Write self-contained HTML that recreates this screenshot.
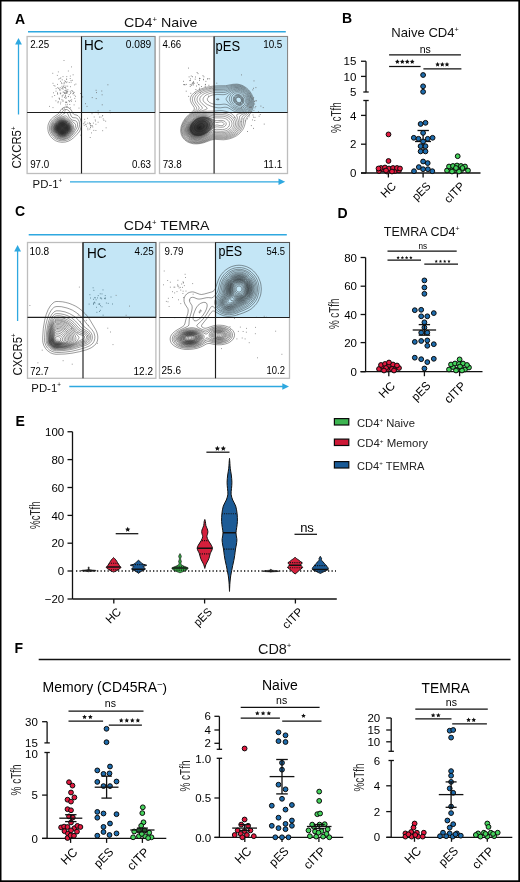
<!DOCTYPE html>
<html><head><meta charset="utf-8"><style>
html,body{margin:0;padding:0;background:#fff;}
svg{display:block;will-change:transform;}
text{font-family:"Liberation Sans", sans-serif;}
</style></head><body>
<svg width="520" height="882" viewBox="0 0 520 882" font-family="Liberation Sans, sans-serif">
<rect x="0.00" y="0.00" width="520.00" height="882.00" fill="#000" stroke="none" stroke-width="1"/>
<rect x="1.50" y="1.50" width="516.80" height="878.80" fill="#fff" stroke="none" stroke-width="1"/>
<text x="15.00" y="24.00" font-size="14" font-weight="bold" fill="#000">A</text>
<text x="124.00" y="27.00" font-size="12.8" fill="#111" textLength="73.50" lengthAdjust="spacingAndGlyphs">CD4<tspan font-size="7.0" dy="-5.4">+</tspan><tspan dy="5.4"> Naive</tspan></text>
<line x1="28.00" y1="31.70" x2="285.80" y2="31.70" stroke="#2EA8E0" stroke-width="1.6"/>
<rect x="27.10" y="36.50" width="127.90" height="137.00" fill="#fff" stroke="#BDBDBD" stroke-width="1.3"/>
<rect x="81.50" y="36.50" width="73.50" height="76.00" fill="#C4E6F6" stroke="#888" stroke-width="1"/>
<rect x="159.50" y="36.50" width="128.00" height="137.00" fill="#fff" stroke="#BDBDBD" stroke-width="1.3"/>
<rect x="214.10" y="36.50" width="73.40" height="76.00" fill="#C4E6F6" stroke="#888" stroke-width="1"/>
<clipPath id="cA1"><rect x="27.5" y="37" width="127" height="136.25"/></clipPath>
<clipPath id="cA2"><rect x="160" y="37" width="127" height="136.25"/></clipPath>
<defs><radialGradient id="gcore"><stop offset="0" stop-color="#111" stop-opacity="0.95"/><stop offset="0.55" stop-color="#222" stop-opacity="0.75"/><stop offset="1" stop-color="#444" stop-opacity="0"/></radialGradient></defs>
<ellipse cx="62.5" cy="128.2" rx="10" ry="9.5" fill="url(#gcore)" opacity="0.9"/>
<ellipse cx="199.5" cy="127.5" rx="17" ry="12" transform="rotate(-30 199.5 127.5)" fill="url(#gcore)" clip-path="url(#cA2)"/>
<path d="M65.5,142.0 L62.0,142.3 L58.5,141.8 L55.5,140.7 L53.0,139.0 L50.6,136.5 L49.1,134.0 L48.2,131.5 L47.8,128.0 L48.1,125.0 L48.8,123.0 L49.8,121.0 L51.3,119.0 L53.5,117.0 L57.4,114.5 L58.5,113.6 L61.0,109.8 L62.5,108.2 L64.0,107.4 L66.0,107.0 L68.0,107.4 L70.0,108.7 L71.1,110.0 L73.0,113.5 L73.5,114.0 L74.5,114.6 L77.0,115.2 L78.0,115.8 L79.0,116.8 L79.9,118.0 L80.7,120.0 L81.2,122.0 L81.3,124.5 L81.1,127.0 L80.4,129.5 L79.4,131.5 L77.9,133.5 L73.5,137.8 L71.0,139.8 L68.5,141.1 L65.5,142.0Z M65.0,140.6 L62.0,140.8 L59.0,140.4 L56.5,139.4 L54.0,137.8 L52.2,136.0 L50.6,133.5 L49.7,131.0 L49.4,128.0 L49.7,125.5 L50.3,123.5 L51.4,121.5 L52.5,120.0 L55.0,117.8 L60.0,114.8 L61.0,113.7 L62.5,111.4 L63.5,110.4 L64.5,109.8 L66.0,109.4 L67.5,109.8 L69.1,111.0 L69.9,112.5 L71.1,116.0 L72.0,117.2 L73.0,117.7 L75.5,117.8 L76.5,118.1 L78.0,119.2 L79.2,121.5 L79.6,124.5 L79.2,127.0 L78.2,129.5 L76.8,131.5 L73.4,135.5 L71.5,137.4 L69.5,138.9 L67.5,139.9 L65.0,140.6Z M64.0,139.5 L61.5,139.6 L59.0,139.1 L56.5,138.1 L54.3,136.5 L52.6,134.5 L51.3,132.0 L50.7,130.0 L50.6,127.5 L50.9,125.5 L51.6,123.5 L52.8,121.5 L54.0,120.2 L56.5,118.3 L62.0,115.5 L64.5,112.9 L65.3,112.5 L66.0,112.4 L67.0,112.8 L67.5,113.3 L69.2,117.0 L71.0,119.1 L72.5,120.1 L75.5,120.8 L76.6,121.5 L77.4,123.0 L77.6,125.0 L77.4,126.5 L76.5,128.5 L73.7,133.0 L71.7,135.5 L70.0,137.1 L68.0,138.3 L66.0,139.1 L64.0,139.5Z M65.0,138.6 L62.5,138.9 L60.0,138.6 L57.5,137.7 L55.5,136.5 L53.5,134.5 L52.3,132.5 L51.6,130.5 L51.4,128.0 L51.6,126.0 L52.3,124.0 L53.4,122.0 L55.0,120.3 L56.5,119.2 L58.5,118.1 L65.0,115.9 L65.5,115.9 L66.5,116.3 L71.0,120.6 L74.9,123.5 L75.5,124.5 L75.6,125.5 L75.2,127.5 L74.2,130.0 L72.9,132.5 L71.6,134.5 L70.1,136.0 L68.5,137.2 L66.5,138.2 L65.0,138.6Z M64.0,138.0 L62.0,138.1 L59.5,137.7 L57.5,136.9 L55.5,135.5 L54.1,134.0 L52.9,132.0 L52.3,130.0 L52.1,128.0 L52.4,126.0 L53.1,124.0 L54.0,122.5 L55.5,120.9 L57.0,119.8 L59.0,118.8 L62.0,117.9 L64.0,117.6 L65.5,117.8 L66.5,118.2 L68.0,119.2 L70.6,121.5 L72.4,123.5 L73.0,124.5 L73.5,125.5 L73.7,127.0 L73.4,129.0 L72.7,131.0 L71.7,133.0 L70.5,134.5 L69.0,135.9 L67.5,136.9 L65.5,137.7 L64.0,138.0Z M65.5,137.0 L63.5,137.4 L61.5,137.4 L60.0,137.2 L58.0,136.4 L56.5,135.5 L55.0,134.1 L53.9,132.5 L53.3,131.0 L52.8,129.0 L52.8,127.5 L53.2,125.5 L53.9,124.0 L54.8,122.5 L56.4,121.0 L58.0,119.9 L60.0,119.1 L62.0,118.6 L63.5,118.5 L65.0,118.7 L66.5,119.2 L68.0,120.2 L70.0,122.0 L71.2,123.5 L72.3,125.5 L72.6,127.0 L72.5,129.0 L71.9,131.0 L71.2,132.5 L70.1,134.0 L69.0,135.1 L67.5,136.2 L65.5,137.0Z M65.0,136.6 L63.5,136.8 L61.5,136.8 L59.5,136.4 L58.0,135.8 L56.5,134.7 L55.3,133.5 L54.3,132.0 L53.8,130.5 L53.4,128.5 L53.5,127.0 L54.1,125.0 L54.9,123.5 L56.0,122.1 L57.0,121.3 L58.5,120.4 L60.5,119.6 L62.5,119.3 L64.0,119.3 L65.5,119.7 L67.0,120.4 L68.5,121.5 L69.9,123.0 L70.9,124.5 L71.5,126.0 L71.8,127.5 L71.7,129.0 L71.2,131.0 L70.4,132.5 L69.3,134.0 L68.0,135.1 L66.5,136.0 L65.0,136.6Z M65.0,136.0 L63.5,136.3 L61.5,136.3 L60.0,136.0 L58.5,135.4 L57.1,134.5 L56.0,133.5 L55.0,132.0 L54.3,130.5 L54.0,129.0 L54.0,127.5 L54.3,126.0 L54.9,124.5 L55.9,123.0 L57.0,122.0 L58.5,121.0 L60.0,120.3 L62.0,119.9 L63.5,119.9 L65.0,120.2 L66.5,120.8 L68.0,121.8 L69.2,123.0 L70.2,124.5 L70.9,126.0 L71.2,127.5 L71.1,129.0 L70.8,130.5 L70.1,132.0 L69.0,133.5 L68.0,134.4 L66.5,135.4 L65.0,136.0Z M65.0,135.5 L63.5,135.8 L62.0,135.9 L60.5,135.7 L59.0,135.1 L57.5,134.2 L56.5,133.3 L55.5,132.0 L54.8,130.5 L54.5,129.0 L54.5,127.5 L54.8,126.0 L55.5,124.5 L56.5,123.1 L57.5,122.2 L60.0,120.8 L61.5,120.5 L63.0,120.4 L64.5,120.6 L66.0,121.1 L67.4,122.0 L68.5,123.0 L69.6,124.5 L70.3,126.0 L70.6,128.5 L70.4,130.0 L69.8,131.5 L68.8,133.0 L67.8,134.0 L66.5,134.9 L65.0,135.5Z M65.0,135.1 L63.5,135.4 L62.0,135.4 L60.5,135.2 L59.0,134.6 L56.8,133.0 L56.0,131.9 L55.3,130.5 L55.0,129.0 L55.0,127.5 L55.7,125.0 L56.5,123.8 L57.5,122.7 L58.6,122.0 L60.0,121.3 L61.5,120.9 L63.0,120.9 L64.5,121.1 L66.0,121.7 L67.3,122.5 L68.3,123.5 L69.1,124.5 L69.8,126.0 L70.1,128.5 L69.9,130.0 L69.3,131.5 L68.5,132.6 L67.5,133.6 L66.5,134.4 L65.0,135.1Z M63.0,135.0 L60.5,134.8 L59.0,134.2 L58.0,133.5 L57.0,132.5 L56.3,131.5 L55.6,130.0 L55.4,128.5 L55.8,126.0 L56.5,124.5 L57.3,123.5 L59.5,122.0 L62.0,121.3 L64.5,121.5 L66.0,122.2 L67.0,122.8 L68.0,123.8 L68.8,125.0 L69.3,126.0 L69.6,127.5 L69.4,130.0 L68.8,131.5 L68.0,132.5 L66.0,134.2 L64.5,134.8 L63.0,135.0Z M63.5,134.6 L61.0,134.5 L59.5,134.0 L58.5,133.4 L57.5,132.5 L56.7,131.5 L56.2,130.5 L55.8,129.0 L55.8,127.5 L56.0,126.5 L57.0,124.5 L57.9,123.5 L59.0,122.7 L61.5,121.8 L64.0,121.8 L65.5,122.3 L66.5,122.9 L67.5,123.8 L68.4,125.0 L69.2,127.0 L69.3,128.0 L69.1,129.5 L68.6,131.0 L68.0,132.0 L67.0,133.0 L66.0,133.7 L65.0,134.2 L63.5,134.6Z M64.5,134.0 L62.0,134.3 L59.5,133.6 L58.5,133.0 L57.5,132.0 L56.4,130.0 L56.2,129.0 L56.1,127.5 L56.8,125.5 L57.4,124.5 L58.4,123.5 L60.5,122.3 L63.0,122.0 L64.5,122.3 L65.5,122.7 L66.5,123.4 L67.5,124.3 L68.7,126.5 L68.9,127.5 L68.9,129.0 L68.2,131.0 L67.5,132.0 L66.5,133.0 L64.5,134.0Z M64.5,133.6 L62.0,133.9 L60.0,133.4 L59.0,132.9 L58.0,132.0 L56.8,130.0 L56.6,129.0 L56.5,127.5 L57.2,125.5 L58.5,123.9 L60.5,122.8 L63.0,122.4 L65.0,122.9 L66.0,123.5 L67.0,124.4 L67.8,125.5 L68.3,126.5 L68.5,127.5 L68.5,129.0 L67.8,131.0 L66.5,132.5 L64.5,133.6Z M63.0,133.6 L61.0,133.4 L59.0,132.4 L58.1,131.5 L57.4,130.5 L56.9,128.5 L57.2,126.5 L57.6,125.5 L58.4,124.5 L60.0,123.4 L62.0,122.8 L64.0,123.0 L66.0,124.0 L67.4,125.5 L68.1,127.5 L68.0,129.5 L66.9,131.5 L66.0,132.4 L65.0,133.0 L63.0,133.6Z M64.0,133.1 L62.0,133.2 L60.0,132.7 L58.5,131.5 L57.8,130.5 L57.4,129.5 L57.3,127.5 L58.0,125.5 L59.5,124.0 L61.0,123.3 L63.0,123.1 L65.0,123.7 L66.6,125.0 L67.3,126.0 L67.6,127.0 L67.7,129.0 L67.0,130.9 L65.5,132.4 L64.0,133.1Z M64.5,132.5 L62.5,133.0 L60.5,132.5 L58.9,131.5 L57.9,130.0 L57.6,128.5 L57.9,126.5 L58.8,125.0 L60.5,123.8 L62.5,123.4 L64.5,123.8 L66.0,124.8 L67.0,126.2 L67.5,128.0 L67.1,130.0 L66.1,131.5 L64.5,132.5Z M63.0,132.6 L61.0,132.3 L59.5,131.5 L58.3,130.0 L57.9,128.5 L58.1,127.0 L59.0,125.4 L60.5,124.3 L62.0,123.8 L63.5,123.9 L65.0,124.5 L66.5,126.0 L67.0,127.5 L66.9,129.5 L66.0,131.0 L64.5,132.1 L63.0,132.6Z M63.5,132.1 L61.5,132.1 L60.1,131.5 L59.1,130.5 L58.4,129.0 L58.4,127.5 L59.0,126.0 L60.0,125.0 L61.5,124.3 L63.0,124.2 L64.5,124.7 L65.6,125.5 L66.5,127.0 L66.7,128.5 L66.2,130.0 L65.0,131.4 L63.5,132.1Z M64.0,131.6 L62.5,131.9 L61.0,131.6 L60.0,131.0 L59.1,130.0 L58.6,128.5 L58.8,127.0 L59.5,125.9 L60.5,125.0 L62.0,124.5 L63.5,124.6 L65.0,125.4 L66.0,126.5 L66.4,128.0 L66.1,129.5 L65.5,130.6 L64.0,131.6Z M63.0,131.5 L61.5,131.4 L60.5,130.9 L59.5,129.9 L59.0,128.5 L59.3,127.0 L59.9,126.0 L61.0,125.2 L62.0,124.9 L63.5,125.0 L64.5,125.5 L65.5,126.5 L65.9,127.5 L65.9,129.0 L65.4,130.0 L64.4,131.0 L63.0,131.5Z M63.0,131.1 L61.6,131.0 L60.6,130.5 L59.8,129.5 L59.5,128.5 L59.5,127.5 L60.0,126.5 L61.0,125.6 L62.0,125.3 L63.0,125.3 L64.0,125.6 L65.0,126.5 L65.5,127.5 L65.5,128.7 L65.0,129.9 L64.0,130.8 L63.0,131.1Z M63.5,130.5 L62.5,130.7 L61.5,130.5 L60.7,130.0 L60.0,129.0 L59.9,128.0 L60.2,127.0 L60.6,126.5 L61.5,125.9 L62.5,125.7 L63.5,125.9 L64.4,126.5 L65.0,127.5 L65.0,129.0 L64.3,130.0 L63.5,130.5Z M63.0,130.2 L61.5,130.0 L60.9,129.5 L60.4,128.5 L60.5,127.5 L60.8,127.0 L61.3,126.5 L62.0,126.2 L63.5,126.4 L64.5,127.5 L64.6,128.5 L64.5,129.0 L64.0,129.6 L63.0,130.2Z M63.0,129.6 L61.9,129.5 L61.3,129.0 L61.0,128.5 L61.2,127.5 L62.0,126.8 L62.5,126.8 L63.3,127.0 L64.0,128.0 L63.7,129.0 L63.0,129.6Z" fill="none" stroke="#222" stroke-width="0.45" clip-path="url(#cA1)"/>
<path d="M66.0,86.1h0.01M67.9,89.7h0.01M64.2,87.4h0.01M60.2,93.1h0.01M63.0,89.2h0.01M59.6,90.0h0.01M66.4,79.2h0.01M74.7,84.9h0.01M62.8,109.5h0.01M62.0,86.3h0.01M69.2,82.5h0.01M68.3,96.4h0.01M66.7,107.1h0.01M60.0,78.5h0.01M65.8,90.9h0.01M70.5,86.7h0.01M57.3,75.4h0.01M63.0,100.3h0.01M53.6,92.8h0.01M57.6,93.7h0.01M54.0,85.5h0.01M64.5,97.5h0.01M57.8,87.6h0.01M67.8,91.6h0.01M67.0,81.9h0.01M64.8,80.8h0.01M49.6,106.4h0.01M62.5,87.9h0.01M65.7,95.9h0.01M66.7,92.7h0.01M56.1,88.6h0.01M62.9,87.9h0.01M59.6,99.3h0.01M60.7,90.0h0.01M72.9,91.5h0.01M60.8,93.2h0.01M65.8,104.8h0.01M71.7,99.8h0.01M62.2,96.8h0.01M65.3,87.4h0.01M66.7,79.2h0.01M66.4,102.5h0.01M58.0,102.7h0.01M66.5,91.6h0.01M74.8,98.4h0.01M55.9,100.8h0.01M71.6,101.3h0.01M66.8,102.2h0.01M61.8,88.4h0.01M79.0,108.1h0.01M71.0,80.5h0.01M58.2,101.6h0.01M66.5,97.9h0.01M69.7,101.7h0.01M64.8,111.8h0.01M70.4,107.8h0.01M65.6,81.5h0.01M70.3,76.1h0.01M75.4,101.2h0.01M61.6,82.8h0.01M67.3,92.9h0.01M63.0,101.4h0.01M66.8,76.6h0.01M58.3,71.9h0.01M62.2,95.6h0.01M64.7,93.4h0.01M71.8,90.5h0.01M73.4,93.4h0.01M57.4,84.4h0.01M60.8,77.9h0.01M70.2,91.3h0.01M53.0,83.3h0.01M63.0,76.6h0.01M65.4,98.1h0.01M74.2,92.4h0.01M70.5,97.1h0.01M63.9,83.1h0.01M63.6,86.4h0.01M64.4,83.0h0.01M75.9,84.1h0.01M63.2,95.0h0.01M64.0,85.2h0.01M68.3,96.6h0.01M65.2,96.4h0.01M64.7,113.3h0.01M58.8,79.1h0.01M65.9,101.9h0.01M63.1,92.1h0.01M73.6,92.9h0.01M70.2,78.5h0.01M65.8,88.4h0.01M70.3,100.4h0.01M63.8,92.2h0.01M72.8,93.8h0.01M66.0,90.1h0.01M69.8,104.5h0.01M57.6,92.8h0.01M68.3,71.0h0.01M55.0,86.1h0.01M52.8,73.3h0.01M64.0,60.5h0.01M60.2,87.7h0.01M67.1,106.3h0.01M80.6,93.5h0.01M60.6,81.3h0.01M61.9,83.6h0.01M67.3,104.3h0.01M69.2,94.6h0.01M64.9,93.5h0.01M64.7,92.5h0.01M70.6,93.4h0.01M69.4,101.1h0.01M59.3,98.5h0.01M65.5,95.2h0.01M66.2,82.6h0.01M59.1,98.1h0.01M67.7,86.2h0.01M60.4,103.9h0.01M72.3,80.3h0.01M67.3,91.6h0.01M66.6,92.9h0.01M62.2,79.8h0.01M65.2,110.2h0.01M53.0,107.6h0.01M58.6,88.4h0.01M68.4,100.7h0.01M52.2,96.8h0.01M71.5,66.9h0.01M54.7,95.5h0.01M70.9,92.4h0.01M60.5,93.8h0.01M71.1,82.2h0.01M66.9,90.3h0.01M56.0,91.2h0.01M74.1,104.9h0.01M75.4,96.3h0.01M65.6,92.9h0.01M64.2,108.3h0.01M65.0,87.4h0.01M59.7,89.1h0.01M73.1,74.8h0.01M62.5,108.7h0.01M65.7,102.6h0.01M60.8,102.2h0.01M61.9,99.7h0.01M57.7,94.1h0.01M74.2,95.2h0.01M65.0,90.5h0.01M72.3,91.0h0.01M66.1,93.5h0.01" stroke="#777" stroke-width="0.9" stroke-linecap="round" stroke-opacity="1.0"/>
<path d="M102.6,115.9h0.01M95.9,124.3h0.01M91.6,132.9h0.01M87.9,129.8h0.01M87.6,118.3h0.01M103.2,118.9h0.01M95.5,121.0h0.01M92.5,125.8h0.01M89.6,122.8h0.01M84.2,125.3h0.01M91.5,125.8h0.01M98.1,122.2h0.01M89.3,123.8h0.01M90.4,125.2h0.01M90.5,123.5h0.01M92.8,127.0h0.01M80.8,135.2h0.01M90.4,127.6h0.01M86.0,124.3h0.01M98.2,113.9h0.01M86.6,126.3h0.01M96.0,112.3h0.01M102.7,115.5h0.01M89.8,129.1h0.01M87.8,128.2h0.01M93.3,123.1h0.01M92.0,113.7h0.01M85.0,121.8h0.01M95.2,119.9h0.01M106.1,127.8h0.01M90.2,137.5h0.01M90.6,125.3h0.01M84.7,119.3h0.01M94.2,117.0h0.01M83.3,123.7h0.01M84.3,122.9h0.01M101.0,117.1h0.01M85.7,124.7h0.01M99.6,117.1h0.01M102.7,130.7h0.01M93.8,130.4h0.01M95.9,130.5h0.01M105.7,121.2h0.01M90.6,127.1h0.01M87.8,123.2h0.01" stroke="#777" stroke-width="0.9" stroke-linecap="round" stroke-opacity="1.0"/>
<path d="M96.1,90.3h0.01M96.6,92.6h0.01M87.0,106.4h0.01M85.6,103.7h0.01M107.9,84.8h0.01M98.1,110.8h0.01M102.2,104.8h0.01M110.0,110.7h0.01M82.7,96.9h0.01M92.2,97.6h0.01M101.8,91.0h0.01M103.9,120.3h0.01M96.2,98.6h0.01M110.3,112.7h0.01M102.1,94.8h0.01" stroke="#666" stroke-width="0.9" stroke-linecap="round" stroke-opacity="1.0"/>
<path d="M200.5,143.5 L197.0,143.9 L193.5,143.8 L190.5,143.1 L187.5,141.9 L185.0,140.2 L183.0,138.0 L181.6,135.5 L180.8,132.5 L180.6,130.0 L181.0,127.0 L181.8,124.5 L183.2,121.5 L184.8,119.0 L186.4,117.0 L188.5,114.9 L192.9,111.0 L193.9,110.0 L194.4,109.0 L194.2,107.5 L191.3,103.0 L190.4,100.5 L190.3,99.0 L190.6,97.5 L191.2,96.0 L192.3,94.5 L193.8,93.0 L195.5,91.7 L200.0,89.3 L206.0,87.3 L212.5,86.2 L217.0,85.8 L225.5,85.7 L233.0,84.3 L237.0,84.1 L239.5,84.5 L242.0,85.3 L244.5,86.6 L247.0,88.4 L248.7,90.0 L250.3,92.0 L251.8,94.5 L252.7,96.5 L253.7,100.5 L253.8,102.5 L253.7,105.0 L253.0,108.0 L251.8,111.0 L250.2,113.5 L247.2,117.0 L246.3,118.5 L245.8,120.0 L245.0,124.0 L244.3,126.5 L243.2,129.0 L241.4,131.5 L239.0,134.0 L236.5,135.8 L233.5,137.4 L230.0,138.7 L227.0,139.4 L223.5,139.8 L215.5,139.4 L213.0,139.6 L211.0,140.1 L204.0,142.7 L200.5,143.5Z M199.5,143.1 L196.0,143.3 L192.5,142.9 L189.5,142.1 L187.0,140.8 L184.8,139.0 L183.2,137.0 L182.1,134.5 L181.4,131.5 L181.5,128.5 L182.1,125.5 L183.4,122.5 L184.9,120.0 L186.4,118.0 L188.5,115.8 L195.2,110.5 L196.5,109.0 L196.6,108.5 L196.5,107.5 L193.4,103.0 L192.7,101.5 L192.4,100.0 L192.4,98.5 L192.8,97.0 L193.7,95.5 L194.5,94.5 L196.0,93.1 L197.5,92.0 L202.0,89.8 L207.0,88.3 L213.0,87.2 L217.0,87.0 L225.5,86.8 L233.0,85.2 L236.5,84.9 L239.0,85.2 L242.0,86.1 L244.0,87.2 L246.6,89.0 L248.1,90.5 L249.7,92.5 L250.9,94.5 L251.8,96.5 L252.8,100.5 L253.0,103.0 L252.8,105.0 L251.8,108.5 L250.2,111.5 L248.5,113.5 L245.2,116.5 L244.1,118.0 L243.7,119.5 L243.4,123.5 L242.8,126.0 L241.5,129.0 L239.8,131.5 L237.8,133.5 L235.5,135.2 L232.5,136.8 L229.5,137.8 L227.0,138.4 L223.5,138.8 L215.5,138.5 L213.5,138.7 L210.5,139.5 L203.5,142.2 L199.5,143.1Z M198.5,142.6 L195.5,142.6 L192.5,142.3 L189.5,141.3 L187.0,139.9 L185.0,138.0 L183.3,135.5 L182.4,133.0 L182.1,130.5 L182.3,127.5 L183.2,124.5 L184.4,122.0 L186.1,119.5 L187.8,117.5 L190.0,115.4 L193.0,113.1 L197.8,110.0 L198.9,109.0 L199.1,108.5 L199.2,108.0 L198.9,107.0 L195.8,103.0 L194.7,100.5 L194.6,99.0 L194.9,97.5 L195.6,96.0 L196.4,95.0 L198.5,93.2 L201.0,91.7 L204.0,90.4 L207.5,89.4 L211.0,88.7 L215.0,88.2 L225.5,88.0 L228.0,87.5 L232.5,86.2 L234.5,85.8 L238.0,85.8 L241.0,86.6 L243.5,87.7 L246.5,89.9 L249.2,93.0 L250.4,95.0 L251.2,97.0 L251.8,99.0 L252.1,101.5 L252.1,103.5 L251.8,105.5 L250.8,108.5 L249.0,111.3 L247.0,113.3 L243.0,116.0 L242.1,117.0 L241.7,118.5 L241.8,123.0 L241.3,126.0 L240.0,129.0 L238.2,131.5 L236.5,133.1 L234.0,134.9 L231.5,136.1 L228.5,137.1 L225.5,137.7 L223.0,137.9 L216.0,137.6 L213.5,137.8 L211.0,138.5 L204.0,141.4 L201.0,142.2 L198.5,142.6Z M201.0,141.5 L197.5,142.0 L194.0,141.8 L191.0,141.1 L188.5,139.9 L186.1,138.0 L184.5,136.0 L183.4,133.5 L182.9,130.5 L183.2,127.0 L184.2,124.0 L185.8,121.0 L187.7,118.5 L190.0,116.3 L192.5,114.3 L195.0,112.8 L201.2,109.5 L202.2,108.5 L202.4,108.0 L202.0,107.0 L198.4,103.0 L197.7,102.0 L197.1,100.5 L197.0,99.0 L197.2,98.0 L197.9,96.5 L198.6,95.5 L200.3,94.0 L202.5,92.6 L205.5,91.4 L208.5,90.5 L211.5,89.9 L215.0,89.5 L225.5,89.3 L227.5,88.9 L232.5,87.1 L235.0,86.6 L238.0,86.7 L240.5,87.2 L243.0,88.3 L245.5,90.0 L248.3,93.0 L249.2,94.5 L250.4,97.0 L251.0,99.0 L251.3,101.0 L251.3,103.0 L251.0,105.0 L250.4,107.0 L249.7,108.5 L248.8,110.0 L247.5,111.4 L245.0,113.2 L241.1,115.0 L239.8,116.0 L239.5,117.5 L240.2,122.0 L240.0,125.0 L239.0,128.0 L238.2,129.5 L237.0,131.0 L235.0,132.9 L233.0,134.2 L231.0,135.2 L228.5,136.1 L226.0,136.7 L223.5,137.0 L216.0,136.7 L213.5,136.9 L211.5,137.5 L205.0,140.3 L201.0,141.5Z M199.5,141.1 L196.0,141.3 L193.0,140.9 L190.0,139.8 L188.0,138.6 L186.0,136.7 L184.6,134.5 L183.9,132.0 L183.7,129.5 L184.2,126.0 L185.5,123.0 L187.4,120.0 L190.0,117.2 L192.5,115.2 L196.0,113.1 L199.5,111.6 L205.9,109.5 L206.8,109.0 L207.1,108.5 L206.7,107.5 L202.0,103.6 L200.3,101.5 L199.8,100.0 L199.8,98.5 L200.4,97.0 L201.2,96.0 L202.9,94.5 L204.6,93.5 L207.0,92.5 L209.5,91.7 L212.5,91.1 L215.5,90.8 L223.5,90.9 L225.5,90.7 L227.5,90.2 L232.5,88.1 L235.0,87.5 L238.0,87.5 L240.5,88.1 L243.0,89.2 L245.5,91.0 L246.9,92.5 L248.0,94.0 L249.7,97.5 L250.4,101.0 L250.4,103.0 L250.1,105.0 L249.4,107.0 L248.6,108.5 L247.5,110.0 L246.0,111.3 L244.5,112.2 L243.0,112.9 L237.9,114.0 L236.9,114.5 L236.7,115.5 L238.4,120.5 L238.7,122.5 L238.7,124.0 L238.3,126.0 L237.8,127.5 L237.0,129.0 L235.8,130.5 L234.2,132.0 L232.5,133.2 L230.5,134.3 L228.0,135.2 L225.5,135.8 L223.0,136.0 L216.0,135.8 L213.5,136.0 L211.0,136.8 L204.5,139.8 L201.5,140.7 L199.5,141.1Z M241.5,112.1 L238.5,112.2 L235.5,111.7 L233.0,110.7 L229.0,108.2 L227.0,107.4 L225.0,107.2 L220.5,107.8 L218.0,107.8 L214.5,107.2 L211.0,106.2 L207.2,104.5 L204.6,102.5 L203.7,101.5 L203.2,100.5 L203.0,99.0 L203.3,98.0 L204.3,96.5 L206.0,95.1 L208.2,94.0 L211.0,93.1 L216.0,92.4 L223.5,92.5 L225.5,92.3 L227.5,91.6 L232.5,89.2 L235.5,88.4 L238.0,88.4 L241.0,89.1 L243.0,90.1 L244.5,91.2 L245.8,92.5 L247.1,94.0 L248.2,96.0 L248.9,97.5 L249.4,99.5 L249.6,101.5 L249.5,103.0 L249.2,105.0 L248.4,107.0 L247.4,108.5 L246.5,109.5 L245.0,110.7 L243.0,111.7 L241.5,112.1Z M197.5,140.5 L195.0,140.4 L192.5,139.9 L190.5,139.2 L188.6,138.0 L187.0,136.5 L185.9,135.0 L185.0,133.0 L184.6,131.0 L184.6,128.5 L184.9,126.5 L185.8,124.0 L186.9,122.0 L188.3,120.0 L190.2,118.0 L192.5,116.1 L194.5,114.8 L199.0,112.7 L202.0,111.9 L204.5,111.4 L207.5,111.2 L214.0,111.1 L219.5,110.6 L222.0,110.6 L226.0,111.4 L228.5,112.2 L230.5,113.1 L232.0,114.1 L233.5,115.4 L235.6,118.0 L236.5,120.0 L237.1,122.0 L237.2,124.0 L236.8,126.0 L236.0,128.0 L235.0,129.5 L233.5,131.0 L231.5,132.5 L228.5,133.9 L225.0,134.8 L221.5,135.0 L215.5,134.8 L213.5,135.0 L211.0,135.9 L204.0,139.2 L200.5,140.2 L197.5,140.5Z M240.0,111.0 L237.5,110.8 L235.0,109.9 L233.0,108.8 L228.0,105.1 L226.0,104.3 L224.0,104.1 L220.0,104.6 L217.0,104.6 L214.0,104.2 L211.7,103.5 L209.6,102.5 L208.0,101.1 L207.4,100.0 L207.4,98.5 L208.0,97.5 L209.1,96.5 L210.5,95.7 L212.6,95.0 L217.0,94.4 L223.0,94.7 L225.0,94.5 L227.0,93.8 L231.5,90.8 L234.0,89.7 L236.0,89.3 L237.5,89.3 L240.5,89.9 L242.5,90.9 L244.0,91.9 L246.4,94.5 L247.3,96.0 L248.1,98.0 L248.6,100.0 L248.7,102.0 L248.4,104.0 L248.0,105.5 L247.2,107.0 L246.1,108.5 L245.0,109.4 L243.5,110.3 L242.0,110.8 L240.0,111.0Z M200.0,139.5 L197.5,139.8 L195.0,139.6 L192.5,139.0 L190.5,138.2 L188.8,137.0 L187.4,135.5 L186.4,134.0 L185.7,132.0 L185.4,130.0 L185.6,127.5 L186.3,125.0 L187.2,123.0 L188.5,121.0 L190.2,119.0 L192.0,117.4 L194.5,115.7 L196.5,114.6 L199.0,113.6 L201.5,112.9 L204.0,112.6 L207.5,112.5 L214.5,113.1 L222.5,112.9 L226.5,113.6 L229.5,114.8 L232.1,116.5 L234.2,119.0 L235.2,121.0 L235.5,122.5 L235.6,124.0 L235.2,126.0 L234.6,127.5 L233.6,129.0 L232.1,130.5 L230.5,131.7 L227.5,133.0 L224.5,133.7 L221.5,133.9 L216.0,133.7 L213.5,134.0 L211.0,135.0 L204.5,138.3 L202.0,139.1 L200.0,139.5Z M242.0,109.6 L240.5,109.8 L238.5,109.7 L236.5,109.2 L234.5,108.2 L232.5,106.8 L230.5,105.0 L227.8,102.0 L226.4,100.0 L226.2,99.5 L226.2,98.5 L227.8,96.0 L230.6,93.0 L233.0,91.4 L234.5,90.7 L236.5,90.4 L238.5,90.4 L240.5,90.9 L242.5,92.0 L244.0,93.1 L245.2,94.5 L246.5,96.5 L247.3,98.5 L247.7,100.5 L247.7,102.5 L247.3,104.5 L246.3,106.5 L245.0,108.0 L243.5,109.0 L242.0,109.6Z M219.0,99.5 L218.0,99.9 L216.5,99.5 L216.7,99.0 L218.0,98.8 L218.9,99.0 L219.0,99.5Z M201.0,138.5 L198.5,138.9 L196.0,138.9 L194.0,138.6 L192.0,137.9 L190.0,136.7 L188.6,135.5 L187.5,134.0 L186.7,132.0 L186.3,130.0 L186.4,128.0 L186.8,126.0 L187.9,123.5 L189.1,121.5 L190.8,119.5 L193.0,117.6 L195.0,116.3 L197.0,115.3 L199.5,114.4 L202.0,113.8 L204.0,113.5 L207.5,113.6 L214.5,114.6 L223.0,114.6 L226.0,115.1 L229.0,116.4 L231.2,118.0 L232.8,120.0 L233.5,121.5 L233.9,123.0 L233.9,124.5 L233.5,126.0 L232.8,127.5 L232.1,128.5 L231.0,129.6 L229.5,130.7 L227.0,131.9 L224.0,132.6 L221.0,132.7 L216.0,132.4 L213.5,132.8 L211.5,133.7 L205.0,137.2 L201.0,138.5Z M241.0,108.5 L239.5,108.6 L237.5,108.2 L236.0,107.6 L234.5,106.8 L233.0,105.5 L231.6,104.0 L230.5,102.5 L229.8,101.0 L229.4,99.5 L229.4,98.5 L229.7,97.0 L230.1,96.0 L231.1,94.5 L232.0,93.6 L233.0,92.8 L234.5,92.0 L236.0,91.6 L237.5,91.5 L239.5,91.8 L241.0,92.3 L242.5,93.2 L243.9,94.5 L245.1,96.0 L245.9,97.5 L246.4,99.0 L246.7,101.0 L246.5,103.0 L246.0,104.5 L245.2,106.0 L244.0,107.2 L242.5,108.1 L241.0,108.5Z M198.5,138.0 L196.5,138.0 L194.5,137.7 L192.5,137.0 L191.0,136.2 L189.6,135.0 L188.5,133.5 L187.8,132.0 L187.4,130.0 L187.4,128.0 L187.8,126.0 L188.6,124.0 L189.5,122.5 L191.0,120.6 L192.5,119.1 L196.0,116.7 L200.0,115.1 L202.0,114.7 L204.5,114.5 L208.0,114.8 L215.0,116.2 L223.0,116.2 L225.5,116.7 L228.0,117.8 L230.0,119.3 L231.3,121.0 L231.7,122.0 L232.0,123.5 L231.8,125.0 L231.5,126.0 L231.0,127.0 L230.0,128.3 L227.6,130.0 L225.5,130.8 L223.0,131.3 L220.5,131.3 L216.5,131.1 L214.0,131.4 L212.0,132.2 L207.0,135.3 L204.0,136.7 L201.0,137.7 L198.5,138.0Z M241.0,107.1 L238.5,107.1 L236.0,106.2 L234.5,105.1 L233.4,104.0 L231.8,101.5 L231.3,99.0 L231.6,97.0 L232.1,96.0 L233.0,94.8 L235.0,93.3 L236.0,93.0 L237.5,92.8 L239.0,92.9 L240.5,93.4 L242.0,94.3 L243.0,95.2 L244.0,96.5 L244.8,98.0 L245.3,99.5 L245.4,101.0 L245.3,102.5 L244.8,104.0 L244.2,105.0 L243.3,106.0 L242.0,106.8 L241.0,107.1Z M199.5,137.0 L197.5,137.1 L195.5,136.9 L193.5,136.3 L192.0,135.6 L190.7,134.5 L189.5,133.0 L188.8,131.5 L188.5,130.0 L188.4,128.5 L188.7,126.5 L189.2,125.0 L190.3,123.0 L191.4,121.5 L193.0,119.8 L194.5,118.7 L196.5,117.5 L199.0,116.4 L201.5,115.8 L204.0,115.6 L206.5,115.7 L215.0,117.9 L221.5,117.9 L224.0,118.2 L225.5,118.7 L227.0,119.5 L228.2,120.5 L229.0,121.5 L229.6,123.5 L229.3,125.5 L228.4,127.0 L226.5,128.5 L224.5,129.3 L222.5,129.6 L216.5,129.3 L214.5,129.6 L212.5,130.5 L207.5,133.9 L205.0,135.3 L202.5,136.3 L199.5,137.0Z M240.0,105.6 L238.0,105.3 L236.3,104.5 L234.6,103.0 L233.5,101.0 L233.2,99.0 L233.7,97.0 L234.8,95.5 L236.5,94.6 L237.5,94.4 L239.0,94.5 L241.0,95.4 L242.7,97.0 L243.7,99.0 L243.9,100.5 L243.9,101.5 L243.2,103.5 L242.0,104.8 L241.0,105.3 L240.0,105.6Z M199.0,136.0 L197.0,136.0 L195.5,135.8 L194.0,135.3 L192.6,134.5 L191.5,133.6 L190.7,132.5 L189.9,131.0 L189.6,129.5 L189.6,128.0 L189.9,126.5 L191.2,123.5 L192.3,122.0 L193.7,120.5 L197.0,118.3 L199.5,117.3 L201.5,116.8 L204.0,116.7 L206.0,116.8 L209.0,117.7 L214.0,120.1 L215.5,120.5 L217.0,120.7 L221.0,120.4 L223.0,120.6 L225.0,121.5 L226.0,122.7 L226.3,124.0 L226.0,125.0 L225.2,126.0 L224.5,126.5 L223.4,127.0 L222.0,127.2 L220.5,127.3 L217.0,126.8 L215.0,127.1 L213.0,128.2 L208.4,132.0 L205.5,134.0 L202.5,135.3 L199.0,136.0Z M241.0,104.5 L239.5,104.8 L237.5,104.4 L236.0,103.5 L234.8,102.0 L234.1,100.5 L234.0,98.5 L234.5,97.0 L236.0,95.6 L237.5,95.1 L239.5,95.4 L241.4,96.5 L242.6,98.0 L243.2,100.0 L243.1,102.0 L242.4,103.5 L241.0,104.5Z M200.0,135.5 L198.0,135.7 L196.5,135.5 L195.0,135.2 L193.5,134.5 L192.1,133.5 L191.3,132.5 L190.7,131.5 L190.2,130.0 L190.1,128.5 L190.2,127.0 L190.6,125.5 L191.4,124.0 L192.4,122.5 L193.8,121.0 L195.5,119.6 L197.0,118.7 L199.0,117.9 L201.5,117.2 L204.0,117.1 L206.0,117.3 L208.0,117.9 L210.0,118.7 L214.5,121.7 L216.0,122.4 L217.0,122.6 L220.0,122.0 L221.5,121.9 L223.2,122.5 L224.0,123.4 L224.0,124.3 L223.6,125.0 L222.0,125.7 L220.0,125.6 L217.0,124.9 L215.5,125.2 L214.0,126.3 L208.9,131.0 L206.5,132.9 L203.0,134.7 L200.0,135.5Z M240.0,104.1 L238.5,104.1 L237.0,103.4 L235.9,102.5 L235.0,101.0 L234.6,99.5 L234.9,98.0 L235.5,96.9 L237.0,95.9 L238.5,95.8 L240.0,96.3 L241.5,97.5 L242.4,99.0 L242.7,101.0 L242.2,102.5 L241.4,103.5 L240.0,104.1Z M200.5,135.1 L198.0,135.3 L195.5,134.9 L193.4,134.0 L191.8,132.5 L190.7,130.5 L190.4,128.5 L190.7,126.5 L191.8,124.0 L193.2,122.0 L195.0,120.4 L197.5,118.8 L200.0,117.9 L202.5,117.5 L205.0,117.6 L207.5,118.1 L209.4,119.0 L211.6,120.5 L213.2,122.0 L213.9,123.5 L213.6,125.0 L212.6,126.5 L210.9,128.5 L207.2,132.0 L204.0,133.9 L200.5,135.1Z M240.0,103.1 L239.0,103.2 L237.5,102.8 L236.6,102.0 L235.9,101.0 L235.6,99.5 L235.7,98.5 L236.3,97.5 L237.0,97.0 L238.0,96.7 L239.5,96.9 L240.5,97.6 L241.5,99.0 L241.8,100.5 L241.7,101.5 L241.0,102.6 L240.0,103.1Z M201.0,134.6 L198.5,134.9 L196.5,134.7 L194.5,134.1 L192.9,133.0 L191.7,131.5 L191.0,129.5 L191.0,127.5 L191.5,125.5 L192.5,123.5 L194.3,121.5 L196.2,120.0 L198.5,118.8 L200.5,118.2 L203.0,117.9 L205.5,118.1 L207.5,118.7 L209.9,120.0 L211.9,122.0 L212.5,123.5 L212.5,124.5 L212.2,125.5 L210.2,128.5 L207.2,131.5 L204.0,133.5 L201.0,134.6Z M240.0,102.7 L239.0,102.9 L238.0,102.6 L237.0,101.9 L236.3,101.0 L236.0,100.0 L236.0,99.0 L236.4,98.0 L237.0,97.4 L238.0,97.1 L239.0,97.2 L240.0,97.6 L241.0,98.8 L241.4,100.0 L241.4,101.0 L241.0,102.0 L240.0,102.7Z M200.5,134.6 L198.0,134.8 L196.0,134.5 L194.0,133.6 L192.6,132.5 L191.6,131.0 L191.1,129.0 L191.2,127.0 L191.9,125.0 L193.1,123.0 L194.5,121.5 L196.5,120.0 L199.0,118.8 L201.0,118.2 L203.5,118.0 L206.0,118.4 L208.0,119.1 L210.2,120.5 L211.1,121.5 L211.8,122.5 L212.1,124.0 L211.6,126.0 L209.5,129.0 L206.9,131.5 L204.0,133.4 L200.5,134.6Z M200.5,134.0 L198.5,134.2 L196.5,134.0 L194.5,133.2 L193.1,132.0 L192.2,130.5 L191.8,129.0 L191.8,127.0 L192.5,125.0 L193.5,123.4 L195.0,121.7 L197.0,120.3 L199.0,119.3 L201.0,118.8 L203.0,118.6 L205.0,118.8 L207.0,119.4 L209.0,120.6 L209.9,121.5 L210.5,122.5 L210.8,123.5 L210.9,124.5 L210.3,126.5 L208.7,129.0 L206.0,131.5 L203.5,133.0 L200.5,134.0Z M199.5,133.5 L197.5,133.5 L196.0,133.1 L194.5,132.3 L193.3,131.0 L192.6,129.5 L192.5,128.0 L192.8,126.0 L193.5,124.5 L194.6,123.0 L196.0,121.7 L197.5,120.7 L199.5,119.8 L201.5,119.3 L203.5,119.3 L205.5,119.7 L207.0,120.3 L208.5,121.5 L209.3,122.5 L209.7,123.5 L209.7,125.5 L208.8,127.5 L206.8,130.0 L204.5,131.8 L202.0,133.0 L199.5,133.5Z M201.0,133.0 L199.0,133.3 L197.5,133.2 L196.0,132.8 L194.5,131.8 L193.4,130.5 L192.9,129.0 L192.8,127.5 L193.1,126.0 L193.8,124.5 L195.0,123.0 L196.5,121.6 L198.0,120.7 L200.0,119.9 L202.0,119.6 L204.0,119.6 L205.5,120.0 L207.4,121.0 L208.8,122.5 L209.3,124.0 L209.1,126.0 L207.8,128.5 L206.0,130.4 L203.5,132.1 L201.0,133.0Z M201.0,132.1 L199.5,132.3 L198.0,132.3 L196.5,131.8 L195.2,131.0 L194.4,130.0 L194.0,129.0 L193.9,127.5 L194.2,126.0 L194.9,124.5 L195.7,123.5 L197.0,122.3 L198.5,121.4 L200.0,120.8 L201.5,120.5 L203.0,120.5 L204.5,120.8 L206.0,121.5 L207.5,123.0 L207.9,124.5 L207.8,126.0 L206.9,128.0 L205.5,129.6 L203.5,131.1 L201.0,132.1Z M201.5,131.5 L200.0,131.8 L198.5,131.9 L197.0,131.5 L196.1,131.0 L194.8,129.5 L194.4,128.5 L194.4,127.0 L194.9,125.5 L195.5,124.5 L197.5,122.5 L199.0,121.7 L200.5,121.2 L202.0,121.0 L203.5,121.1 L205.5,121.8 L206.7,123.0 L207.3,124.5 L207.2,126.0 L206.3,128.0 L205.0,129.5 L203.5,130.6 L201.5,131.5Z M201.5,131.0 L199.0,131.4 L197.5,131.1 L196.5,130.6 L195.8,130.0 L195.2,129.0 L195.0,128.0 L195.0,127.0 L195.3,126.0 L196.0,124.6 L197.0,123.5 L198.0,122.7 L200.5,121.7 L203.0,121.5 L204.5,122.0 L205.9,123.0 L206.6,124.5 L206.6,126.0 L206.0,127.5 L204.8,129.0 L203.5,130.0 L201.5,131.0Z M201.5,130.0 L199.5,130.4 L198.5,130.3 L197.5,129.9 L197.0,129.5 L196.3,128.5 L196.1,127.0 L196.4,126.0 L196.9,125.0 L198.5,123.5 L200.5,122.6 L202.5,122.5 L203.5,122.8 L204.6,123.5 L205.2,124.5 L205.3,126.0 L205.0,127.0 L204.0,128.4 L202.6,129.5 L201.5,130.0Z M201.5,129.0 L200.0,129.4 L198.5,129.1 L197.5,128.1 L197.3,127.0 L197.8,125.5 L198.7,124.5 L200.0,123.8 L201.5,123.5 L202.5,123.6 L203.2,124.0 L203.7,124.5 L204.1,125.5 L204.0,126.5 L203.5,127.5 L202.5,128.5 L201.5,129.0Z M200.5,129.1 L199.0,129.0 L198.0,128.4 L197.5,127.5 L197.8,126.0 L198.5,124.9 L200.0,124.0 L201.5,123.7 L202.5,123.9 L203.4,124.5 L203.7,125.0 L203.9,125.5 L203.8,126.5 L203.2,127.5 L202.5,128.2 L201.5,128.8 L200.5,129.1Z" fill="none" stroke="#222" stroke-width="0.42" clip-path="url(#cA2)"/>
<path d="M201.5,86.5h0.01M185.0,84.8h0.01M196.6,86.0h0.01M208.9,85.3h0.01M188.7,96.4h0.01M209.7,78.8h0.01M203.0,75.7h0.01M190.6,78.9h0.01M195.5,77.0h0.01M195.9,89.5h0.01M199.6,89.9h0.01M195.2,79.2h0.01M192.6,76.7h0.01M197.3,82.9h0.01M190.8,93.3h0.01M188.4,68.1h0.01M199.6,88.2h0.01M207.9,78.5h0.01M186.2,91.2h0.01M200.0,78.5h0.01M194.2,83.3h0.01M191.2,76.0h0.01M207.7,79.1h0.01M195.3,93.3h0.01M213.5,89.9h0.01M193.0,82.6h0.01M203.5,79.8h0.01M198.0,73.6h0.01M193.2,82.6h0.01M205.3,84.8h0.01M198.6,84.5h0.01M205.4,84.4h0.01M199.6,78.3h0.01M190.2,84.6h0.01M199.1,84.8h0.01M200.5,92.7h0.01M208.6,96.2h0.01M191.8,84.2h0.01M199.6,80.4h0.01M184.5,84.6h0.01M205.9,81.4h0.01M190.3,80.5h0.01M183.7,84.6h0.01M199.5,78.7h0.01M210.0,88.6h0.01M186.3,84.4h0.01M190.2,86.5h0.01M193.3,83.9h0.01M189.8,80.6h0.01M203.4,79.3h0.01M192.7,83.6h0.01M193.5,81.7h0.01M205.2,86.4h0.01M193.2,85.0h0.01M203.9,76.8h0.01M191.3,85.4h0.01M189.1,76.9h0.01M183.5,81.3h0.01M216.8,83.2h0.01M197.1,72.5h0.01" stroke="#666" stroke-width="0.9" stroke-linecap="round" stroke-opacity="1.0"/>
<path d="M252.6,119.9h0.01M253.1,98.7h0.01M250.9,107.3h0.01M249.0,116.8h0.01M249.4,115.0h0.01M245.2,120.9h0.01M250.1,112.8h0.01M248.1,104.3h0.01M252.6,112.3h0.01M243.6,96.0h0.01M253.6,88.3h0.01M253.0,115.0h0.01M251.0,107.3h0.01M248.9,111.7h0.01M255.9,87.6h0.01M240.3,103.6h0.01M255.2,100.8h0.01M253.7,97.6h0.01M254.0,80.9h0.01M254.7,104.0h0.01M247.4,118.8h0.01M250.2,112.6h0.01M256.5,100.8h0.01M255.0,107.8h0.01M253.4,117.1h0.01M241.4,74.9h0.01M255.8,106.5h0.01M260.2,114.5h0.01M259.1,116.2h0.01M253.6,128.4h0.01M241.1,121.6h0.01M258.6,111.8h0.01M251.0,111.6h0.01M234.3,117.4h0.01M254.6,101.5h0.01M241.6,107.5h0.01M242.9,118.9h0.01M247.6,131.5h0.01M260.9,106.1h0.01M249.4,107.4h0.01M253.9,110.4h0.01M264.2,124.1h0.01M263.2,107.6h0.01M251.3,125.6h0.01M250.3,96.4h0.01M243.2,105.8h0.01M247.1,105.6h0.01M255.0,117.4h0.01M254.8,120.5h0.01M252.8,89.9h0.01" stroke="#666" stroke-width="0.9" stroke-linecap="round" stroke-opacity="1.0"/>
<line x1="81.50" y1="36.50" x2="81.50" y2="173.50" stroke="#1e1e1e" stroke-width="1.15"/>
<line x1="27.10" y1="112.50" x2="155.00" y2="112.50" stroke="#1e1e1e" stroke-width="1.15"/>
<line x1="214.10" y1="36.50" x2="214.10" y2="173.50" stroke="#1e1e1e" stroke-width="1.15"/>
<line x1="159.50" y1="112.50" x2="287.50" y2="112.50" stroke="#1e1e1e" stroke-width="1.15"/>
<text x="30.15" y="48.20" font-size="10.8" textLength="19.00" lengthAdjust="spacingAndGlyphs">2.25</text>
<text x="84.00" y="50.20" font-size="14" textLength="19.60" lengthAdjust="spacingAndGlyphs">HC</text>
<text x="125.75" y="48.30" font-size="10.8" textLength="25.50" lengthAdjust="spacingAndGlyphs">0.089</text>
<text x="30.15" y="167.80" font-size="10.8" textLength="19.00" lengthAdjust="spacingAndGlyphs">97.0</text>
<text x="132.05" y="167.70" font-size="10.8" textLength="19.00" lengthAdjust="spacingAndGlyphs">0.63</text>
<text x="162.45" y="48.40" font-size="10.8" textLength="18.80" lengthAdjust="spacingAndGlyphs">4.66</text>
<text x="215.60" y="51.00" font-size="14" textLength="24.50" lengthAdjust="spacingAndGlyphs">pES</text>
<text x="263.15" y="48.10" font-size="10.8" textLength="19.20" lengthAdjust="spacingAndGlyphs">10.5</text>
<text x="162.65" y="167.70" font-size="10.8" textLength="19.10" lengthAdjust="spacingAndGlyphs">73.8</text>
<text x="263.55" y="167.50" font-size="10.8" textLength="18.70" lengthAdjust="spacingAndGlyphs">11.1</text>
<line x1="18.50" y1="114.50" x2="18.50" y2="43.10" stroke="#2EA8E0" stroke-width="1.3"/>
<polygon points="15.10,44.60 21.90,44.60 18.50,38.10" fill="#2EA8E0" stroke="none" stroke-width="1"/>
<line x1="70.00" y1="181.80" x2="280.20" y2="181.80" stroke="#2EA8E0" stroke-width="1.3"/>
<polygon points="278.50,178.60 278.50,185.00 285.20,181.80" fill="#2EA8E0" stroke="none" stroke-width="1"/>
<text x="21.50" y="168.60" font-size="13" fill="#111" textLength="42.20" lengthAdjust="spacingAndGlyphs" transform="rotate(-90 21.50 168.60)">CXCR5<tspan font-size="7.2" dy="-5.5">+</tspan><tspan dy="5.5"></tspan></text>
<text x="32.60" y="188.30" font-size="11.8" fill="#111" textLength="29.60" lengthAdjust="spacingAndGlyphs">PD-1<tspan font-size="6.5" dy="-5.0">+</tspan><tspan dy="5.0"></tspan></text>
<text x="342.00" y="23.00" font-size="14" font-weight="bold" fill="#000">B</text>
<text x="391.30" y="37.00" font-size="13" fill="#111" textLength="67.50" lengthAdjust="spacingAndGlyphs">Naive CD4<tspan font-size="7.2" dy="-5.5">+</tspan><tspan dy="5.5"></tspan></text>
<line x1="389.10" y1="54.80" x2="460.90" y2="54.80" stroke="#111" stroke-width="1.25"/>
<text x="425.30" y="52.80" font-size="10.5" text-anchor="middle">ns</text>
<line x1="389.10" y1="66.50" x2="420.60" y2="66.50" stroke="#111" stroke-width="1.25"/>
<path d="M397.38,59.32L398.10,60.78L399.71,61.01L398.54,62.15L398.82,63.75L397.38,62.99L395.93,63.75L396.21,62.15L395.04,61.01L396.65,60.78ZM402.32,59.32L403.05,60.78L404.66,61.01L403.49,62.15L403.77,63.75L402.32,62.99L400.88,63.75L401.16,62.15L399.99,61.01L401.60,60.78ZM407.27,59.32L408.00,60.78L409.61,61.01L408.44,62.15L408.72,63.75L407.27,62.99L405.83,63.75L406.11,62.15L404.94,61.01L406.55,60.78ZM412.23,59.32L412.95,60.78L414.56,61.01L413.39,62.15L413.67,63.75L412.23,62.99L410.78,63.75L411.06,62.15L409.89,61.01L411.50,60.78Z" fill="#111"/>
<line x1="423.40" y1="68.90" x2="461.40" y2="68.90" stroke="#111" stroke-width="1.25"/>
<path d="M437.60,62.02L438.32,63.48L439.93,63.71L438.77,64.85L439.04,66.45L437.60,65.69L436.16,66.45L436.43,64.85L435.27,63.71L436.88,63.48ZM442.30,62.02L443.02,63.48L444.63,63.71L443.47,64.85L443.74,66.45L442.30,65.69L440.86,66.45L441.13,64.85L439.97,63.71L441.58,63.48ZM447.00,62.02L447.72,63.48L449.33,63.71L448.17,64.85L448.44,66.45L447.00,65.69L445.56,66.45L445.83,64.85L444.67,63.71L446.28,63.48Z" fill="#111"/>
<line x1="366.00" y1="61.25" x2="366.00" y2="92.00" stroke="#111" stroke-width="1.3"/>
<line x1="361.00" y1="61.25" x2="366.00" y2="61.25" stroke="#111" stroke-width="1.3"/>
<text x="356.40" y="65.35" font-size="11.5" text-anchor="end">15</text>
<line x1="361.00" y1="76.40" x2="366.00" y2="76.40" stroke="#111" stroke-width="1.3"/>
<text x="356.40" y="80.50" font-size="11.5" text-anchor="end">10</text>
<line x1="363.30" y1="92.00" x2="368.70" y2="92.00" stroke="#111" stroke-width="1.3"/>
<text x="356.40" y="96.40" font-size="11.5" text-anchor="end">5</text>
<line x1="366.00" y1="100.50" x2="366.00" y2="173.00" stroke="#111" stroke-width="1.3"/>
<line x1="361.00" y1="115.40" x2="366.00" y2="115.40" stroke="#111" stroke-width="1.3"/>
<text x="356.40" y="119.50" font-size="11.5" text-anchor="end">4</text>
<line x1="361.00" y1="144.20" x2="366.00" y2="144.20" stroke="#111" stroke-width="1.3"/>
<text x="356.40" y="148.30" font-size="11.5" text-anchor="end">2</text>
<line x1="361.00" y1="173.00" x2="366.00" y2="173.00" stroke="#111" stroke-width="1.3"/>
<text x="356.40" y="177.10" font-size="11.5" text-anchor="end">0</text>
<line x1="363.30" y1="100.50" x2="368.70" y2="100.50" stroke="#111" stroke-width="1.3"/>
<text x="341.30" y="117.60" font-size="14" text-anchor="middle" fill="#2a2a2a" textLength="30.60" lengthAdjust="spacingAndGlyphs" transform="rotate(-90 341.30 117.60)">% cTfh</text>
<line x1="361.00" y1="173.00" x2="480.50" y2="173.00" stroke="#111" stroke-width="1.3"/>
<line x1="388.40" y1="173.00" x2="388.40" y2="177.50" stroke="#111" stroke-width="1.3"/>
<line x1="423.10" y1="173.00" x2="423.10" y2="177.50" stroke="#111" stroke-width="1.3"/>
<line x1="457.40" y1="173.00" x2="457.40" y2="177.50" stroke="#111" stroke-width="1.3"/>
<text x="397.00" y="186.80" font-size="11.5" text-anchor="end" textLength="16.60" lengthAdjust="spacingAndGlyphs" transform="rotate(-45 397.00 186.80)">HC</text>
<text x="431.30" y="186.80" font-size="11.5" text-anchor="end" textLength="20.50" lengthAdjust="spacingAndGlyphs" transform="rotate(-45 431.30 186.80)">pES</text>
<text x="465.50" y="186.80" font-size="11.5" text-anchor="end" textLength="23.80" lengthAdjust="spacingAndGlyphs" transform="rotate(-45 465.50 186.80)">cITP</text>
<circle cx="388.50" cy="134.40" r="2.4" fill="#E2193F" stroke="#0a0a0a" stroke-width="1.0"/>
<circle cx="388.50" cy="161.00" r="2.4" fill="#E2193F" stroke="#0a0a0a" stroke-width="1.0"/>
<circle cx="379.00" cy="171.00" r="2.4" fill="#E2193F" stroke="#0a0a0a" stroke-width="1.0"/>
<circle cx="383.00" cy="169.50" r="2.4" fill="#E2193F" stroke="#0a0a0a" stroke-width="1.0"/>
<circle cx="387.00" cy="171.50" r="2.4" fill="#E2193F" stroke="#0a0a0a" stroke-width="1.0"/>
<circle cx="391.00" cy="170.00" r="2.4" fill="#E2193F" stroke="#0a0a0a" stroke-width="1.0"/>
<circle cx="395.00" cy="171.00" r="2.4" fill="#E2193F" stroke="#0a0a0a" stroke-width="1.0"/>
<circle cx="399.00" cy="170.50" r="2.4" fill="#E2193F" stroke="#0a0a0a" stroke-width="1.0"/>
<circle cx="381.00" cy="168.00" r="2.4" fill="#E2193F" stroke="#0a0a0a" stroke-width="1.0"/>
<circle cx="385.00" cy="167.50" r="2.4" fill="#E2193F" stroke="#0a0a0a" stroke-width="1.0"/>
<circle cx="389.00" cy="168.50" r="2.4" fill="#E2193F" stroke="#0a0a0a" stroke-width="1.0"/>
<circle cx="393.00" cy="168.00" r="2.4" fill="#E2193F" stroke="#0a0a0a" stroke-width="1.0"/>
<circle cx="397.00" cy="168.00" r="2.4" fill="#E2193F" stroke="#0a0a0a" stroke-width="1.0"/>
<circle cx="386.00" cy="170.50" r="2.4" fill="#E2193F" stroke="#0a0a0a" stroke-width="1.0"/>
<circle cx="392.00" cy="171.50" r="2.4" fill="#E2193F" stroke="#0a0a0a" stroke-width="1.0"/>
<circle cx="378.50" cy="168.50" r="2.4" fill="#E2193F" stroke="#0a0a0a" stroke-width="1.0"/>
<circle cx="400.00" cy="168.50" r="2.4" fill="#E2193F" stroke="#0a0a0a" stroke-width="1.0"/>
<line x1="417.50" y1="130.50" x2="428.90" y2="130.50" stroke="#111" stroke-width="1.3"/>
<line x1="423.10" y1="130.50" x2="423.10" y2="152.00" stroke="#111" stroke-width="1.3"/>
<line x1="415.00" y1="141.50" x2="431.00" y2="141.50" stroke="#111" stroke-width="1.3"/>
<circle cx="420.60" cy="124.00" r="2.4" fill="#1E6CAD" stroke="#0a0a0a" stroke-width="1.0"/>
<circle cx="425.50" cy="122.80" r="2.4" fill="#1E6CAD" stroke="#0a0a0a" stroke-width="1.0"/>
<circle cx="423.10" cy="132.90" r="2.4" fill="#1E6CAD" stroke="#0a0a0a" stroke-width="1.0"/>
<circle cx="413.80" cy="137.80" r="2.4" fill="#1E6CAD" stroke="#0a0a0a" stroke-width="1.0"/>
<circle cx="418.50" cy="138.80" r="2.4" fill="#1E6CAD" stroke="#0a0a0a" stroke-width="1.0"/>
<circle cx="427.70" cy="138.80" r="2.4" fill="#1E6CAD" stroke="#0a0a0a" stroke-width="1.0"/>
<circle cx="432.60" cy="137.80" r="2.4" fill="#1E6CAD" stroke="#0a0a0a" stroke-width="1.0"/>
<circle cx="423.10" cy="141.50" r="2.4" fill="#1E6CAD" stroke="#0a0a0a" stroke-width="1.0"/>
<circle cx="420.60" cy="146.20" r="2.4" fill="#1E6CAD" stroke="#0a0a0a" stroke-width="1.0"/>
<circle cx="425.50" cy="146.20" r="2.4" fill="#1E6CAD" stroke="#0a0a0a" stroke-width="1.0"/>
<circle cx="420.60" cy="151.40" r="2.4" fill="#1E6CAD" stroke="#0a0a0a" stroke-width="1.0"/>
<circle cx="425.50" cy="151.40" r="2.4" fill="#1E6CAD" stroke="#0a0a0a" stroke-width="1.0"/>
<circle cx="423.10" cy="161.50" r="2.4" fill="#1E6CAD" stroke="#0a0a0a" stroke-width="1.0"/>
<circle cx="427.70" cy="163.10" r="2.4" fill="#1E6CAD" stroke="#0a0a0a" stroke-width="1.0"/>
<circle cx="418.80" cy="167.10" r="2.4" fill="#1E6CAD" stroke="#0a0a0a" stroke-width="1.0"/>
<circle cx="423.10" cy="169.20" r="2.4" fill="#1E6CAD" stroke="#0a0a0a" stroke-width="1.0"/>
<circle cx="427.90" cy="169.20" r="2.4" fill="#1E6CAD" stroke="#0a0a0a" stroke-width="1.0"/>
<circle cx="414.00" cy="171.20" r="2.4" fill="#1E6CAD" stroke="#0a0a0a" stroke-width="1.0"/>
<circle cx="432.30" cy="171.20" r="2.4" fill="#1E6CAD" stroke="#0a0a0a" stroke-width="1.0"/>
<circle cx="423.10" cy="75.00" r="2.4" fill="#1E6CAD" stroke="#0a0a0a" stroke-width="1.0"/>
<circle cx="423.10" cy="86.30" r="2.4" fill="#1E6CAD" stroke="#0a0a0a" stroke-width="1.0"/>
<circle cx="423.10" cy="91.80" r="2.4" fill="#1E6CAD" stroke="#0a0a0a" stroke-width="1.0"/>
<circle cx="457.70" cy="156.20" r="2.4" fill="#45D35C" stroke="#0a0a0a" stroke-width="1.0"/>
<circle cx="447.00" cy="170.50" r="2.4" fill="#45D35C" stroke="#0a0a0a" stroke-width="1.0"/>
<circle cx="450.50" cy="168.00" r="2.4" fill="#45D35C" stroke="#0a0a0a" stroke-width="1.0"/>
<circle cx="454.00" cy="170.50" r="2.4" fill="#45D35C" stroke="#0a0a0a" stroke-width="1.0"/>
<circle cx="457.50" cy="168.50" r="2.4" fill="#45D35C" stroke="#0a0a0a" stroke-width="1.0"/>
<circle cx="461.00" cy="170.50" r="2.4" fill="#45D35C" stroke="#0a0a0a" stroke-width="1.0"/>
<circle cx="464.50" cy="168.00" r="2.4" fill="#45D35C" stroke="#0a0a0a" stroke-width="1.0"/>
<circle cx="468.00" cy="170.50" r="2.4" fill="#45D35C" stroke="#0a0a0a" stroke-width="1.0"/>
<circle cx="449.00" cy="166.50" r="2.4" fill="#45D35C" stroke="#0a0a0a" stroke-width="1.0"/>
<circle cx="453.00" cy="166.00" r="2.4" fill="#45D35C" stroke="#0a0a0a" stroke-width="1.0"/>
<circle cx="457.00" cy="165.50" r="2.4" fill="#45D35C" stroke="#0a0a0a" stroke-width="1.0"/>
<circle cx="461.00" cy="166.00" r="2.4" fill="#45D35C" stroke="#0a0a0a" stroke-width="1.0"/>
<circle cx="465.00" cy="166.50" r="2.4" fill="#45D35C" stroke="#0a0a0a" stroke-width="1.0"/>
<circle cx="452.00" cy="171.50" r="2.4" fill="#45D35C" stroke="#0a0a0a" stroke-width="1.0"/>
<circle cx="459.00" cy="171.50" r="2.4" fill="#45D35C" stroke="#0a0a0a" stroke-width="1.0"/>
<circle cx="456.00" cy="168.00" r="2.4" fill="#45D35C" stroke="#0a0a0a" stroke-width="1.0"/>
<circle cx="462.50" cy="168.00" r="2.4" fill="#45D35C" stroke="#0a0a0a" stroke-width="1.0"/>
<text x="15.00" y="215.50" font-size="14" font-weight="bold" fill="#000">C</text>
<text x="123.80" y="230.00" font-size="12.8" fill="#111" textLength="85.70" lengthAdjust="spacingAndGlyphs">CD4<tspan font-size="7.0" dy="-5.4">+</tspan><tspan dy="5.4"> TEMRA</tspan></text>
<line x1="28.70" y1="234.70" x2="286.80" y2="234.70" stroke="#2EA8E0" stroke-width="1.6"/>
<rect x="27.50" y="242.50" width="128.40" height="135.80" fill="#fff" stroke="#BDBDBD" stroke-width="1.3"/>
<rect x="83.00" y="242.50" width="72.90" height="74.90" fill="#C4E6F6" stroke="#555" stroke-width="1"/>
<rect x="159.50" y="242.50" width="130.00" height="135.80" fill="#fff" stroke="#BDBDBD" stroke-width="1.3"/>
<rect x="215.50" y="242.50" width="74.00" height="75.00" fill="#C4E6F6" stroke="#555" stroke-width="1"/>
<clipPath id="cC1"><rect x="28" y="243" width="127.4" height="134.8"/></clipPath>
<clipPath id="cC2"><rect x="160" y="243" width="129" height="134.8"/></clipPath>
<ellipse cx="55" cy="343" rx="8" ry="6" fill="url(#gcore)" opacity="0.4" clip-path="url(#cC1)"/>
<path d="M65.0,354.0 L56.0,354.3 L53.0,353.8 L50.5,352.8 L47.5,350.7 L45.5,348.5 L43.8,345.5 L42.9,342.5 L42.7,340.5 L42.7,337.0 L43.3,328.5 L44.6,320.5 L46.2,314.5 L48.2,309.5 L50.6,305.5 L53.0,303.0 L54.5,302.0 L56.0,301.5 L58.5,301.5 L62.5,301.8 L65.5,302.4 L69.0,303.3 L72.5,304.7 L75.5,306.1 L78.0,307.6 L81.0,309.8 L85.5,314.0 L87.6,316.5 L89.4,319.0 L95.6,329.5 L96.8,332.0 L97.6,335.0 L97.8,337.0 L97.7,339.0 L97.4,341.0 L96.7,342.5 L95.8,344.0 L94.5,345.4 L91.5,347.6 L89.0,348.8 L86.5,349.8 L79.5,351.7 L72.0,353.2 L65.0,354.0Z M66.0,352.0 L61.5,352.4 L56.5,352.5 L54.5,352.2 L52.0,351.4 L49.5,350.0 L47.4,348.0 L45.8,345.5 L44.8,342.5 L44.5,340.5 L44.6,337.5 L45.1,330.0 L45.8,325.0 L47.3,319.0 L49.1,314.0 L51.1,310.5 L52.2,309.0 L53.5,307.8 L54.5,307.1 L56.0,306.6 L58.0,306.5 L61.5,306.7 L67.0,308.0 L69.5,308.9 L72.5,310.2 L77.0,313.1 L79.5,315.1 L82.0,317.6 L87.7,325.0 L92.0,329.8 L93.8,332.5 L94.6,335.0 L94.9,336.5 L94.8,338.5 L94.5,340.0 L93.9,341.5 L93.0,343.0 L92.1,344.0 L89.5,345.9 L85.5,347.6 L78.0,349.8 L72.0,351.2 L66.0,352.0Z M64.0,350.5 L56.5,350.9 L54.5,350.6 L52.5,349.9 L50.2,348.5 L48.3,346.5 L47.1,344.5 L46.3,342.0 L46.1,340.5 L46.2,337.5 L46.7,331.0 L47.6,325.5 L48.7,321.0 L50.3,317.0 L52.0,314.0 L54.0,311.9 L56.0,310.9 L57.0,310.8 L60.0,310.9 L65.0,311.9 L69.5,313.6 L73.5,315.9 L75.7,317.5 L77.9,319.5 L83.9,326.5 L88.5,330.0 L90.0,331.4 L91.5,333.5 L92.2,335.5 L92.4,338.0 L91.7,340.5 L91.0,341.6 L90.0,342.8 L87.5,344.5 L84.5,345.7 L74.5,348.7 L69.5,349.8 L64.0,350.5Z M63.5,349.5 L56.5,349.8 L55.0,349.6 L53.0,349.0 L51.0,347.8 L49.2,346.0 L48.0,344.0 L47.4,342.0 L47.2,340.5 L47.2,338.0 L47.6,332.0 L48.4,327.0 L49.6,322.5 L51.0,319.0 L52.8,316.0 L54.5,314.4 L55.5,313.8 L56.5,313.6 L60.5,313.8 L64.5,314.6 L68.0,315.9 L71.5,317.8 L75.5,321.1 L81.3,327.5 L83.0,328.8 L87.0,331.1 L88.5,332.3 L89.9,334.0 L90.6,336.0 L90.7,337.0 L90.6,338.5 L89.8,340.5 L88.5,342.0 L86.5,343.3 L84.0,344.3 L73.0,347.9 L68.5,348.9 L63.5,349.5Z M59.5,349.0 L56.5,349.0 L55.0,348.8 L53.5,348.4 L51.9,347.5 L50.2,346.0 L49.1,344.5 L48.3,342.5 L48.0,341.0 L48.0,337.0 L48.4,332.0 L49.2,327.5 L50.3,323.5 L51.6,320.5 L53.0,318.1 L54.5,316.6 L55.5,316.0 L56.5,315.7 L60.0,315.8 L63.5,316.5 L67.0,317.8 L70.0,319.4 L72.0,320.8 L74.0,322.5 L78.5,327.7 L79.9,329.0 L81.5,330.0 L85.5,331.8 L87.2,333.0 L88.5,334.5 L89.3,336.5 L89.1,338.5 L88.4,340.0 L87.0,341.5 L85.0,342.6 L74.5,346.4 L71.0,347.4 L66.0,348.4 L59.5,349.0Z M64.0,348.0 L57.0,348.4 L55.5,348.3 L54.0,347.9 L52.0,346.8 L50.6,345.5 L49.6,344.0 L48.8,342.0 L48.5,339.5 L48.8,334.5 L49.4,330.0 L50.4,326.0 L51.5,322.8 L53.0,320.0 L54.5,318.3 L56.0,317.5 L58.5,317.3 L62.0,317.9 L65.5,319.0 L68.5,320.4 L70.8,322.0 L73.0,323.9 L78.5,330.1 L80.5,331.3 L85.5,333.3 L86.9,334.5 L87.8,336.0 L88.0,337.5 L87.5,339.0 L86.5,340.3 L85.0,341.3 L79.5,343.3 L72.0,346.3 L68.5,347.3 L64.0,348.0Z M63.5,347.5 L57.0,347.9 L55.5,347.8 L54.0,347.3 L52.5,346.5 L51.0,345.2 L49.9,343.5 L49.3,342.0 L49.0,340.0 L49.3,335.0 L49.9,330.5 L50.9,326.5 L52.0,323.5 L53.5,320.9 L55.0,319.4 L56.5,318.8 L59.5,318.9 L62.5,319.5 L65.5,320.5 L68.0,321.8 L70.0,323.2 L72.1,325.0 L76.5,330.3 L78.0,331.8 L80.0,332.9 L84.5,334.3 L86.0,335.5 L86.5,336.5 L86.5,337.5 L86.0,338.8 L85.0,339.8 L83.9,340.5 L79.5,342.1 L74.7,344.5 L71.5,345.8 L68.0,346.8 L63.5,347.5Z M63.5,347.1 L57.0,347.5 L54.5,347.1 L53.0,346.3 L51.5,345.1 L50.3,343.5 L49.7,342.0 L49.5,340.0 L49.7,335.5 L50.3,331.0 L51.3,327.0 L52.3,324.5 L53.5,322.3 L55.0,320.6 L56.5,319.9 L59.0,320.0 L62.0,320.5 L65.0,321.6 L67.5,322.9 L69.5,324.3 L71.5,326.1 L76.0,331.8 L77.5,333.3 L79.5,334.5 L83.5,335.5 L84.2,336.0 L84.7,337.0 L84.5,338.0 L83.5,339.0 L79.5,340.7 L75.1,343.5 L73.1,344.5 L68.5,346.1 L63.5,347.1Z M60.5,347.0 L56.0,347.1 L53.5,346.2 L52.0,345.1 L51.1,344.0 L50.3,342.5 L49.9,341.0 L49.8,338.0 L50.2,334.0 L50.8,330.5 L51.6,327.5 L52.6,325.0 L54.0,322.7 L55.0,321.6 L56.5,320.9 L59.5,321.0 L63.0,321.8 L66.0,323.1 L68.5,324.7 L70.5,326.4 L72.0,328.1 L76.0,333.7 L78.8,337.0 L79.0,337.5 L78.7,338.5 L77.1,341.0 L75.4,342.5 L72.9,344.0 L70.5,345.0 L67.5,345.9 L64.0,346.6 L60.5,347.0Z M61.0,346.5 L56.5,346.7 L54.0,346.0 L52.5,345.0 L51.6,344.0 L50.7,342.5 L50.3,341.0 L50.2,338.5 L50.6,334.5 L51.2,331.0 L52.0,328.1 L53.0,325.6 L54.0,323.9 L55.0,322.8 L56.5,322.1 L59.5,322.2 L62.5,322.9 L65.5,324.2 L68.3,326.0 L70.5,328.1 L72.7,331.0 L75.0,335.0 L75.9,337.5 L75.9,339.5 L75.4,341.0 L73.9,342.5 L72.5,343.4 L70.3,344.5 L67.5,345.4 L64.5,346.1 L61.0,346.5Z M61.5,346.0 L57.0,346.3 L54.5,345.8 L53.2,345.0 L52.1,344.0 L51.4,343.0 L50.8,341.5 L50.6,339.5 L50.8,336.5 L51.5,332.2 L52.3,329.0 L53.3,326.5 L54.3,325.0 L55.5,323.8 L56.5,323.3 L59.5,323.5 L62.5,324.2 L65.0,325.3 L67.5,327.0 L69.6,329.0 L71.5,331.5 L73.1,334.5 L73.9,337.0 L74.1,339.0 L74.0,340.5 L73.4,341.5 L72.4,342.5 L70.5,343.7 L68.0,344.7 L65.0,345.5 L61.5,346.0Z M61.5,345.6 L57.0,345.9 L55.0,345.5 L53.9,345.0 L52.7,344.0 L51.9,343.0 L51.2,341.5 L51.0,340.0 L51.2,337.0 L51.9,333.0 L52.6,330.0 L53.5,327.7 L54.5,326.1 L55.5,325.0 L56.5,324.6 L59.0,324.6 L61.5,325.2 L64.0,326.2 L66.5,327.8 L68.5,329.6 L70.3,332.0 L71.6,334.5 L72.4,337.0 L72.7,339.0 L72.6,340.5 L72.1,341.5 L71.0,342.5 L69.3,343.5 L67.0,344.4 L61.5,345.6Z M62.0,345.0 L57.5,345.4 L56.0,345.3 L55.0,345.0 L54.0,344.5 L53.0,343.7 L52.1,342.5 L51.7,341.5 L51.4,340.0 L51.5,337.5 L52.9,331.0 L53.7,329.0 L54.5,327.5 L55.5,326.4 L56.5,325.9 L58.5,325.9 L61.0,326.4 L63.5,327.4 L65.5,328.6 L67.1,330.0 L68.7,332.0 L69.9,334.0 L70.9,336.5 L71.3,340.0 L71.0,341.0 L70.2,342.0 L68.7,343.0 L67.0,343.7 L62.0,345.0Z M58.5,345.0 L56.0,344.9 L54.0,344.1 L52.5,342.5 L51.8,340.5 L52.0,337.0 L53.5,331.0 L55.0,328.2 L56.0,327.3 L57.0,327.0 L59.5,327.3 L61.9,328.0 L64.0,329.1 L65.8,330.5 L67.5,332.4 L68.8,334.5 L69.5,336.5 L70.0,339.0 L70.0,340.0 L69.7,341.0 L68.8,342.0 L67.5,342.8 L63.5,344.2 L58.5,345.0Z M59.5,344.5 L56.5,344.6 L54.5,343.9 L53.0,342.5 L52.2,340.5 L52.2,339.0 L52.4,337.0 L53.8,332.0 L55.0,329.7 L55.6,329.0 L56.5,328.4 L58.5,328.5 L60.5,328.9 L62.5,329.7 L64.4,331.0 L65.9,332.5 L67.0,334.0 L68.0,336.0 L68.5,338.0 L68.6,340.5 L68.0,341.4 L67.3,342.0 L66.0,342.8 L64.1,343.5 L59.5,344.5Z M60.0,344.0 L57.0,344.3 L55.5,344.0 L53.9,343.0 L53.1,342.0 L52.7,341.0 L52.6,338.5 L53.5,334.7 L55.0,331.2 L55.5,330.5 L56.5,329.8 L58.0,329.8 L60.0,330.2 L61.5,330.7 L63.0,331.6 L64.5,332.9 L65.5,334.2 L66.5,336.0 L67.0,337.5 L67.3,340.0 L67.0,341.0 L66.5,341.5 L65.5,342.2 L63.8,343.0 L60.0,344.0Z M60.0,343.6 L57.0,343.9 L55.5,343.6 L54.0,342.5 L53.1,341.0 L52.9,339.0 L53.5,336.3 L55.0,332.9 L55.7,332.0 L56.5,331.4 L57.5,331.3 L59.0,331.5 L60.5,332.0 L62.0,332.8 L63.4,334.0 L64.3,335.0 L65.5,337.5 L65.9,340.0 L65.5,341.0 L64.5,341.9 L63.4,342.5 L60.0,343.6Z M60.0,343.1 L58.0,343.4 L56.0,343.3 L54.5,342.4 L53.5,341.0 L53.3,339.0 L53.8,337.0 L55.0,334.5 L56.0,333.4 L56.5,333.1 L58.5,333.1 L61.0,334.0 L62.8,335.5 L64.0,337.5 L64.4,339.5 L64.3,340.5 L64.0,341.0 L62.5,342.2 L60.0,343.1Z M59.5,342.5 L57.5,342.8 L56.0,342.6 L55.0,342.0 L54.2,341.0 L53.9,339.5 L54.3,337.5 L55.5,335.6 L56.5,334.9 L58.0,334.9 L60.0,335.5 L61.4,336.5 L62.4,338.0 L62.7,340.0 L62.3,341.0 L60.9,342.0 L59.5,342.5Z M59.5,341.5 L58.5,341.8 L57.0,341.9 L56.0,341.6 L55.3,341.0 L54.9,340.0 L54.9,339.0 L55.2,338.0 L56.0,337.0 L57.0,336.6 L58.5,336.7 L59.5,337.2 L60.4,338.0 L60.8,339.0 L60.9,340.0 L60.3,341.0 L59.5,341.5Z" fill="none" stroke="#222" stroke-width="0.45" clip-path="url(#cC1)"/>
<path d="M93.5,303.7h0.01M101.0,298.0h0.01M95.0,303.0h0.01M89.9,294.7h0.01M105.2,297.8h0.01M102.0,293.9h0.01M102.0,306.8h0.01M96.1,299.8h0.01M105.2,295.6h0.01M97.6,297.9h0.01M105.6,298.7h0.01M93.5,304.2h0.01M93.9,290.4h0.01M100.2,293.8h0.01M94.8,297.7h0.01M103.1,315.2h0.01M100.6,305.7h0.01M93.5,299.3h0.01M99.4,304.3h0.01M96.9,312.3h0.01M104.5,298.6h0.01M95.2,297.8h0.01M96.4,307.3h0.01M106.3,303.0h0.01M112.4,304.0h0.01M111.0,297.0h0.01M99.4,311.5h0.01M100.3,310.3h0.01M108.2,303.4h0.01M98.3,304.1h0.01M93.1,287.8h0.01M99.7,303.8h0.01M101.7,298.8h0.01M94.0,302.6h0.01M89.1,304.1h0.01M90.4,298.0h0.01M103.0,289.9h0.01M94.4,302.2h0.01M98.2,295.6h0.01M100.3,298.0h0.01" stroke="#4a7080" stroke-width="0.9" stroke-linecap="round" stroke-opacity="1.0"/>
<path d="M64.9,328.8h0.01M71.5,328.5h0.01M110.4,332.0h0.01M86.3,320.4h0.01M107.8,328.2h0.01M129.5,306.1h0.01M80.6,321.8h0.01M57.7,328.5h0.01M49.8,324.7h0.01M67.5,341.7h0.01M82.0,345.6h0.01M29.9,305.5h0.01M88.6,325.4h0.01M42.2,350.2h0.01M87.4,335.9h0.01M77.3,332.7h0.01M72.2,364.2h0.01M78.2,315.1h0.01M66.5,331.8h0.01M64.7,318.6h0.01M37.9,362.8h0.01M79.3,287.1h0.01M126.1,315.3h0.01M129.5,318.4h0.01M113.0,344.6h0.01M97.6,343.3h0.01M63.1,360.7h0.01M116.1,295.4h0.01" stroke="#777" stroke-width="0.9" stroke-linecap="round" stroke-opacity="1.0"/>
<path d="M193.5,349.0 L189.5,349.4 L185.0,349.4 L181.5,348.8 L178.0,347.8 L175.0,346.4 L172.5,344.5 L171.0,342.5 L170.2,340.0 L170.2,338.0 L170.6,336.5 L171.4,335.0 L172.6,333.5 L174.1,332.0 L176.0,330.6 L182.9,326.5 L184.0,325.5 L184.8,324.0 L185.9,319.5 L187.8,313.5 L188.2,311.0 L188.1,309.5 L187.8,308.5 L184.9,304.0 L184.1,301.5 L184.0,299.5 L184.2,298.0 L184.8,296.5 L185.5,295.3 L186.7,294.0 L188.0,293.0 L189.5,292.4 L191.0,292.0 L192.5,291.9 L194.0,292.1 L199.5,294.2 L201.5,294.5 L204.3,294.0 L211.5,292.0 L213.0,291.4 L214.1,290.5 L215.2,289.0 L218.3,280.0 L219.7,277.0 L221.3,274.5 L223.5,271.9 L226.0,269.7 L229.0,267.8 L231.5,266.6 L234.0,265.9 L236.5,265.4 L239.0,265.2 L241.5,265.4 L244.0,265.9 L246.5,266.6 L249.0,267.8 L251.5,269.3 L253.5,271.0 L255.4,273.0 L258.2,277.0 L260.1,281.5 L260.8,284.0 L261.1,286.5 L261.3,289.0 L261.1,291.5 L260.8,294.0 L260.1,296.5 L258.2,301.0 L256.6,303.5 L255.0,305.5 L251.5,308.7 L249.0,310.3 L247.0,311.3 L243.5,312.8 L238.0,314.7 L234.5,315.7 L231.5,316.2 L227.5,316.4 L223.5,315.7 L219.5,314.2 L214.5,311.2 L213.5,311.0 L212.5,311.2 L211.0,312.5 L206.8,318.5 L202.4,324.0 L201.5,325.5 L201.6,326.5 L202.0,327.0 L203.5,327.9 L205.0,328.3 L207.0,328.0 L210.5,326.7 L213.5,325.8 L217.5,325.2 L220.0,325.2 L222.5,325.4 L225.0,325.9 L227.5,326.7 L229.5,327.7 L231.3,329.0 L232.8,330.5 L233.8,332.0 L234.4,333.5 L234.5,335.5 L234.2,337.0 L233.2,339.0 L231.5,340.9 L229.5,342.3 L227.5,343.3 L224.5,344.2 L221.5,344.7 L218.0,344.8 L214.5,344.5 L210.0,343.5 L208.0,343.5 L206.5,343.9 L202.5,346.2 L200.0,347.3 L197.0,348.3 L193.5,349.0Z M192.0,348.0 L188.5,348.3 L185.0,348.1 L181.0,347.3 L178.5,346.5 L176.0,345.1 L174.1,343.5 L172.8,341.5 L172.3,339.5 L172.3,338.0 L173.0,336.0 L174.0,334.5 L175.5,332.9 L177.0,331.7 L179.5,330.2 L187.4,326.5 L188.1,326.0 L188.9,325.0 L189.3,319.0 L191.7,311.0 L192.2,308.0 L192.1,306.5 L191.9,305.5 L190.0,302.4 L189.4,301.0 L189.5,299.5 L189.9,298.5 L191.0,297.6 L192.5,297.3 L194.0,297.5 L197.0,298.8 L199.0,299.1 L201.0,298.9 L206.5,297.7 L208.5,297.6 L211.5,297.9 L213.0,297.3 L215.5,295.0 L217.4,292.0 L218.0,290.4 L219.8,282.5 L220.7,280.0 L222.3,277.0 L224.2,274.5 L226.5,272.2 L229.0,270.4 L231.5,269.1 L234.0,268.2 L236.5,267.7 L239.0,267.6 L241.5,267.7 L244.0,268.2 L246.5,269.1 L249.0,270.4 L251.0,271.8 L254.2,275.0 L255.6,277.0 L256.8,279.0 L258.3,283.0 L258.8,285.5 L259.1,288.0 L258.8,292.5 L257.6,297.0 L256.8,299.0 L255.3,301.5 L252.5,304.9 L249.0,307.7 L244.0,310.2 L235.0,313.7 L232.5,314.3 L229.5,314.7 L227.0,314.7 L225.0,314.4 L221.5,313.3 L219.5,312.2 L217.8,311.0 L213.5,306.9 L212.5,306.4 L212.0,306.4 L211.5,306.6 L210.5,307.7 L206.8,314.0 L204.4,317.5 L201.5,320.8 L197.5,324.5 L196.8,325.5 L196.8,326.0 L197.0,326.5 L198.2,327.5 L202.2,329.5 L205.0,330.3 L206.9,330.0 L212.0,327.6 L216.0,326.6 L219.0,326.4 L221.5,326.6 L224.0,327.0 L226.0,327.7 L228.0,328.6 L229.5,329.6 L230.9,331.0 L231.9,332.5 L232.4,334.0 L232.5,335.5 L232.1,337.0 L231.3,338.5 L230.0,340.0 L228.0,341.4 L226.0,342.3 L223.5,343.1 L220.0,343.5 L217.0,343.5 L213.5,342.9 L209.0,341.6 L207.5,341.6 L206.0,342.2 L202.0,344.8 L199.0,346.3 L196.0,347.3 L192.0,348.0Z M232.5,313.0 L229.5,313.4 L226.0,313.3 L222.5,312.3 L220.0,310.9 L217.4,308.5 L215.7,306.0 L215.1,304.5 L214.8,303.0 L215.0,300.5 L215.8,298.5 L218.5,294.2 L219.5,292.0 L220.8,285.0 L222.1,281.0 L223.7,278.0 L225.5,275.5 L227.0,274.0 L229.0,272.4 L231.0,271.2 L233.5,270.2 L235.5,269.6 L238.0,269.3 L240.5,269.4 L243.0,269.8 L246.0,270.8 L249.5,272.8 L252.5,275.5 L254.6,278.5 L256.3,282.0 L257.3,286.0 L257.5,290.0 L256.9,294.0 L255.9,297.0 L254.3,300.0 L252.0,303.0 L249.5,305.3 L247.0,306.9 L243.5,308.7 L236.5,311.8 L232.5,313.0Z M196.5,320.7 L195.0,320.9 L194.0,320.5 L193.3,319.5 L193.0,318.0 L193.2,316.0 L193.7,314.0 L194.8,311.0 L196.1,308.0 L198.0,305.3 L200.4,303.5 L202.0,302.8 L203.5,302.4 L205.0,302.4 L206.0,302.8 L206.5,303.2 L207.0,304.0 L207.2,306.0 L206.5,309.0 L205.1,312.0 L203.2,315.0 L201.0,317.6 L198.5,319.6 L196.5,320.7Z M192.5,347.0 L188.5,347.3 L184.5,347.1 L181.0,346.3 L177.5,344.6 L176.0,343.5 L175.1,342.5 L174.1,340.5 L173.8,339.5 L173.9,338.0 L174.2,337.0 L174.9,335.5 L176.1,334.0 L177.5,332.8 L181.0,330.6 L186.0,328.7 L189.5,327.9 L191.5,327.7 L193.5,327.8 L196.0,328.4 L199.5,329.7 L204.0,331.7 L205.5,332.1 L207.0,331.7 L211.0,329.3 L214.0,328.1 L218.0,327.5 L222.0,327.7 L225.0,328.5 L227.5,329.7 L229.6,331.5 L230.7,333.5 L230.9,334.5 L230.9,336.0 L230.3,337.5 L229.6,338.5 L227.5,340.3 L224.5,341.7 L221.0,342.5 L217.0,342.5 L213.5,341.8 L208.5,339.9 L207.0,339.9 L206.0,340.4 L202.5,343.2 L200.0,344.7 L196.5,346.1 L192.5,347.0Z M232.0,312.1 L229.0,312.5 L226.0,312.3 L223.0,311.4 L220.5,310.0 L218.4,308.0 L217.0,305.5 L216.4,303.0 L216.7,300.5 L217.4,298.5 L220.0,294.2 L220.8,292.5 L221.3,290.5 L222.1,285.0 L223.2,281.5 L224.8,278.5 L226.8,276.0 L230.0,273.3 L232.0,272.2 L234.5,271.2 L236.5,270.8 L239.0,270.6 L241.5,270.8 L243.5,271.2 L246.5,272.4 L249.5,274.4 L252.1,277.0 L254.0,280.0 L255.3,283.0 L256.1,287.0 L256.2,290.5 L255.6,294.0 L254.8,296.5 L253.2,299.5 L251.2,302.0 L249.0,304.0 L245.5,306.3 L238.0,309.9 L235.0,311.2 L232.0,312.1Z M200.0,312.6 L199.5,312.8 L199.0,312.5 L199.3,311.5 L200.0,310.4 L200.5,310.0 L201.0,310.1 L201.1,310.5 L201.0,311.2 L200.0,312.6Z M190.5,346.5 L187.0,346.6 L183.5,346.1 L180.5,345.2 L177.5,343.4 L175.8,341.5 L175.1,339.5 L175.2,337.5 L175.9,336.0 L176.6,335.0 L179.0,332.8 L182.5,330.8 L187.0,329.4 L191.0,328.8 L194.5,329.1 L198.0,330.1 L200.5,331.1 L205.0,333.8 L206.0,334.1 L207.0,333.8 L210.8,330.5 L213.5,329.2 L217.0,328.3 L221.0,328.3 L224.0,329.0 L226.5,330.2 L228.2,331.5 L229.4,333.5 L229.7,334.5 L229.6,336.0 L228.6,338.0 L226.5,339.8 L224.0,341.0 L222.0,341.5 L220.0,341.8 L216.0,341.5 L213.0,340.7 L208.0,338.1 L207.0,337.8 L206.0,338.3 L202.5,342.0 L199.5,344.1 L197.0,345.2 L195.0,345.8 L190.5,346.5Z M232.0,311.0 L229.5,311.4 L226.5,311.3 L224.0,310.6 L221.5,309.3 L219.6,307.5 L218.2,305.0 L217.8,303.0 L218.1,300.5 L219.0,298.5 L221.4,294.5 L222.1,293.0 L222.6,291.0 L223.3,285.5 L224.2,282.5 L225.7,279.5 L227.5,277.2 L229.0,275.7 L231.0,274.3 L233.0,273.2 L235.0,272.5 L237.0,272.1 L239.0,272.0 L241.5,272.2 L243.5,272.7 L246.5,274.0 L249.0,275.7 L251.2,278.0 L253.1,281.0 L254.3,284.0 L254.9,287.5 L254.9,291.0 L254.3,294.0 L253.3,296.5 L251.9,299.0 L250.0,301.4 L248.0,303.1 L244.5,305.3 L236.5,309.3 L234.0,310.4 L232.0,311.0Z M222.0,340.6 L219.5,340.9 L217.0,340.8 L214.5,340.2 L212.5,339.4 L210.5,338.0 L209.3,336.5 L209.1,335.0 L209.6,333.5 L210.7,332.0 L212.5,330.7 L214.5,329.8 L216.5,329.3 L219.0,329.1 L221.5,329.3 L223.5,329.8 L225.5,330.7 L227.1,332.0 L228.1,333.5 L228.4,335.0 L228.1,336.5 L227.1,338.0 L225.9,339.0 L224.0,340.0 L222.0,340.6Z M192.5,345.6 L189.0,345.9 L185.5,345.7 L182.0,344.8 L179.5,343.6 L177.6,342.0 L176.5,340.0 L176.4,338.0 L177.2,336.0 L178.9,334.0 L181.5,332.3 L185.0,330.8 L188.0,330.1 L191.5,329.8 L195.0,330.2 L198.5,331.2 L200.9,332.5 L203.2,334.5 L204.1,336.0 L204.1,337.5 L203.3,339.5 L201.6,341.5 L199.0,343.4 L196.0,344.7 L192.5,345.6Z M229.0,310.5 L227.0,310.4 L225.5,310.1 L224.0,309.6 L222.5,308.8 L221.0,307.5 L220.2,306.5 L219.4,305.0 L219.0,303.5 L219.1,301.5 L219.7,299.5 L222.4,295.0 L223.3,293.0 L224.3,286.0 L225.4,282.5 L226.7,280.0 L228.7,277.5 L231.0,275.6 L233.5,274.2 L236.5,273.3 L239.0,273.1 L241.5,273.3 L244.5,274.2 L247.0,275.6 L249.5,277.7 L251.3,280.0 L252.8,283.0 L253.6,286.0 L253.9,289.5 L253.5,292.5 L252.6,295.5 L251.3,298.0 L250.0,299.8 L248.0,301.7 L246.0,303.2 L234.5,309.2 L231.5,310.2 L229.0,310.5Z M221.0,340.0 L219.0,340.2 L216.5,339.9 L214.5,339.3 L212.5,338.2 L211.2,337.0 L210.6,335.5 L210.8,334.0 L211.3,333.0 L212.5,331.8 L214.0,330.9 L215.5,330.3 L217.5,329.9 L219.5,329.8 L221.5,330.1 L223.5,330.7 L225.0,331.5 L226.2,332.5 L227.0,334.0 L227.1,335.5 L226.8,336.5 L226.0,337.7 L224.5,338.8 L223.0,339.5 L221.0,340.0Z M192.0,345.0 L188.5,345.3 L185.0,344.9 L182.5,344.2 L180.0,343.0 L178.4,341.5 L177.6,340.0 L177.5,338.0 L178.3,336.0 L180.0,334.1 L182.0,332.8 L185.5,331.4 L188.5,330.7 L191.5,330.5 L194.5,330.8 L197.5,331.7 L200.0,332.9 L201.8,334.5 L202.4,335.5 L202.7,336.5 L202.7,338.0 L201.7,340.0 L200.0,341.8 L198.0,343.1 L195.0,344.3 L192.0,345.0Z M231.0,309.5 L229.0,309.8 L227.5,309.7 L225.5,309.3 L224.0,308.7 L222.5,307.8 L221.5,306.8 L220.6,305.5 L220.1,304.0 L220.0,302.0 L220.5,300.0 L221.2,298.5 L223.5,295.0 L224.2,293.0 L225.1,286.5 L225.7,284.0 L226.8,281.5 L228.5,279.0 L230.5,277.1 L233.0,275.4 L235.5,274.5 L238.0,274.0 L241.0,274.2 L243.5,274.8 L246.0,276.0 L248.5,278.0 L250.2,280.0 L251.7,282.5 L252.7,285.5 L253.0,288.5 L252.9,291.5 L252.1,294.5 L251.2,296.5 L249.9,298.5 L248.5,300.1 L246.5,301.8 L244.0,303.3 L235.0,308.0 L233.0,308.9 L231.0,309.5Z M219.5,339.5 L217.5,339.4 L215.5,338.9 L213.6,338.0 L212.5,337.0 L211.9,336.0 L211.7,335.0 L212.2,333.5 L213.0,332.5 L214.0,331.8 L215.5,331.1 L217.0,330.7 L219.0,330.5 L221.0,330.7 L222.5,331.1 L224.0,331.8 L225.0,332.6 L225.7,333.5 L226.1,335.0 L226.0,336.0 L225.4,337.0 L224.3,338.0 L223.0,338.7 L221.5,339.2 L219.5,339.5Z M191.5,344.6 L188.5,344.8 L185.5,344.5 L183.0,343.8 L180.5,342.5 L179.0,341.0 L178.4,339.5 L178.3,338.0 L179.2,336.0 L180.6,334.5 L183.0,332.9 L186.0,331.8 L189.0,331.2 L192.0,331.1 L194.5,331.4 L197.5,332.3 L199.5,333.5 L201.1,335.0 L201.7,336.5 L201.7,338.0 L200.8,340.0 L199.3,341.5 L197.0,343.0 L194.5,343.9 L191.5,344.6Z M229.5,309.0 L226.5,308.9 L225.0,308.4 L223.5,307.6 L222.3,306.5 L221.5,305.5 L221.1,304.5 L220.8,303.0 L220.9,301.5 L221.3,300.0 L224.1,295.5 L224.9,293.5 L225.8,286.5 L226.9,283.0 L228.3,280.5 L230.0,278.5 L232.0,276.9 L234.0,275.8 L236.5,275.0 L239.0,274.8 L241.5,275.0 L244.0,275.8 L246.5,277.2 L248.5,279.0 L250.0,281.0 L251.3,283.5 L252.1,286.5 L252.3,289.5 L251.9,292.5 L251.1,295.0 L250.0,297.0 L248.9,298.5 L247.5,300.0 L245.5,301.6 L234.0,307.7 L231.5,308.7 L229.5,309.0Z M221.5,338.6 L220.0,338.9 L218.0,338.9 L216.0,338.4 L214.5,337.7 L213.2,336.5 L212.8,335.5 L212.8,334.5 L213.2,333.5 L214.0,332.7 L215.0,332.0 L216.5,331.4 L218.0,331.1 L221.0,331.3 L222.5,331.8 L223.5,332.3 L224.3,333.0 L225.0,334.0 L225.2,335.0 L225.0,336.0 L223.8,337.5 L221.5,338.6Z M192.0,344.1 L189.0,344.3 L186.5,344.2 L184.0,343.6 L181.6,342.5 L179.9,341.0 L179.2,339.5 L179.1,338.0 L179.7,336.5 L180.9,335.0 L183.0,333.5 L185.5,332.4 L188.5,331.7 L191.5,331.6 L194.0,331.8 L196.5,332.5 L198.5,333.5 L200.2,335.0 L200.9,336.5 L200.9,338.0 L200.3,339.5 L199.0,341.0 L197.0,342.4 L194.5,343.5 L192.0,344.1Z M231.5,308.0 L229.5,308.4 L228.0,308.4 L226.5,308.2 L225.0,307.7 L223.9,307.0 L222.8,306.0 L222.1,305.0 L221.6,303.5 L221.6,302.0 L222.2,300.0 L224.7,296.0 L225.6,294.0 L226.0,292.0 L226.4,287.0 L227.2,284.0 L228.2,282.0 L229.6,280.0 L231.5,278.1 L233.5,276.8 L236.0,275.9 L238.0,275.5 L240.5,275.6 L243.0,276.2 L245.5,277.4 L247.5,279.0 L249.2,281.0 L250.6,283.5 L251.4,286.0 L251.7,288.5 L251.4,291.5 L250.8,294.0 L249.8,296.0 L248.9,297.5 L247.5,299.1 L245.8,300.5 L244.0,301.7 L238.5,304.4 L234.0,307.0 L231.5,308.0Z M192.5,343.5 L190.0,343.9 L187.0,343.8 L184.5,343.3 L182.5,342.4 L180.7,341.0 L179.9,339.5 L179.8,338.0 L180.4,336.5 L181.7,335.0 L183.5,333.8 L185.5,332.9 L188.0,332.2 L190.5,332.0 L193.0,332.1 L195.5,332.7 L197.5,333.5 L199.0,334.6 L200.0,336.0 L200.3,337.5 L199.9,339.0 L198.8,340.5 L197.0,341.9 L195.0,342.8 L192.5,343.5Z M221.0,338.0 L219.5,338.3 L218.0,338.2 L215.5,337.5 L214.5,336.7 L214.0,336.0 L213.7,335.0 L214.0,334.0 L214.5,333.3 L215.5,332.5 L217.5,331.8 L220.0,331.8 L221.5,332.1 L222.5,332.6 L223.5,333.4 L224.0,334.0 L224.1,335.5 L223.6,336.5 L223.1,337.0 L221.0,338.0Z M231.0,307.5 L229.5,307.8 L228.0,307.8 L226.5,307.5 L225.1,307.0 L223.3,305.5 L222.7,304.5 L222.3,303.0 L222.4,301.5 L222.9,300.0 L225.5,296.0 L226.2,294.5 L226.6,292.5 L226.9,287.5 L227.9,284.0 L228.9,282.0 L230.4,280.0 L232.0,278.5 L234.0,277.3 L236.0,276.5 L238.5,276.1 L241.0,276.3 L243.0,276.8 L245.0,277.8 L247.2,279.5 L248.8,281.5 L250.1,284.0 L250.9,286.5 L251.1,289.0 L250.9,291.5 L250.1,294.0 L249.1,296.0 L248.1,297.5 L246.7,299.0 L245.0,300.3 L243.0,301.5 L238.0,303.9 L233.5,306.5 L231.0,307.5Z M190.0,343.5 L187.5,343.5 L185.0,343.0 L183.0,342.2 L181.5,341.1 L180.7,340.0 L180.4,338.5 L180.8,337.0 L181.9,335.5 L183.5,334.3 L185.5,333.3 L188.0,332.6 L190.5,332.4 L193.0,332.5 L195.0,333.0 L197.0,333.8 L198.6,335.0 L199.3,336.0 L199.6,337.5 L199.2,339.0 L198.1,340.5 L196.5,341.7 L194.5,342.6 L192.5,343.2 L190.0,343.5Z M220.0,337.6 L218.0,337.6 L216.0,336.9 L215.5,336.5 L214.8,335.5 L214.8,334.5 L215.1,334.0 L216.2,333.0 L218.0,332.4 L220.0,332.4 L222.0,333.1 L222.9,334.0 L223.1,334.5 L223.2,335.0 L223.0,335.8 L222.5,336.5 L221.8,337.0 L220.0,337.6Z M230.5,307.0 L228.0,307.2 L226.5,306.9 L225.5,306.5 L223.8,305.0 L223.3,304.0 L223.0,303.0 L223.0,302.0 L223.4,300.5 L226.0,296.5 L226.9,294.5 L227.1,293.0 L227.5,287.5 L228.5,284.0 L229.5,282.0 L231.0,280.1 L232.5,278.8 L234.5,277.7 L236.5,277.0 L239.0,276.7 L241.5,277.0 L243.5,277.7 L245.5,278.8 L247.3,280.5 L248.8,282.5 L249.7,284.5 L250.4,287.0 L250.5,289.5 L250.2,292.0 L249.3,294.5 L248.5,296.0 L247.4,297.5 L246.0,298.8 L244.5,300.0 L237.5,303.4 L233.0,306.1 L230.5,307.0Z M191.0,343.1 L188.5,343.2 L186.5,343.0 L184.5,342.4 L182.8,341.5 L181.7,340.5 L181.0,339.0 L181.2,337.5 L181.7,336.5 L183.0,335.1 L184.5,334.2 L186.5,333.4 L189.0,332.8 L191.5,332.7 L193.5,333.0 L195.5,333.6 L197.3,334.5 L198.3,335.5 L199.0,337.0 L198.8,338.5 L198.3,339.5 L197.0,340.8 L195.5,341.8 L193.5,342.5 L191.0,343.1Z M220.5,336.7 L218.5,336.9 L217.0,336.5 L216.0,335.5 L216.0,334.5 L217.0,333.5 L218.0,333.2 L219.5,333.1 L221.0,333.5 L221.7,334.0 L222.1,335.0 L221.7,336.0 L220.5,336.7Z M230.0,306.5 L227.5,306.5 L225.5,305.7 L224.3,304.5 L223.8,303.5 L223.7,302.5 L224.2,300.5 L226.8,296.5 L227.4,295.0 L227.7,293.0 L228.0,287.5 L228.4,285.5 L229.2,283.5 L230.5,281.5 L231.9,280.0 L233.5,278.8 L235.5,277.8 L237.5,277.3 L239.5,277.2 L241.5,277.5 L243.5,278.2 L245.5,279.5 L247.1,281.0 L248.5,283.0 L249.4,285.0 L249.9,287.5 L250.0,290.0 L249.5,292.5 L248.8,294.5 L247.9,296.0 L246.7,297.5 L244.0,299.7 L237.5,302.7 L232.5,305.7 L230.0,306.5Z M192.0,342.6 L190.0,342.8 L187.5,342.8 L185.5,342.4 L184.0,341.8 L182.5,340.7 L181.7,339.5 L181.6,338.5 L181.9,337.0 L182.7,336.0 L184.0,334.9 L186.0,333.9 L188.0,333.3 L190.5,333.1 L192.5,333.2 L194.5,333.6 L196.0,334.2 L197.5,335.3 L198.3,336.5 L198.4,337.5 L198.0,339.0 L197.0,340.3 L195.5,341.3 L194.0,342.0 L192.0,342.6Z M220.0,335.7 L219.5,335.9 L218.5,335.9 L217.7,335.5 L217.4,335.0 L217.7,334.5 L218.0,334.3 L218.5,334.1 L219.5,334.1 L220.3,334.5 L220.5,335.0 L220.0,335.7Z M231.0,305.6 L228.5,306.0 L226.5,305.4 L225.8,305.0 L225.0,304.1 L224.5,302.5 L225.0,300.5 L227.3,297.0 L228.0,295.5 L228.3,293.5 L228.5,288.0 L228.8,286.0 L229.5,284.2 L230.4,282.5 L231.6,281.0 L233.0,279.8 L235.0,278.6 L237.0,278.0 L239.0,277.8 L241.0,278.0 L243.0,278.6 L245.0,279.8 L246.5,281.1 L247.9,283.0 L248.8,285.0 L249.4,287.0 L249.5,289.5 L249.1,292.0 L248.4,294.0 L247.6,295.5 L246.5,296.9 L244.0,299.0 L242.0,300.1 L237.0,302.2 L232.5,304.9 L231.0,305.6Z M189.5,342.5 L187.5,342.4 L185.7,342.0 L184.4,341.5 L183.1,340.5 L182.4,339.5 L182.1,338.5 L182.5,337.0 L183.3,336.0 L184.6,335.0 L186.5,334.1 L188.5,333.6 L190.5,333.4 L192.5,333.5 L194.4,334.0 L196.0,334.7 L196.9,335.5 L197.6,336.5 L197.8,337.5 L197.4,339.0 L196.6,340.0 L195.3,341.0 L193.5,341.8 L191.5,342.3 L189.5,342.5Z M230.0,305.0 L228.5,305.1 L227.0,304.7 L226.0,303.8 L225.5,302.5 L225.6,301.5 L226.0,300.5 L228.0,297.5 L228.7,296.0 L228.9,294.0 L229.0,288.0 L229.4,286.0 L230.2,284.0 L231.1,282.5 L232.5,280.9 L234.0,279.8 L236.0,278.9 L238.0,278.4 L240.0,278.4 L242.0,278.9 L243.5,279.5 L245.0,280.5 L246.5,282.0 L247.8,284.0 L248.6,286.0 L248.9,288.0 L248.9,290.0 L248.6,292.0 L247.8,294.0 L246.0,296.6 L243.5,298.7 L241.5,299.7 L236.5,301.6 L232.0,304.3 L230.0,305.0Z M191.0,342.0 L187.5,342.0 L186.0,341.7 L184.5,341.0 L183.4,340.0 L182.9,339.0 L182.8,338.0 L183.2,337.0 L184.0,336.0 L185.5,335.0 L188.5,334.0 L190.5,333.8 L192.5,333.9 L194.0,334.3 L195.5,335.0 L196.6,336.0 L197.1,337.0 L197.1,338.0 L196.8,339.0 L195.9,340.0 L194.5,340.9 L193.0,341.6 L191.0,342.0Z M230.5,304.1 L229.0,304.3 L227.7,304.0 L227.0,303.5 L226.7,303.0 L226.5,302.0 L227.0,300.5 L228.7,298.0 L229.3,296.5 L229.5,294.5 L229.3,290.0 L229.5,288.0 L229.9,286.0 L230.7,284.0 L231.7,282.5 L233.0,281.1 L234.5,280.1 L236.0,279.4 L237.5,279.0 L239.5,278.9 L241.5,279.2 L243.0,279.8 L244.9,281.0 L246.3,282.5 L247.3,284.0 L248.1,286.0 L248.5,288.0 L248.5,290.0 L248.1,292.0 L247.3,294.0 L245.5,296.5 L243.0,298.4 L241.0,299.4 L235.5,301.3 L231.8,303.5 L230.5,304.1Z M192.0,341.5 L190.5,341.8 L188.5,341.8 L187.0,341.6 L185.4,341.0 L184.0,340.0 L183.4,339.0 L183.4,338.0 L183.8,337.0 L184.5,336.2 L185.5,335.4 L187.0,334.7 L188.5,334.3 L190.5,334.1 L192.0,334.2 L194.7,335.0 L195.5,335.5 L196.3,336.5 L196.6,337.5 L196.4,338.5 L195.8,339.5 L195.0,340.2 L193.5,341.0 L192.0,341.5Z M230.0,303.1 L228.5,302.9 L228.0,302.4 L227.9,301.5 L228.3,300.5 L229.5,298.5 L230.0,297.0 L230.2,295.0 L229.8,291.0 L229.9,288.5 L230.4,286.0 L231.2,284.0 L232.3,282.5 L233.5,281.3 L235.0,280.3 L236.5,279.7 L238.0,279.4 L240.0,279.4 L242.0,279.9 L243.5,280.6 L245.0,281.7 L246.5,283.5 L247.3,285.0 L247.9,287.0 L248.1,289.0 L247.9,291.0 L247.3,293.0 L246.5,294.5 L244.8,296.5 L242.5,298.1 L240.0,299.2 L234.5,300.9 L231.5,302.5 L230.0,303.1Z M189.5,341.5 L188.0,341.4 L186.5,341.1 L184.7,340.0 L184.3,339.5 L183.9,338.5 L184.1,337.5 L184.8,336.5 L186.0,335.6 L187.0,335.1 L190.0,334.5 L193.0,334.8 L194.5,335.4 L195.3,336.0 L195.7,336.5 L196.1,337.5 L195.9,338.5 L195.2,339.5 L194.0,340.4 L192.6,341.0 L189.5,341.5Z M231.5,300.6 L231.0,300.5 L230.8,300.0 L230.9,296.5 L230.2,289.5 L230.6,286.5 L231.7,284.0 L232.8,282.5 L234.0,281.4 L235.5,280.5 L237.0,280.0 L238.5,279.8 L240.0,279.8 L241.5,280.1 L243.0,280.8 L244.5,281.9 L245.6,283.0 L246.6,284.5 L247.3,286.5 L247.7,288.5 L247.6,290.5 L247.0,292.5 L246.3,294.0 L245.2,295.5 L244.2,296.5 L241.5,298.1 L238.5,299.1 L231.5,300.6Z M191.0,341.1 L188.0,341.1 L186.5,340.7 L185.5,340.1 L184.9,339.5 L184.5,338.5 L184.5,337.9 L184.9,337.0 L186.0,336.0 L186.9,335.5 L189.5,334.8 L191.0,334.8 L192.5,335.0 L194.5,335.9 L195.1,336.5 L195.5,337.5 L195.3,338.5 L195.0,339.0 L193.5,340.2 L191.0,341.1Z M238.5,298.5 L234.5,298.9 L233.5,298.7 L232.5,298.0 L231.8,296.5 L231.1,293.5 L230.7,291.0 L230.7,289.0 L231.0,287.0 L231.4,285.5 L232.2,284.0 L233.5,282.5 L235.0,281.3 L236.5,280.6 L238.0,280.3 L239.5,280.2 L241.0,280.5 L242.5,281.1 L244.0,282.0 L245.0,283.0 L246.1,284.5 L246.7,286.0 L247.1,287.5 L247.2,289.5 L247.0,291.0 L246.5,292.6 L245.8,294.0 L244.6,295.5 L243.5,296.4 L242.0,297.4 L238.5,298.5Z M191.5,340.6 L189.0,340.8 L187.5,340.6 L186.5,340.2 L185.6,339.5 L185.2,339.0 L185.1,338.5 L185.3,337.5 L186.0,336.6 L186.8,336.0 L189.0,335.3 L191.5,335.2 L193.5,335.8 L194.4,336.5 L194.7,337.0 L194.9,337.5 L194.7,338.5 L193.5,339.8 L191.5,340.6Z M237.5,298.0 L236.0,298.0 L234.5,297.7 L233.5,297.1 L233.0,296.5 L232.2,295.0 L231.5,292.4 L231.2,290.0 L231.3,288.0 L231.6,286.5 L232.3,285.0 L233.3,283.5 L234.3,282.5 L235.5,281.7 L237.0,281.1 L238.5,280.8 L240.0,280.8 L241.5,281.2 L243.0,282.0 L244.3,283.0 L245.1,284.0 L246.0,285.5 L246.5,287.0 L246.7,288.5 L246.6,290.5 L246.2,292.0 L245.5,293.5 L244.5,294.8 L243.5,295.8 L241.0,297.2 L239.5,297.7 L237.5,298.0Z M191.5,340.1 L189.5,340.4 L187.4,340.0 L186.5,339.5 L186.1,339.0 L185.9,338.5 L186.0,337.5 L187.0,336.5 L189.0,335.7 L191.0,335.6 L192.6,336.0 L193.5,336.5 L193.9,337.0 L194.1,338.0 L193.5,339.0 L192.5,339.7 L191.5,340.1Z M239.5,297.0 L238.0,297.3 L236.5,297.2 L235.0,296.8 L234.0,296.1 L233.2,295.0 L232.5,293.6 L232.0,291.8 L231.8,290.0 L232.1,287.0 L232.6,285.5 L233.5,284.1 L235.5,282.3 L237.0,281.7 L238.5,281.4 L241.0,281.7 L242.5,282.3 L243.5,283.1 L244.5,284.1 L245.4,285.5 L245.9,287.0 L246.1,288.5 L246.1,290.0 L245.8,291.5 L244.4,294.0 L243.5,295.0 L242.1,296.0 L239.5,297.0Z M191.0,339.6 L189.5,339.8 L188.0,339.5 L187.2,339.0 L186.9,338.5 L187.0,337.5 L188.0,336.7 L189.0,336.3 L190.5,336.2 L192.1,336.5 L192.8,337.0 L193.1,337.5 L193.1,338.0 L192.4,339.0 L191.0,339.6Z M238.5,296.5 L237.0,296.5 L236.0,296.3 L235.0,295.8 L234.0,294.8 L233.2,293.5 L232.7,292.0 L232.3,289.0 L232.5,287.5 L233.0,286.0 L234.5,283.8 L235.5,283.0 L237.0,282.3 L239.5,282.0 L241.0,282.3 L242.0,282.7 L243.0,283.4 L244.0,284.4 L244.7,285.5 L245.3,287.0 L245.6,289.5 L245.0,292.0 L243.5,294.2 L242.5,295.1 L241.0,295.9 L238.5,296.5Z M190.0,339.0 L189.0,338.9 L188.3,338.5 L188.2,338.0 L188.4,337.5 L190.0,336.9 L191.0,337.1 L191.7,337.5 L191.8,338.0 L191.5,338.5 L190.0,339.0Z M239.5,295.6 L238.0,295.7 L237.0,295.6 L236.0,295.2 L235.0,294.6 L234.1,293.5 L233.6,292.5 L233.0,290.0 L233.2,287.5 L233.7,286.0 L234.4,285.0 L236.0,283.5 L237.1,283.0 L238.5,282.7 L240.0,282.7 L241.0,283.0 L243.0,284.3 L244.2,286.0 L244.9,288.5 L244.7,291.0 L243.6,293.0 L242.0,294.6 L241.0,295.1 L239.5,295.6Z M239.5,294.6 L237.5,294.6 L236.0,293.9 L235.1,293.0 L234.5,292.1 L233.9,290.0 L234.1,287.5 L235.0,285.7 L236.5,284.3 L238.5,283.6 L240.5,283.8 L242.4,285.0 L243.5,286.5 L244.0,288.5 L243.9,290.5 L242.9,292.5 L241.5,293.8 L239.5,294.6Z M239.0,293.5 L237.5,293.3 L236.0,292.3 L235.2,291.0 L234.9,289.0 L235.2,287.5 L236.1,286.0 L237.5,285.0 L239.0,284.7 L240.5,285.0 L241.9,286.0 L242.8,287.5 L243.0,289.0 L242.8,290.5 L241.9,292.0 L240.5,293.1 L239.0,293.5Z M239.5,292.1 L238.0,292.0 L237.2,291.5 L236.5,290.6 L236.2,289.5 L236.2,288.5 L236.6,287.5 L237.5,286.5 L238.5,286.1 L239.5,286.1 L240.5,286.5 L241.4,287.5 L241.8,288.5 L241.8,289.5 L241.5,290.5 L240.6,291.5 L239.5,292.1Z" fill="none" stroke="#1a1a1a" stroke-width="0.45" clip-path="url(#cC2)"/>
<path d="M186.0,291.1h0.01M177.7,284.8h0.01M174.7,292.9h0.01M184.3,285.6h0.01M172.6,297.5h0.01M163.4,284.8h0.01M177.0,291.6h0.01M168.0,301.8h0.01M174.8,317.7h0.01M183.0,281.9h0.01M182.5,287.4h0.01M192.7,283.6h0.01M178.4,299.8h0.01M167.7,280.5h0.01M174.0,287.2h0.01M172.6,291.7h0.01M170.3,282.2h0.01M183.5,282.4h0.01M174.8,287.2h0.01M164.2,271.0h0.01M185.6,277.5h0.01M179.1,287.9h0.01M182.9,293.5h0.01M180.8,290.1h0.01M185.1,274.3h0.01M180.3,287.4h0.01M189.9,300.0h0.01M183.4,297.6h0.01M183.1,291.2h0.01M183.3,283.1h0.01M168.3,298.3h0.01M178.7,286.2h0.01M177.9,280.3h0.01M181.7,284.0h0.01M169.1,306.5h0.01M193.1,294.2h0.01M180.8,303.6h0.01M170.3,287.2h0.01M166.3,301.4h0.01M177.7,286.0h0.01" stroke="#777" stroke-width="0.9" stroke-linecap="round" stroke-opacity="1.0"/>
<path d="M236.9,338.9h0.01M255.3,333.7h0.01M230.0,326.7h0.01M238.3,331.4h0.01M246.5,328.4h0.01M264.2,316.3h0.01M230.2,329.7h0.01M205.2,340.5h0.01M234.4,318.4h0.01M240.3,327.1h0.01M242.2,338.0h0.01M266.3,317.2h0.01M246.3,332.2h0.01M256.3,317.3h0.01M218.0,343.6h0.01M257.4,357.8h0.01M281.9,354.3h0.01M255.5,327.4h0.01M245.1,338.9h0.01M243.1,331.5h0.01M275.7,331.2h0.01M221.5,348.6h0.01M237.8,314.2h0.01M249.2,342.7h0.01" stroke="#777" stroke-width="0.9" stroke-linecap="round" stroke-opacity="1.0"/>
<line x1="83.00" y1="242.50" x2="83.00" y2="378.30" stroke="#1e1e1e" stroke-width="1.15"/>
<line x1="27.50" y1="317.40" x2="155.90" y2="317.40" stroke="#1e1e1e" stroke-width="1.15"/>
<line x1="215.50" y1="242.50" x2="215.50" y2="378.30" stroke="#1e1e1e" stroke-width="1.15"/>
<line x1="159.50" y1="317.50" x2="289.50" y2="317.50" stroke="#1e1e1e" stroke-width="1.15"/>
<text x="29.55" y="255.00" font-size="10.8" textLength="19.65" lengthAdjust="spacingAndGlyphs">10.8</text>
<text x="87.00" y="257.50" font-size="14" textLength="19.60" lengthAdjust="spacingAndGlyphs">HC</text>
<text x="134.55" y="255.00" font-size="10.8" textLength="19.15" lengthAdjust="spacingAndGlyphs">4.25</text>
<text x="30.35" y="375.20" font-size="10.8" textLength="18.40" lengthAdjust="spacingAndGlyphs">72.7</text>
<text x="133.55" y="375.20" font-size="10.8" textLength="19.50" lengthAdjust="spacingAndGlyphs">12.2</text>
<text x="164.55" y="254.60" font-size="10.8" textLength="18.90" lengthAdjust="spacingAndGlyphs">9.79</text>
<text x="218.60" y="255.60" font-size="14" textLength="23.60" lengthAdjust="spacingAndGlyphs">pES</text>
<text x="266.55" y="254.60" font-size="10.8" textLength="18.40" lengthAdjust="spacingAndGlyphs">54.5</text>
<text x="161.55" y="373.80" font-size="10.8" textLength="19.40" lengthAdjust="spacingAndGlyphs">25.6</text>
<text x="266.55" y="373.80" font-size="10.8" textLength="18.40" lengthAdjust="spacingAndGlyphs">10.2</text>
<line x1="17.60" y1="321.00" x2="17.60" y2="250.00" stroke="#2EA8E0" stroke-width="1.3"/>
<polygon points="14.20,251.50 21.00,251.50 17.60,245.00" fill="#2EA8E0" stroke="none" stroke-width="1"/>
<line x1="69.30" y1="386.50" x2="284.00" y2="386.50" stroke="#2EA8E0" stroke-width="1.3"/>
<polygon points="282.30,383.30 282.30,389.70 289.00,386.50" fill="#2EA8E0" stroke="none" stroke-width="1"/>
<text x="21.50" y="375.50" font-size="13" fill="#111" textLength="42.20" lengthAdjust="spacingAndGlyphs" transform="rotate(-90 21.50 375.50)">CXCR5<tspan font-size="7.2" dy="-5.5">+</tspan><tspan dy="5.5"></tspan></text>
<text x="31.30" y="392.20" font-size="11.8" fill="#111" textLength="29.60" lengthAdjust="spacingAndGlyphs">PD-1<tspan font-size="6.5" dy="-5.0">+</tspan><tspan dy="5.0"></tspan></text>
<text x="337.50" y="218.00" font-size="14" font-weight="bold" fill="#000">D</text>
<text x="383.80" y="236.30" font-size="13" fill="#111" textLength="75.70" lengthAdjust="spacingAndGlyphs">TEMRA CD4<tspan font-size="7.2" dy="-5.5">+</tspan><tspan dy="5.5"></tspan></text>
<line x1="387.50" y1="251.20" x2="456.70" y2="251.20" stroke="#111" stroke-width="1.25"/>
<text x="422.80" y="249.20" font-size="8.2" text-anchor="middle">ns</text>
<line x1="387.50" y1="260.20" x2="421.00" y2="260.20" stroke="#111" stroke-width="1.25"/>
<path d="M398.12,256.06L398.62,257.07L399.74,257.23L398.93,258.02L399.12,259.13L398.12,258.61L397.13,259.13L397.32,258.02L396.51,257.23L397.63,257.07ZM402.38,256.06L402.87,257.07L403.99,257.23L403.18,258.02L403.37,259.13L402.38,258.61L401.38,259.13L401.57,258.02L400.76,257.23L401.88,257.07ZM406.62,256.06L407.12,257.07L408.24,257.23L407.43,258.02L407.62,259.13L406.62,258.61L405.63,259.13L405.82,258.02L405.01,257.23L406.13,257.07ZM410.88,256.06L411.37,257.07L412.49,257.23L411.68,258.02L411.87,259.13L410.88,258.61L409.88,259.13L410.07,258.02L409.26,257.23L410.38,257.07Z" fill="#111"/>
<line x1="424.30" y1="264.00" x2="458.00" y2="264.00" stroke="#111" stroke-width="1.25"/>
<path d="M436.23,259.66L436.72,260.67L437.84,260.83L437.03,261.62L437.22,262.73L436.23,262.21L435.23,262.73L435.42,261.62L434.61,260.83L435.73,260.67ZM440.48,259.66L440.97,260.67L442.09,260.83L441.28,261.62L441.47,262.73L440.48,262.21L439.48,262.73L439.67,261.62L438.86,260.83L439.98,260.67ZM444.73,259.66L445.22,260.67L446.34,260.83L445.53,261.62L445.72,262.73L444.73,262.21L443.73,262.73L443.92,261.62L443.11,260.83L444.23,260.67ZM448.98,259.66L449.47,260.67L450.59,260.83L449.78,261.62L449.97,262.73L448.98,262.21L447.98,262.73L448.17,261.62L447.36,260.83L448.48,260.67Z" fill="#111"/>
<line x1="365.60" y1="257.50" x2="365.60" y2="371.70" stroke="#111" stroke-width="1.3"/>
<line x1="360.60" y1="257.50" x2="365.60" y2="257.50" stroke="#111" stroke-width="1.3"/>
<text x="357.00" y="261.60" font-size="11.5" text-anchor="end">80</text>
<line x1="360.60" y1="286.20" x2="365.60" y2="286.20" stroke="#111" stroke-width="1.3"/>
<text x="357.00" y="290.30" font-size="11.5" text-anchor="end">60</text>
<line x1="360.60" y1="314.50" x2="365.60" y2="314.50" stroke="#111" stroke-width="1.3"/>
<text x="357.00" y="318.60" font-size="11.5" text-anchor="end">40</text>
<line x1="360.60" y1="342.60" x2="365.60" y2="342.60" stroke="#111" stroke-width="1.3"/>
<text x="357.00" y="346.70" font-size="11.5" text-anchor="end">20</text>
<line x1="360.60" y1="371.70" x2="365.60" y2="371.70" stroke="#111" stroke-width="1.3"/>
<text x="357.00" y="375.80" font-size="11.5" text-anchor="end">0</text>
<text x="339.40" y="313.80" font-size="14" text-anchor="middle" fill="#2a2a2a" textLength="30.60" lengthAdjust="spacingAndGlyphs" transform="rotate(-90 339.40 313.80)">% cTfh</text>
<line x1="360.50" y1="371.70" x2="482.50" y2="371.70" stroke="#111" stroke-width="1.3"/>
<line x1="388.80" y1="371.70" x2="388.80" y2="376.20" stroke="#111" stroke-width="1.3"/>
<line x1="424.40" y1="371.70" x2="424.40" y2="376.20" stroke="#111" stroke-width="1.3"/>
<line x1="459.60" y1="371.70" x2="459.60" y2="376.20" stroke="#111" stroke-width="1.3"/>
<text x="395.80" y="386.50" font-size="12" text-anchor="end" textLength="17.32" lengthAdjust="spacingAndGlyphs" transform="rotate(-45 395.80 386.50)">HC</text>
<text x="431.40" y="386.50" font-size="12" text-anchor="end" textLength="21.39" lengthAdjust="spacingAndGlyphs" transform="rotate(-45 431.40 386.50)">pES</text>
<text x="466.60" y="386.50" font-size="12" text-anchor="end" textLength="24.83" lengthAdjust="spacingAndGlyphs" transform="rotate(-45 466.60 386.50)">cITP</text>
<circle cx="424.40" cy="280.40" r="2.4" fill="#1E6CAD" stroke="#0a0a0a" stroke-width="1.0"/>
<circle cx="424.40" cy="287.50" r="2.4" fill="#1E6CAD" stroke="#0a0a0a" stroke-width="1.0"/>
<circle cx="424.40" cy="293.80" r="2.4" fill="#1E6CAD" stroke="#0a0a0a" stroke-width="1.0"/>
<circle cx="414.80" cy="310.20" r="2.4" fill="#1E6CAD" stroke="#0a0a0a" stroke-width="1.0"/>
<circle cx="421.20" cy="309.80" r="2.4" fill="#1E6CAD" stroke="#0a0a0a" stroke-width="1.0"/>
<circle cx="433.80" cy="313.10" r="2.4" fill="#1E6CAD" stroke="#0a0a0a" stroke-width="1.0"/>
<circle cx="421.20" cy="316.30" r="2.4" fill="#1E6CAD" stroke="#0a0a0a" stroke-width="1.0"/>
<circle cx="427.30" cy="316.30" r="2.4" fill="#1E6CAD" stroke="#0a0a0a" stroke-width="1.0"/>
<circle cx="424.40" cy="322.30" r="2.4" fill="#1E6CAD" stroke="#0a0a0a" stroke-width="1.0"/>
<circle cx="424.40" cy="327.50" r="2.4" fill="#1E6CAD" stroke="#0a0a0a" stroke-width="1.0"/>
<circle cx="421.20" cy="332.70" r="2.4" fill="#1E6CAD" stroke="#0a0a0a" stroke-width="1.0"/>
<circle cx="427.30" cy="332.70" r="2.4" fill="#1E6CAD" stroke="#0a0a0a" stroke-width="1.0"/>
<circle cx="414.80" cy="341.90" r="2.4" fill="#1E6CAD" stroke="#0a0a0a" stroke-width="1.0"/>
<circle cx="421.20" cy="341.00" r="2.4" fill="#1E6CAD" stroke="#0a0a0a" stroke-width="1.0"/>
<circle cx="427.30" cy="340.40" r="2.4" fill="#1E6CAD" stroke="#0a0a0a" stroke-width="1.0"/>
<circle cx="427.30" cy="345.80" r="2.4" fill="#1E6CAD" stroke="#0a0a0a" stroke-width="1.0"/>
<circle cx="433.80" cy="344.20" r="2.4" fill="#1E6CAD" stroke="#0a0a0a" stroke-width="1.0"/>
<circle cx="414.80" cy="357.70" r="2.4" fill="#1E6CAD" stroke="#0a0a0a" stroke-width="1.0"/>
<circle cx="421.20" cy="359.20" r="2.4" fill="#1E6CAD" stroke="#0a0a0a" stroke-width="1.0"/>
<circle cx="433.80" cy="358.80" r="2.4" fill="#1E6CAD" stroke="#0a0a0a" stroke-width="1.0"/>
<circle cx="427.30" cy="362.10" r="2.4" fill="#1E6CAD" stroke="#0a0a0a" stroke-width="1.0"/>
<circle cx="424.40" cy="368.50" r="2.4" fill="#1E6CAD" stroke="#0a0a0a" stroke-width="1.0"/>
<line x1="424.40" y1="324.60" x2="424.40" y2="335.20" stroke="#111" stroke-width="1.3"/>
<line x1="412.70" y1="330.00" x2="436.10" y2="330.00" stroke="#111" stroke-width="1.3"/>
<line x1="418.70" y1="324.60" x2="430.10" y2="324.60" stroke="#111" stroke-width="1.3"/>
<line x1="418.70" y1="335.20" x2="430.10" y2="335.20" stroke="#111" stroke-width="1.3"/>
<circle cx="379.00" cy="369.00" r="2.4" fill="#E2193F" stroke="#0a0a0a" stroke-width="1.0"/>
<circle cx="383.00" cy="367.00" r="2.4" fill="#E2193F" stroke="#0a0a0a" stroke-width="1.0"/>
<circle cx="387.00" cy="369.50" r="2.4" fill="#E2193F" stroke="#0a0a0a" stroke-width="1.0"/>
<circle cx="391.00" cy="367.50" r="2.4" fill="#E2193F" stroke="#0a0a0a" stroke-width="1.0"/>
<circle cx="395.00" cy="369.00" r="2.4" fill="#E2193F" stroke="#0a0a0a" stroke-width="1.0"/>
<circle cx="399.00" cy="368.00" r="2.4" fill="#E2193F" stroke="#0a0a0a" stroke-width="1.0"/>
<circle cx="381.00" cy="365.00" r="2.4" fill="#E2193F" stroke="#0a0a0a" stroke-width="1.0"/>
<circle cx="385.00" cy="364.00" r="2.4" fill="#E2193F" stroke="#0a0a0a" stroke-width="1.0"/>
<circle cx="389.00" cy="365.00" r="2.4" fill="#E2193F" stroke="#0a0a0a" stroke-width="1.0"/>
<circle cx="393.00" cy="364.50" r="2.4" fill="#E2193F" stroke="#0a0a0a" stroke-width="1.0"/>
<circle cx="397.00" cy="365.50" r="2.4" fill="#E2193F" stroke="#0a0a0a" stroke-width="1.0"/>
<circle cx="386.00" cy="368.00" r="2.4" fill="#E2193F" stroke="#0a0a0a" stroke-width="1.0"/>
<circle cx="392.00" cy="369.00" r="2.4" fill="#E2193F" stroke="#0a0a0a" stroke-width="1.0"/>
<circle cx="389.00" cy="362.50" r="2.4" fill="#E2193F" stroke="#0a0a0a" stroke-width="1.0"/>
<circle cx="384.00" cy="370.50" r="2.4" fill="#E2193F" stroke="#0a0a0a" stroke-width="1.0"/>
<circle cx="394.00" cy="370.50" r="2.4" fill="#E2193F" stroke="#0a0a0a" stroke-width="1.0"/>
<circle cx="459.60" cy="359.40" r="2.4" fill="#45D35C" stroke="#0a0a0a" stroke-width="1.0"/>
<circle cx="449.00" cy="369.50" r="2.4" fill="#45D35C" stroke="#0a0a0a" stroke-width="1.0"/>
<circle cx="453.00" cy="367.00" r="2.4" fill="#45D35C" stroke="#0a0a0a" stroke-width="1.0"/>
<circle cx="457.00" cy="369.50" r="2.4" fill="#45D35C" stroke="#0a0a0a" stroke-width="1.0"/>
<circle cx="461.00" cy="367.50" r="2.4" fill="#45D35C" stroke="#0a0a0a" stroke-width="1.0"/>
<circle cx="465.00" cy="369.50" r="2.4" fill="#45D35C" stroke="#0a0a0a" stroke-width="1.0"/>
<circle cx="469.00" cy="367.50" r="2.4" fill="#45D35C" stroke="#0a0a0a" stroke-width="1.0"/>
<circle cx="451.00" cy="364.50" r="2.4" fill="#45D35C" stroke="#0a0a0a" stroke-width="1.0"/>
<circle cx="455.00" cy="363.50" r="2.4" fill="#45D35C" stroke="#0a0a0a" stroke-width="1.0"/>
<circle cx="459.00" cy="364.00" r="2.4" fill="#45D35C" stroke="#0a0a0a" stroke-width="1.0"/>
<circle cx="463.00" cy="363.50" r="2.4" fill="#45D35C" stroke="#0a0a0a" stroke-width="1.0"/>
<circle cx="467.00" cy="365.00" r="2.4" fill="#45D35C" stroke="#0a0a0a" stroke-width="1.0"/>
<circle cx="456.00" cy="370.50" r="2.4" fill="#45D35C" stroke="#0a0a0a" stroke-width="1.0"/>
<circle cx="462.00" cy="370.50" r="2.4" fill="#45D35C" stroke="#0a0a0a" stroke-width="1.0"/>
<circle cx="460.00" cy="366.50" r="2.4" fill="#45D35C" stroke="#0a0a0a" stroke-width="1.0"/>
<text x="15.50" y="425.50" font-size="14" font-weight="bold" fill="#000">E</text>
<line x1="72.50" y1="431.75" x2="72.50" y2="599.00" stroke="#111" stroke-width="1.3"/>
<line x1="67.50" y1="431.75" x2="72.50" y2="431.75" stroke="#111" stroke-width="1.3"/>
<text x="64.20" y="435.85" font-size="11.5" text-anchor="end">100</text>
<line x1="67.50" y1="459.60" x2="72.50" y2="459.60" stroke="#111" stroke-width="1.3"/>
<text x="64.20" y="463.70" font-size="11.5" text-anchor="end">80</text>
<line x1="67.50" y1="487.50" x2="72.50" y2="487.50" stroke="#111" stroke-width="1.3"/>
<text x="64.20" y="491.60" font-size="11.5" text-anchor="end">60</text>
<line x1="67.50" y1="515.40" x2="72.50" y2="515.40" stroke="#111" stroke-width="1.3"/>
<text x="64.20" y="519.50" font-size="11.5" text-anchor="end">40</text>
<line x1="67.50" y1="543.20" x2="72.50" y2="543.20" stroke="#111" stroke-width="1.3"/>
<text x="64.20" y="547.30" font-size="11.5" text-anchor="end">20</text>
<line x1="67.50" y1="571.00" x2="72.50" y2="571.00" stroke="#111" stroke-width="1.3"/>
<text x="64.20" y="575.10" font-size="11.5" text-anchor="end">0</text>
<line x1="67.50" y1="599.00" x2="72.50" y2="599.00" stroke="#111" stroke-width="1.3"/>
<text x="64.20" y="603.10" font-size="11.5" text-anchor="end">−20</text>
<text x="40.00" y="515.20" font-size="14" text-anchor="middle" fill="#2a2a2a" textLength="27.50" lengthAdjust="spacingAndGlyphs" transform="rotate(-90 40.00 515.20)">%cTfh</text>
<line x1="72.50" y1="599.00" x2="336.80" y2="599.00" stroke="#111" stroke-width="1.3"/>
<line x1="113.80" y1="599.00" x2="113.80" y2="603.50" stroke="#111" stroke-width="1.3"/>
<line x1="204.60" y1="599.00" x2="204.60" y2="603.50" stroke="#111" stroke-width="1.3"/>
<line x1="295.40" y1="599.00" x2="295.40" y2="603.50" stroke="#111" stroke-width="1.3"/>
<text x="122.00" y="612.60" font-size="11.5" text-anchor="end" textLength="16.60" lengthAdjust="spacingAndGlyphs" transform="rotate(-45 122.00 612.60)">HC</text>
<text x="212.80" y="612.60" font-size="11.5" text-anchor="end" textLength="20.50" lengthAdjust="spacingAndGlyphs" transform="rotate(-45 212.80 612.60)">pES</text>
<text x="303.60" y="612.60" font-size="11.5" text-anchor="end" textLength="23.80" lengthAdjust="spacingAndGlyphs" transform="rotate(-45 303.60 612.60)">cITP</text>
<line x1="76" y1="571" x2="336" y2="571" stroke="#111" stroke-width="1.3" stroke-dasharray="1.3,2.2"/>
<line x1="115.70" y1="533.70" x2="138.30" y2="533.70" stroke="#111" stroke-width="1.25"/>
<path d="M127.70,526.80L128.49,528.41L130.27,528.67L128.98,529.92L129.29,531.69L127.70,530.86L126.11,531.69L126.42,529.92L125.13,528.67L126.91,528.41Z" fill="#111"/>
<line x1="206.40" y1="452.20" x2="229.50" y2="452.20" stroke="#111" stroke-width="1.25"/>
<path d="M217.40,445.80L218.19,447.41L219.97,447.67L218.68,448.92L218.99,450.69L217.40,449.85L215.81,450.69L216.12,448.92L214.83,447.67L216.61,447.41ZM223.30,445.80L224.09,447.41L225.87,447.67L224.58,448.92L224.89,450.69L223.30,449.85L221.71,450.69L222.02,448.92L220.73,447.67L222.51,447.41Z" fill="#111"/>
<line x1="294.50" y1="534.30" x2="317.00" y2="534.30" stroke="#111" stroke-width="1.25"/>
<text x="307.00" y="532.00" font-size="13" text-anchor="middle">ns</text>
<clipPath id="vc1"><path d="M88.70,566.80 C88.78,566.93 89.05,567.13 89.20,567.60 C89.35,568.07 88.60,569.15 89.60,569.60 C90.60,570.05 94.18,570.07 95.20,570.30 C96.22,570.53 96.68,570.78 95.70,571.00 C94.72,571.22 90.47,571.43 89.30,571.60 C88.13,571.77 88.80,571.93 88.70,572.00 C88.60,571.93 89.27,571.77 88.10,571.60 C86.93,571.43 82.68,571.22 81.70,571.00 C80.72,570.78 81.18,570.53 82.20,570.30 C83.22,570.07 86.80,570.05 87.80,569.60 C88.80,569.15 88.05,568.07 88.20,567.60 C88.35,567.13 88.62,566.93 88.70,566.80Z"/></clipPath>
<path d="M88.70,566.80 C88.78,566.93 89.05,567.13 89.20,567.60 C89.35,568.07 88.60,569.15 89.60,569.60 C90.60,570.05 94.18,570.07 95.20,570.30 C96.22,570.53 96.68,570.78 95.70,571.00 C94.72,571.22 90.47,571.43 89.30,571.60 C88.13,571.77 88.80,571.93 88.70,572.00 C88.60,571.93 89.27,571.77 88.10,571.60 C86.93,571.43 82.68,571.22 81.70,571.00 C80.72,570.78 81.18,570.53 82.20,570.30 C83.22,570.07 86.80,570.05 87.80,569.60 C88.80,569.15 88.05,568.07 88.20,567.60 C88.35,567.13 88.62,566.93 88.70,566.80Z" fill="#222"/>
<path d="M88.70,566.80 C88.78,566.93 89.05,567.13 89.20,567.60 C89.35,568.07 88.60,569.15 89.60,569.60 C90.60,570.05 94.18,570.07 95.20,570.30 C96.22,570.53 96.68,570.78 95.70,571.00 C94.72,571.22 90.47,571.43 89.30,571.60 C88.13,571.77 88.80,571.93 88.70,572.00 C88.60,571.93 89.27,571.77 88.10,571.60 C86.93,571.43 82.68,571.22 81.70,571.00 C80.72,570.78 81.18,570.53 82.20,570.30 C83.22,570.07 86.80,570.05 87.80,569.60 C88.80,569.15 88.05,568.07 88.20,567.60 C88.35,567.13 88.62,566.93 88.70,566.80Z" fill="none" stroke="#111" stroke-width="0.6"/>
<clipPath id="vc2"><path d="M113.60,557.50 C113.77,557.67 114.22,558.08 114.60,558.50 C114.98,558.92 115.42,559.33 115.90,560.00 C116.38,560.67 116.95,561.63 117.50,562.50 C118.05,563.37 118.63,564.38 119.20,565.20 C119.77,566.02 120.97,566.72 120.90,567.40 C120.83,568.08 119.60,568.70 118.80,569.30 C118.00,569.90 116.97,570.55 116.10,571.00 C115.23,571.45 114.02,571.83 113.60,572.00 C113.18,571.83 111.97,571.45 111.10,571.00 C110.23,570.55 109.20,569.90 108.40,569.30 C107.60,568.70 106.37,568.08 106.30,567.40 C106.23,566.72 107.43,566.02 108.00,565.20 C108.57,564.38 109.15,563.37 109.70,562.50 C110.25,561.63 110.82,560.67 111.30,560.00 C111.78,559.33 112.22,558.92 112.60,558.50 C112.98,558.08 113.43,557.67 113.60,557.50Z"/></clipPath>
<path d="M113.60,557.50 C113.77,557.67 114.22,558.08 114.60,558.50 C114.98,558.92 115.42,559.33 115.90,560.00 C116.38,560.67 116.95,561.63 117.50,562.50 C118.05,563.37 118.63,564.38 119.20,565.20 C119.77,566.02 120.97,566.72 120.90,567.40 C120.83,568.08 119.60,568.70 118.80,569.30 C118.00,569.90 116.97,570.55 116.10,571.00 C115.23,571.45 114.02,571.83 113.60,572.00 C113.18,571.83 111.97,571.45 111.10,571.00 C110.23,570.55 109.20,569.90 108.40,569.30 C107.60,568.70 106.37,568.08 106.30,567.40 C106.23,566.72 107.43,566.02 108.00,565.20 C108.57,564.38 109.15,563.37 109.70,562.50 C110.25,561.63 110.82,560.67 111.30,560.00 C111.78,559.33 112.22,558.92 112.60,558.50 C112.98,558.08 113.43,557.67 113.60,557.50Z" fill="#D41F3C"/>
<line x1="104.30" y1="567.00" x2="122.90" y2="567.00" stroke="#111" stroke-width="1.5" clip-path="url(#vc2)"/>
<line x1="104.30" y1="563.20" x2="122.90" y2="563.20" stroke="#111" stroke-width="1.1" stroke-dasharray="1.1,1.1" clip-path="url(#vc2)"/>
<line x1="104.30" y1="569.80" x2="122.90" y2="569.80" stroke="#111" stroke-width="1.1" stroke-dasharray="1.1,1.1" clip-path="url(#vc2)"/>
<path d="M113.60,557.50 C113.77,557.67 114.22,558.08 114.60,558.50 C114.98,558.92 115.42,559.33 115.90,560.00 C116.38,560.67 116.95,561.63 117.50,562.50 C118.05,563.37 118.63,564.38 119.20,565.20 C119.77,566.02 120.97,566.72 120.90,567.40 C120.83,568.08 119.60,568.70 118.80,569.30 C118.00,569.90 116.97,570.55 116.10,571.00 C115.23,571.45 114.02,571.83 113.60,572.00 C113.18,571.83 111.97,571.45 111.10,571.00 C110.23,570.55 109.20,569.90 108.40,569.30 C107.60,568.70 106.37,568.08 106.30,567.40 C106.23,566.72 107.43,566.02 108.00,565.20 C108.57,564.38 109.15,563.37 109.70,562.50 C110.25,561.63 110.82,560.67 111.30,560.00 C111.78,559.33 112.22,558.92 112.60,558.50 C112.98,558.08 113.43,557.67 113.60,557.50Z" fill="none" stroke="#111" stroke-width="1.0"/>
<clipPath id="vc3"><path d="M138.50,560.30 C138.70,560.45 139.27,560.82 139.70,561.20 C140.13,561.58 140.55,562.10 141.10,562.60 C141.65,563.10 142.07,563.77 143.00,564.20 C143.93,564.63 146.65,564.83 146.70,565.20 C146.75,565.57 143.75,566.00 143.30,566.40 C142.85,566.80 143.67,567.13 144.00,567.60 C144.33,568.07 145.62,568.67 145.30,569.20 C144.98,569.73 142.98,570.30 142.10,570.80 C141.22,571.30 140.60,571.78 140.00,572.20 C139.40,572.62 138.75,573.12 138.50,573.30 C138.25,573.12 137.60,572.62 137.00,572.20 C136.40,571.78 135.78,571.30 134.90,570.80 C134.02,570.30 132.02,569.73 131.70,569.20 C131.38,568.67 132.67,568.07 133.00,567.60 C133.33,567.13 134.15,566.80 133.70,566.40 C133.25,566.00 130.25,565.57 130.30,565.20 C130.35,564.83 133.07,564.63 134.00,564.20 C134.93,563.77 135.35,563.10 135.90,562.60 C136.45,562.10 136.87,561.58 137.30,561.20 C137.73,560.82 138.30,560.45 138.50,560.30Z"/></clipPath>
<path d="M138.50,560.30 C138.70,560.45 139.27,560.82 139.70,561.20 C140.13,561.58 140.55,562.10 141.10,562.60 C141.65,563.10 142.07,563.77 143.00,564.20 C143.93,564.63 146.65,564.83 146.70,565.20 C146.75,565.57 143.75,566.00 143.30,566.40 C142.85,566.80 143.67,567.13 144.00,567.60 C144.33,568.07 145.62,568.67 145.30,569.20 C144.98,569.73 142.98,570.30 142.10,570.80 C141.22,571.30 140.60,571.78 140.00,572.20 C139.40,572.62 138.75,573.12 138.50,573.30 C138.25,573.12 137.60,572.62 137.00,572.20 C136.40,571.78 135.78,571.30 134.90,570.80 C134.02,570.30 132.02,569.73 131.70,569.20 C131.38,568.67 132.67,568.07 133.00,567.60 C133.33,567.13 134.15,566.80 133.70,566.40 C133.25,566.00 130.25,565.57 130.30,565.20 C130.35,564.83 133.07,564.63 134.00,564.20 C134.93,563.77 135.35,563.10 135.90,562.60 C136.45,562.10 136.87,561.58 137.30,561.20 C137.73,560.82 138.30,560.45 138.50,560.30Z" fill="#1C5B96"/>
<line x1="128.30" y1="569.30" x2="148.70" y2="569.30" stroke="#111" stroke-width="1.5" clip-path="url(#vc3)"/>
<line x1="128.30" y1="564.60" x2="148.70" y2="564.60" stroke="#111" stroke-width="1.1" stroke-dasharray="1.1,1.1" clip-path="url(#vc3)"/>
<line x1="128.30" y1="571.30" x2="148.70" y2="571.30" stroke="#111" stroke-width="1.1" stroke-dasharray="1.1,1.1" clip-path="url(#vc3)"/>
<path d="M138.50,560.30 C138.70,560.45 139.27,560.82 139.70,561.20 C140.13,561.58 140.55,562.10 141.10,562.60 C141.65,563.10 142.07,563.77 143.00,564.20 C143.93,564.63 146.65,564.83 146.70,565.20 C146.75,565.57 143.75,566.00 143.30,566.40 C142.85,566.80 143.67,567.13 144.00,567.60 C144.33,568.07 145.62,568.67 145.30,569.20 C144.98,569.73 142.98,570.30 142.10,570.80 C141.22,571.30 140.60,571.78 140.00,572.20 C139.40,572.62 138.75,573.12 138.50,573.30 C138.25,573.12 137.60,572.62 137.00,572.20 C136.40,571.78 135.78,571.30 134.90,570.80 C134.02,570.30 132.02,569.73 131.70,569.20 C131.38,568.67 132.67,568.07 133.00,567.60 C133.33,567.13 134.15,566.80 133.70,566.40 C133.25,566.00 130.25,565.57 130.30,565.20 C130.35,564.83 133.07,564.63 134.00,564.20 C134.93,563.77 135.35,563.10 135.90,562.60 C136.45,562.10 136.87,561.58 137.30,561.20 C137.73,560.82 138.30,560.45 138.50,560.30Z" fill="none" stroke="#111" stroke-width="1.0"/>
<clipPath id="vc4"><path d="M180.00,553.60 C180.10,553.77 180.38,554.12 180.60,554.60 C180.82,555.08 181.30,555.85 181.30,556.50 C181.30,557.15 180.67,557.88 180.60,558.50 C180.53,559.12 180.77,559.72 180.90,560.20 C181.03,560.68 181.40,560.88 181.40,561.40 C181.40,561.92 180.80,562.67 180.90,563.30 C181.00,563.93 181.15,564.58 182.00,565.20 C182.85,565.82 184.97,566.55 186.00,567.00 C187.03,567.45 188.03,567.50 188.20,567.90 C188.37,568.30 187.37,568.95 187.00,569.40 C186.63,569.85 186.67,570.22 186.00,570.60 C185.33,570.98 184.00,571.33 183.00,571.70 C182.00,572.07 180.50,572.62 180.00,572.80 C179.50,572.62 178.00,572.07 177.00,571.70 C176.00,571.33 174.67,570.98 174.00,570.60 C173.33,570.22 173.37,569.85 173.00,569.40 C172.63,568.95 171.63,568.30 171.80,567.90 C171.97,567.50 172.97,567.45 174.00,567.00 C175.03,566.55 177.15,565.82 178.00,565.20 C178.85,564.58 179.00,563.93 179.10,563.30 C179.20,562.67 178.60,561.92 178.60,561.40 C178.60,560.88 178.97,560.68 179.10,560.20 C179.23,559.72 179.47,559.12 179.40,558.50 C179.33,557.88 178.70,557.15 178.70,556.50 C178.70,555.85 179.18,555.08 179.40,554.60 C179.62,554.12 179.90,553.77 180.00,553.60Z"/></clipPath>
<path d="M180.00,553.60 C180.10,553.77 180.38,554.12 180.60,554.60 C180.82,555.08 181.30,555.85 181.30,556.50 C181.30,557.15 180.67,557.88 180.60,558.50 C180.53,559.12 180.77,559.72 180.90,560.20 C181.03,560.68 181.40,560.88 181.40,561.40 C181.40,561.92 180.80,562.67 180.90,563.30 C181.00,563.93 181.15,564.58 182.00,565.20 C182.85,565.82 184.97,566.55 186.00,567.00 C187.03,567.45 188.03,567.50 188.20,567.90 C188.37,568.30 187.37,568.95 187.00,569.40 C186.63,569.85 186.67,570.22 186.00,570.60 C185.33,570.98 184.00,571.33 183.00,571.70 C182.00,572.07 180.50,572.62 180.00,572.80 C179.50,572.62 178.00,572.07 177.00,571.70 C176.00,571.33 174.67,570.98 174.00,570.60 C173.33,570.22 173.37,569.85 173.00,569.40 C172.63,568.95 171.63,568.30 171.80,567.90 C171.97,567.50 172.97,567.45 174.00,567.00 C175.03,566.55 177.15,565.82 178.00,565.20 C178.85,564.58 179.00,563.93 179.10,563.30 C179.20,562.67 178.60,561.92 178.60,561.40 C178.60,560.88 178.97,560.68 179.10,560.20 C179.23,559.72 179.47,559.12 179.40,558.50 C179.33,557.88 178.70,557.15 178.70,556.50 C178.70,555.85 179.18,555.08 179.40,554.60 C179.62,554.12 179.90,553.77 180.00,553.60Z" fill="#35A845"/>
<line x1="169.80" y1="568.10" x2="190.20" y2="568.10" stroke="#111" stroke-width="1.5" clip-path="url(#vc4)"/>
<line x1="169.80" y1="566.30" x2="190.20" y2="566.30" stroke="#111" stroke-width="1.1" stroke-dasharray="1.1,1.1" clip-path="url(#vc4)"/>
<line x1="169.80" y1="570.10" x2="190.20" y2="570.10" stroke="#111" stroke-width="1.1" stroke-dasharray="1.1,1.1" clip-path="url(#vc4)"/>
<path d="M180.00,553.60 C180.10,553.77 180.38,554.12 180.60,554.60 C180.82,555.08 181.30,555.85 181.30,556.50 C181.30,557.15 180.67,557.88 180.60,558.50 C180.53,559.12 180.77,559.72 180.90,560.20 C181.03,560.68 181.40,560.88 181.40,561.40 C181.40,561.92 180.80,562.67 180.90,563.30 C181.00,563.93 181.15,564.58 182.00,565.20 C182.85,565.82 184.97,566.55 186.00,567.00 C187.03,567.45 188.03,567.50 188.20,567.90 C188.37,568.30 187.37,568.95 187.00,569.40 C186.63,569.85 186.67,570.22 186.00,570.60 C185.33,570.98 184.00,571.33 183.00,571.70 C182.00,572.07 180.50,572.62 180.00,572.80 C179.50,572.62 178.00,572.07 177.00,571.70 C176.00,571.33 174.67,570.98 174.00,570.60 C173.33,570.22 173.37,569.85 173.00,569.40 C172.63,568.95 171.63,568.30 171.80,567.90 C171.97,567.50 172.97,567.45 174.00,567.00 C175.03,566.55 177.15,565.82 178.00,565.20 C178.85,564.58 179.00,563.93 179.10,563.30 C179.20,562.67 178.60,561.92 178.60,561.40 C178.60,560.88 178.97,560.68 179.10,560.20 C179.23,559.72 179.47,559.12 179.40,558.50 C179.33,557.88 178.70,557.15 178.70,556.50 C178.70,555.85 179.18,555.08 179.40,554.60 C179.62,554.12 179.90,553.77 180.00,553.60Z" fill="none" stroke="#111" stroke-width="0.7"/>
<clipPath id="vc5"><path d="M204.80,519.50 C204.90,519.83 205.22,520.47 205.40,521.50 C205.58,522.53 205.62,524.53 205.90,525.70 C206.18,526.87 206.77,527.52 207.10,528.50 C207.43,529.48 207.85,530.60 207.90,531.60 C207.95,532.60 207.57,533.65 207.40,534.50 C207.23,535.35 206.73,535.68 206.90,536.70 C207.07,537.72 207.67,539.18 208.40,540.60 C209.13,542.02 210.63,543.92 211.30,545.20 C211.97,546.48 212.38,547.30 212.40,548.30 C212.42,549.30 211.77,550.30 211.40,551.20 C211.03,552.10 210.63,552.43 210.20,553.70 C209.77,554.97 209.40,557.23 208.80,558.80 C208.20,560.37 207.17,561.90 206.60,563.10 C206.03,564.30 205.70,565.12 205.40,566.00 C205.10,566.88 204.90,568.00 204.80,568.40 C204.70,568.00 204.50,566.88 204.20,566.00 C203.90,565.12 203.57,564.30 203.00,563.10 C202.43,561.90 201.40,560.37 200.80,558.80 C200.20,557.23 199.83,554.97 199.40,553.70 C198.97,552.43 198.57,552.10 198.20,551.20 C197.83,550.30 197.18,549.30 197.20,548.30 C197.22,547.30 197.63,546.48 198.30,545.20 C198.97,543.92 200.47,542.02 201.20,540.60 C201.93,539.18 202.53,537.72 202.70,536.70 C202.87,535.68 202.37,535.35 202.20,534.50 C202.03,533.65 201.65,532.60 201.70,531.60 C201.75,530.60 202.17,529.48 202.50,528.50 C202.83,527.52 203.42,526.87 203.70,525.70 C203.98,524.53 204.02,522.53 204.20,521.50 C204.38,520.47 204.70,519.83 204.80,519.50Z"/></clipPath>
<path d="M204.80,519.50 C204.90,519.83 205.22,520.47 205.40,521.50 C205.58,522.53 205.62,524.53 205.90,525.70 C206.18,526.87 206.77,527.52 207.10,528.50 C207.43,529.48 207.85,530.60 207.90,531.60 C207.95,532.60 207.57,533.65 207.40,534.50 C207.23,535.35 206.73,535.68 206.90,536.70 C207.07,537.72 207.67,539.18 208.40,540.60 C209.13,542.02 210.63,543.92 211.30,545.20 C211.97,546.48 212.38,547.30 212.40,548.30 C212.42,549.30 211.77,550.30 211.40,551.20 C211.03,552.10 210.63,552.43 210.20,553.70 C209.77,554.97 209.40,557.23 208.80,558.80 C208.20,560.37 207.17,561.90 206.60,563.10 C206.03,564.30 205.70,565.12 205.40,566.00 C205.10,566.88 204.90,568.00 204.80,568.40 C204.70,568.00 204.50,566.88 204.20,566.00 C203.90,565.12 203.57,564.30 203.00,563.10 C202.43,561.90 201.40,560.37 200.80,558.80 C200.20,557.23 199.83,554.97 199.40,553.70 C198.97,552.43 198.57,552.10 198.20,551.20 C197.83,550.30 197.18,549.30 197.20,548.30 C197.22,547.30 197.63,546.48 198.30,545.20 C198.97,543.92 200.47,542.02 201.20,540.60 C201.93,539.18 202.53,537.72 202.70,536.70 C202.87,535.68 202.37,535.35 202.20,534.50 C202.03,533.65 201.65,532.60 201.70,531.60 C201.75,530.60 202.17,529.48 202.50,528.50 C202.83,527.52 203.42,526.87 203.70,525.70 C203.98,524.53 204.02,522.53 204.20,521.50 C204.38,520.47 204.70,519.83 204.80,519.50Z" fill="#D41F3C"/>
<line x1="195.20" y1="548.30" x2="214.40" y2="548.30" stroke="#111" stroke-width="1.5" clip-path="url(#vc5)"/>
<line x1="195.20" y1="540.60" x2="214.40" y2="540.60" stroke="#111" stroke-width="1.1" stroke-dasharray="1.1,1.1" clip-path="url(#vc5)"/>
<line x1="195.20" y1="553.90" x2="214.40" y2="553.90" stroke="#111" stroke-width="1.1" stroke-dasharray="1.1,1.1" clip-path="url(#vc5)"/>
<path d="M204.80,519.50 C204.90,519.83 205.22,520.47 205.40,521.50 C205.58,522.53 205.62,524.53 205.90,525.70 C206.18,526.87 206.77,527.52 207.10,528.50 C207.43,529.48 207.85,530.60 207.90,531.60 C207.95,532.60 207.57,533.65 207.40,534.50 C207.23,535.35 206.73,535.68 206.90,536.70 C207.07,537.72 207.67,539.18 208.40,540.60 C209.13,542.02 210.63,543.92 211.30,545.20 C211.97,546.48 212.38,547.30 212.40,548.30 C212.42,549.30 211.77,550.30 211.40,551.20 C211.03,552.10 210.63,552.43 210.20,553.70 C209.77,554.97 209.40,557.23 208.80,558.80 C208.20,560.37 207.17,561.90 206.60,563.10 C206.03,564.30 205.70,565.12 205.40,566.00 C205.10,566.88 204.90,568.00 204.80,568.40 C204.70,568.00 204.50,566.88 204.20,566.00 C203.90,565.12 203.57,564.30 203.00,563.10 C202.43,561.90 201.40,560.37 200.80,558.80 C200.20,557.23 199.83,554.97 199.40,553.70 C198.97,552.43 198.57,552.10 198.20,551.20 C197.83,550.30 197.18,549.30 197.20,548.30 C197.22,547.30 197.63,546.48 198.30,545.20 C198.97,543.92 200.47,542.02 201.20,540.60 C201.93,539.18 202.53,537.72 202.70,536.70 C202.87,535.68 202.37,535.35 202.20,534.50 C202.03,533.65 201.65,532.60 201.70,531.60 C201.75,530.60 202.17,529.48 202.50,528.50 C202.83,527.52 203.42,526.87 203.70,525.70 C203.98,524.53 204.02,522.53 204.20,521.50 C204.38,520.47 204.70,519.83 204.80,519.50Z" fill="none" stroke="#111" stroke-width="1.0"/>
<clipPath id="vc6"><path d="M229.50,458.30 C229.55,458.92 229.67,460.27 229.80,462.00 C229.93,463.73 230.05,466.53 230.30,468.70 C230.55,470.87 231.03,472.73 231.30,475.00 C231.57,477.27 231.87,480.05 231.90,482.30 C231.93,484.55 231.63,486.52 231.50,488.50 C231.37,490.48 230.90,492.28 231.10,494.20 C231.30,496.12 231.93,498.02 232.70,500.00 C233.47,501.98 234.97,503.80 235.70,506.10 C236.43,508.40 236.82,511.25 237.10,513.80 C237.38,516.35 237.47,519.12 237.40,521.40 C237.33,523.68 236.93,525.60 236.70,527.50 C236.47,529.40 236.03,531.22 236.00,532.80 C235.97,534.38 236.35,535.78 236.50,537.00 C236.65,538.22 236.93,538.77 236.90,540.10 C236.87,541.43 236.53,543.52 236.30,545.00 C236.07,546.48 235.77,547.27 235.50,549.00 C235.23,550.73 234.98,553.48 234.70,555.40 C234.42,557.32 234.13,558.80 233.80,560.50 C233.47,562.20 233.05,563.93 232.70,565.60 C232.35,567.27 232.03,568.78 231.70,570.50 C231.37,572.22 230.98,573.98 230.70,575.90 C230.42,577.82 230.17,580.15 230.00,582.00 C229.83,583.85 229.78,585.43 229.70,587.00 C229.62,588.57 229.53,590.67 229.50,591.40 C229.47,590.67 229.38,588.57 229.30,587.00 C229.22,585.43 229.17,583.85 229.00,582.00 C228.83,580.15 228.58,577.82 228.30,575.90 C228.02,573.98 227.63,572.22 227.30,570.50 C226.97,568.78 226.65,567.27 226.30,565.60 C225.95,563.93 225.53,562.20 225.20,560.50 C224.87,558.80 224.58,557.32 224.30,555.40 C224.02,553.48 223.77,550.73 223.50,549.00 C223.23,547.27 222.93,546.48 222.70,545.00 C222.47,543.52 222.13,541.43 222.10,540.10 C222.07,538.77 222.35,538.22 222.50,537.00 C222.65,535.78 223.03,534.38 223.00,532.80 C222.97,531.22 222.53,529.40 222.30,527.50 C222.07,525.60 221.67,523.68 221.60,521.40 C221.53,519.12 221.62,516.35 221.90,513.80 C222.18,511.25 222.57,508.40 223.30,506.10 C224.03,503.80 225.53,501.98 226.30,500.00 C227.07,498.02 227.70,496.12 227.90,494.20 C228.10,492.28 227.63,490.48 227.50,488.50 C227.37,486.52 227.07,484.55 227.10,482.30 C227.13,480.05 227.43,477.27 227.70,475.00 C227.97,472.73 228.45,470.87 228.70,468.70 C228.95,466.53 229.07,463.73 229.20,462.00 C229.33,460.27 229.45,458.92 229.50,458.30Z"/></clipPath>
<path d="M229.50,458.30 C229.55,458.92 229.67,460.27 229.80,462.00 C229.93,463.73 230.05,466.53 230.30,468.70 C230.55,470.87 231.03,472.73 231.30,475.00 C231.57,477.27 231.87,480.05 231.90,482.30 C231.93,484.55 231.63,486.52 231.50,488.50 C231.37,490.48 230.90,492.28 231.10,494.20 C231.30,496.12 231.93,498.02 232.70,500.00 C233.47,501.98 234.97,503.80 235.70,506.10 C236.43,508.40 236.82,511.25 237.10,513.80 C237.38,516.35 237.47,519.12 237.40,521.40 C237.33,523.68 236.93,525.60 236.70,527.50 C236.47,529.40 236.03,531.22 236.00,532.80 C235.97,534.38 236.35,535.78 236.50,537.00 C236.65,538.22 236.93,538.77 236.90,540.10 C236.87,541.43 236.53,543.52 236.30,545.00 C236.07,546.48 235.77,547.27 235.50,549.00 C235.23,550.73 234.98,553.48 234.70,555.40 C234.42,557.32 234.13,558.80 233.80,560.50 C233.47,562.20 233.05,563.93 232.70,565.60 C232.35,567.27 232.03,568.78 231.70,570.50 C231.37,572.22 230.98,573.98 230.70,575.90 C230.42,577.82 230.17,580.15 230.00,582.00 C229.83,583.85 229.78,585.43 229.70,587.00 C229.62,588.57 229.53,590.67 229.50,591.40 C229.47,590.67 229.38,588.57 229.30,587.00 C229.22,585.43 229.17,583.85 229.00,582.00 C228.83,580.15 228.58,577.82 228.30,575.90 C228.02,573.98 227.63,572.22 227.30,570.50 C226.97,568.78 226.65,567.27 226.30,565.60 C225.95,563.93 225.53,562.20 225.20,560.50 C224.87,558.80 224.58,557.32 224.30,555.40 C224.02,553.48 223.77,550.73 223.50,549.00 C223.23,547.27 222.93,546.48 222.70,545.00 C222.47,543.52 222.13,541.43 222.10,540.10 C222.07,538.77 222.35,538.22 222.50,537.00 C222.65,535.78 223.03,534.38 223.00,532.80 C222.97,531.22 222.53,529.40 222.30,527.50 C222.07,525.60 221.67,523.68 221.60,521.40 C221.53,519.12 221.62,516.35 221.90,513.80 C222.18,511.25 222.57,508.40 223.30,506.10 C224.03,503.80 225.53,501.98 226.30,500.00 C227.07,498.02 227.70,496.12 227.90,494.20 C228.10,492.28 227.63,490.48 227.50,488.50 C227.37,486.52 227.07,484.55 227.10,482.30 C227.13,480.05 227.43,477.27 227.70,475.00 C227.97,472.73 228.45,470.87 228.70,468.70 C228.95,466.53 229.07,463.73 229.20,462.00 C229.33,460.27 229.45,458.92 229.50,458.30Z" fill="#1C5B96"/>
<line x1="219.60" y1="532.80" x2="239.40" y2="532.80" stroke="#111" stroke-width="1.5" clip-path="url(#vc6)"/>
<line x1="219.60" y1="513.80" x2="239.40" y2="513.80" stroke="#111" stroke-width="1.1" stroke-dasharray="1.1,1.1" clip-path="url(#vc6)"/>
<line x1="219.60" y1="549.10" x2="239.40" y2="549.10" stroke="#111" stroke-width="1.1" stroke-dasharray="1.1,1.1" clip-path="url(#vc6)"/>
<path d="M229.50,458.30 C229.55,458.92 229.67,460.27 229.80,462.00 C229.93,463.73 230.05,466.53 230.30,468.70 C230.55,470.87 231.03,472.73 231.30,475.00 C231.57,477.27 231.87,480.05 231.90,482.30 C231.93,484.55 231.63,486.52 231.50,488.50 C231.37,490.48 230.90,492.28 231.10,494.20 C231.30,496.12 231.93,498.02 232.70,500.00 C233.47,501.98 234.97,503.80 235.70,506.10 C236.43,508.40 236.82,511.25 237.10,513.80 C237.38,516.35 237.47,519.12 237.40,521.40 C237.33,523.68 236.93,525.60 236.70,527.50 C236.47,529.40 236.03,531.22 236.00,532.80 C235.97,534.38 236.35,535.78 236.50,537.00 C236.65,538.22 236.93,538.77 236.90,540.10 C236.87,541.43 236.53,543.52 236.30,545.00 C236.07,546.48 235.77,547.27 235.50,549.00 C235.23,550.73 234.98,553.48 234.70,555.40 C234.42,557.32 234.13,558.80 233.80,560.50 C233.47,562.20 233.05,563.93 232.70,565.60 C232.35,567.27 232.03,568.78 231.70,570.50 C231.37,572.22 230.98,573.98 230.70,575.90 C230.42,577.82 230.17,580.15 230.00,582.00 C229.83,583.85 229.78,585.43 229.70,587.00 C229.62,588.57 229.53,590.67 229.50,591.40 C229.47,590.67 229.38,588.57 229.30,587.00 C229.22,585.43 229.17,583.85 229.00,582.00 C228.83,580.15 228.58,577.82 228.30,575.90 C228.02,573.98 227.63,572.22 227.30,570.50 C226.97,568.78 226.65,567.27 226.30,565.60 C225.95,563.93 225.53,562.20 225.20,560.50 C224.87,558.80 224.58,557.32 224.30,555.40 C224.02,553.48 223.77,550.73 223.50,549.00 C223.23,547.27 222.93,546.48 222.70,545.00 C222.47,543.52 222.13,541.43 222.10,540.10 C222.07,538.77 222.35,538.22 222.50,537.00 C222.65,535.78 223.03,534.38 223.00,532.80 C222.97,531.22 222.53,529.40 222.30,527.50 C222.07,525.60 221.67,523.68 221.60,521.40 C221.53,519.12 221.62,516.35 221.90,513.80 C222.18,511.25 222.57,508.40 223.30,506.10 C224.03,503.80 225.53,501.98 226.30,500.00 C227.07,498.02 227.70,496.12 227.90,494.20 C228.10,492.28 227.63,490.48 227.50,488.50 C227.37,486.52 227.07,484.55 227.10,482.30 C227.13,480.05 227.43,477.27 227.70,475.00 C227.97,472.73 228.45,470.87 228.70,468.70 C228.95,466.53 229.07,463.73 229.20,462.00 C229.33,460.27 229.45,458.92 229.50,458.30Z" fill="none" stroke="#111" stroke-width="1.0"/>
<clipPath id="vc7"><path d="M270.80,569.00 C270.90,569.10 271.23,569.40 271.40,569.60 C271.57,569.80 270.73,570.00 271.80,570.20 C272.87,570.40 276.72,570.60 277.80,570.80 C278.88,571.00 279.33,571.22 278.30,571.40 C277.27,571.58 272.85,571.75 271.60,571.90 C270.35,572.05 270.93,572.23 270.80,572.30 C270.67,572.23 271.25,572.05 270.00,571.90 C268.75,571.75 264.33,571.58 263.30,571.40 C262.27,571.22 262.72,571.00 263.80,570.80 C264.88,570.60 268.73,570.40 269.80,570.20 C270.87,570.00 270.03,569.80 270.20,569.60 C270.37,569.40 270.70,569.10 270.80,569.00Z"/></clipPath>
<path d="M270.80,569.00 C270.90,569.10 271.23,569.40 271.40,569.60 C271.57,569.80 270.73,570.00 271.80,570.20 C272.87,570.40 276.72,570.60 277.80,570.80 C278.88,571.00 279.33,571.22 278.30,571.40 C277.27,571.58 272.85,571.75 271.60,571.90 C270.35,572.05 270.93,572.23 270.80,572.30 C270.67,572.23 271.25,572.05 270.00,571.90 C268.75,571.75 264.33,571.58 263.30,571.40 C262.27,571.22 262.72,571.00 263.80,570.80 C264.88,570.60 268.73,570.40 269.80,570.20 C270.87,570.00 270.03,569.80 270.20,569.60 C270.37,569.40 270.70,569.10 270.80,569.00Z" fill="#222"/>
<path d="M270.80,569.00 C270.90,569.10 271.23,569.40 271.40,569.60 C271.57,569.80 270.73,570.00 271.80,570.20 C272.87,570.40 276.72,570.60 277.80,570.80 C278.88,571.00 279.33,571.22 278.30,571.40 C277.27,571.58 272.85,571.75 271.60,571.90 C270.35,572.05 270.93,572.23 270.80,572.30 C270.67,572.23 271.25,572.05 270.00,571.90 C268.75,571.75 264.33,571.58 263.30,571.40 C262.27,571.22 262.72,571.00 263.80,570.80 C264.88,570.60 268.73,570.40 269.80,570.20 C270.87,570.00 270.03,569.80 270.20,569.60 C270.37,569.40 270.70,569.10 270.80,569.00Z" fill="none" stroke="#111" stroke-width="0.6"/>
<clipPath id="vc8"><path d="M295.10,557.20 C295.32,557.42 295.77,558.00 296.40,558.50 C297.03,559.00 298.20,559.68 298.90,560.20 C299.60,560.72 300.02,561.13 300.60,561.60 C301.18,562.07 302.35,562.57 302.40,563.00 C302.45,563.43 301.12,563.80 300.90,564.20 C300.68,564.60 300.93,565.02 301.10,565.40 C301.27,565.78 301.63,566.15 301.90,566.50 C302.17,566.85 302.87,567.08 302.70,567.50 C302.53,567.92 301.48,568.52 300.90,569.00 C300.32,569.48 299.80,569.87 299.20,570.40 C298.60,570.93 297.98,571.60 297.30,572.20 C296.62,572.80 295.47,573.70 295.10,574.00 C294.73,573.70 293.58,572.80 292.90,572.20 C292.22,571.60 291.60,570.93 291.00,570.40 C290.40,569.87 289.88,569.48 289.30,569.00 C288.72,568.52 287.67,567.92 287.50,567.50 C287.33,567.08 288.03,566.85 288.30,566.50 C288.57,566.15 288.93,565.78 289.10,565.40 C289.27,565.02 289.52,564.60 289.30,564.20 C289.08,563.80 287.75,563.43 287.80,563.00 C287.85,562.57 289.02,562.07 289.60,561.60 C290.18,561.13 290.60,560.72 291.30,560.20 C292.00,559.68 293.17,559.00 293.80,558.50 C294.43,558.00 294.88,557.42 295.10,557.20Z"/></clipPath>
<path d="M295.10,557.20 C295.32,557.42 295.77,558.00 296.40,558.50 C297.03,559.00 298.20,559.68 298.90,560.20 C299.60,560.72 300.02,561.13 300.60,561.60 C301.18,562.07 302.35,562.57 302.40,563.00 C302.45,563.43 301.12,563.80 300.90,564.20 C300.68,564.60 300.93,565.02 301.10,565.40 C301.27,565.78 301.63,566.15 301.90,566.50 C302.17,566.85 302.87,567.08 302.70,567.50 C302.53,567.92 301.48,568.52 300.90,569.00 C300.32,569.48 299.80,569.87 299.20,570.40 C298.60,570.93 297.98,571.60 297.30,572.20 C296.62,572.80 295.47,573.70 295.10,574.00 C294.73,573.70 293.58,572.80 292.90,572.20 C292.22,571.60 291.60,570.93 291.00,570.40 C290.40,569.87 289.88,569.48 289.30,569.00 C288.72,568.52 287.67,567.92 287.50,567.50 C287.33,567.08 288.03,566.85 288.30,566.50 C288.57,566.15 288.93,565.78 289.10,565.40 C289.27,565.02 289.52,564.60 289.30,564.20 C289.08,563.80 287.75,563.43 287.80,563.00 C287.85,562.57 289.02,562.07 289.60,561.60 C290.18,561.13 290.60,560.72 291.30,560.20 C292.00,559.68 293.17,559.00 293.80,558.50 C294.43,558.00 294.88,557.42 295.10,557.20Z" fill="#D41F3C"/>
<line x1="285.50" y1="565.20" x2="304.70" y2="565.20" stroke="#111" stroke-width="1.5" clip-path="url(#vc8)"/>
<line x1="285.50" y1="562.60" x2="304.70" y2="562.60" stroke="#111" stroke-width="1.1" stroke-dasharray="1.1,1.1" clip-path="url(#vc8)"/>
<line x1="285.50" y1="567.80" x2="304.70" y2="567.80" stroke="#111" stroke-width="1.1" stroke-dasharray="1.1,1.1" clip-path="url(#vc8)"/>
<path d="M295.10,557.20 C295.32,557.42 295.77,558.00 296.40,558.50 C297.03,559.00 298.20,559.68 298.90,560.20 C299.60,560.72 300.02,561.13 300.60,561.60 C301.18,562.07 302.35,562.57 302.40,563.00 C302.45,563.43 301.12,563.80 300.90,564.20 C300.68,564.60 300.93,565.02 301.10,565.40 C301.27,565.78 301.63,566.15 301.90,566.50 C302.17,566.85 302.87,567.08 302.70,567.50 C302.53,567.92 301.48,568.52 300.90,569.00 C300.32,569.48 299.80,569.87 299.20,570.40 C298.60,570.93 297.98,571.60 297.30,572.20 C296.62,572.80 295.47,573.70 295.10,574.00 C294.73,573.70 293.58,572.80 292.90,572.20 C292.22,571.60 291.60,570.93 291.00,570.40 C290.40,569.87 289.88,569.48 289.30,569.00 C288.72,568.52 287.67,567.92 287.50,567.50 C287.33,567.08 288.03,566.85 288.30,566.50 C288.57,566.15 288.93,565.78 289.10,565.40 C289.27,565.02 289.52,564.60 289.30,564.20 C289.08,563.80 287.75,563.43 287.80,563.00 C287.85,562.57 289.02,562.07 289.60,561.60 C290.18,561.13 290.60,560.72 291.30,560.20 C292.00,559.68 293.17,559.00 293.80,558.50 C294.43,558.00 294.88,557.42 295.10,557.20Z" fill="none" stroke="#111" stroke-width="1.0"/>
<clipPath id="vc9"><path d="M320.30,556.30 C320.40,556.47 320.68,556.90 320.90,557.30 C321.12,557.70 321.53,558.22 321.60,558.70 C321.67,559.18 321.08,559.72 321.30,560.20 C321.52,560.68 322.43,561.10 322.90,561.60 C323.37,562.10 323.67,562.70 324.10,563.20 C324.53,563.70 325.07,564.10 325.50,564.60 C325.93,565.10 326.30,565.70 326.70,566.20 C327.10,566.70 327.67,567.03 327.90,567.60 C328.13,568.17 328.62,569.00 328.10,569.60 C327.58,570.20 325.77,570.72 324.80,571.20 C323.83,571.68 323.05,572.13 322.30,572.50 C321.55,572.87 320.63,573.25 320.30,573.40 C319.97,573.25 319.05,572.87 318.30,572.50 C317.55,572.13 316.77,571.68 315.80,571.20 C314.83,570.72 313.02,570.20 312.50,569.60 C311.98,569.00 312.47,568.17 312.70,567.60 C312.93,567.03 313.50,566.70 313.90,566.20 C314.30,565.70 314.67,565.10 315.10,564.60 C315.53,564.10 316.07,563.70 316.50,563.20 C316.93,562.70 317.23,562.10 317.70,561.60 C318.17,561.10 319.08,560.68 319.30,560.20 C319.52,559.72 318.93,559.18 319.00,558.70 C319.07,558.22 319.48,557.70 319.70,557.30 C319.92,556.90 320.20,556.47 320.30,556.30Z"/></clipPath>
<path d="M320.30,556.30 C320.40,556.47 320.68,556.90 320.90,557.30 C321.12,557.70 321.53,558.22 321.60,558.70 C321.67,559.18 321.08,559.72 321.30,560.20 C321.52,560.68 322.43,561.10 322.90,561.60 C323.37,562.10 323.67,562.70 324.10,563.20 C324.53,563.70 325.07,564.10 325.50,564.60 C325.93,565.10 326.30,565.70 326.70,566.20 C327.10,566.70 327.67,567.03 327.90,567.60 C328.13,568.17 328.62,569.00 328.10,569.60 C327.58,570.20 325.77,570.72 324.80,571.20 C323.83,571.68 323.05,572.13 322.30,572.50 C321.55,572.87 320.63,573.25 320.30,573.40 C319.97,573.25 319.05,572.87 318.30,572.50 C317.55,572.13 316.77,571.68 315.80,571.20 C314.83,570.72 313.02,570.20 312.50,569.60 C311.98,569.00 312.47,568.17 312.70,567.60 C312.93,567.03 313.50,566.70 313.90,566.20 C314.30,565.70 314.67,565.10 315.10,564.60 C315.53,564.10 316.07,563.70 316.50,563.20 C316.93,562.70 317.23,562.10 317.70,561.60 C318.17,561.10 319.08,560.68 319.30,560.20 C319.52,559.72 318.93,559.18 319.00,558.70 C319.07,558.22 319.48,557.70 319.70,557.30 C319.92,556.90 320.20,556.47 320.30,556.30Z" fill="#1C5B96"/>
<line x1="310.50" y1="569.40" x2="330.10" y2="569.40" stroke="#111" stroke-width="1.5" clip-path="url(#vc9)"/>
<line x1="310.50" y1="565.60" x2="330.10" y2="565.60" stroke="#111" stroke-width="1.1" stroke-dasharray="1.1,1.1" clip-path="url(#vc9)"/>
<line x1="310.50" y1="571.30" x2="330.10" y2="571.30" stroke="#111" stroke-width="1.1" stroke-dasharray="1.1,1.1" clip-path="url(#vc9)"/>
<path d="M320.30,556.30 C320.40,556.47 320.68,556.90 320.90,557.30 C321.12,557.70 321.53,558.22 321.60,558.70 C321.67,559.18 321.08,559.72 321.30,560.20 C321.52,560.68 322.43,561.10 322.90,561.60 C323.37,562.10 323.67,562.70 324.10,563.20 C324.53,563.70 325.07,564.10 325.50,564.60 C325.93,565.10 326.30,565.70 326.70,566.20 C327.10,566.70 327.67,567.03 327.90,567.60 C328.13,568.17 328.62,569.00 328.10,569.60 C327.58,570.20 325.77,570.72 324.80,571.20 C323.83,571.68 323.05,572.13 322.30,572.50 C321.55,572.87 320.63,573.25 320.30,573.40 C319.97,573.25 319.05,572.87 318.30,572.50 C317.55,572.13 316.77,571.68 315.80,571.20 C314.83,570.72 313.02,570.20 312.50,569.60 C311.98,569.00 312.47,568.17 312.70,567.60 C312.93,567.03 313.50,566.70 313.90,566.20 C314.30,565.70 314.67,565.10 315.10,564.60 C315.53,564.10 316.07,563.70 316.50,563.20 C316.93,562.70 317.23,562.10 317.70,561.60 C318.17,561.10 319.08,560.68 319.30,560.20 C319.52,559.72 318.93,559.18 319.00,558.70 C319.07,558.22 319.48,557.70 319.70,557.30 C319.92,556.90 320.20,556.47 320.30,556.30Z" fill="none" stroke="#111" stroke-width="1.0"/>
<rect x="334.40" y="418.60" width="14.40" height="6.40" fill="#3CB450" stroke="#0a0a0a" stroke-width="1.2"/>
<rect x="334.40" y="439.10" width="14.40" height="6.40" fill="#CD1937" stroke="#0a0a0a" stroke-width="1.2"/>
<rect x="334.40" y="461.60" width="14.40" height="6.40" fill="#195A96" stroke="#0a0a0a" stroke-width="1.2"/>
<text x="357.00" y="426.60" font-size="11.2" fill="#222" textLength="58.00" lengthAdjust="spacingAndGlyphs">CD4<tspan font-size="6.2" dy="-4.7">+</tspan><tspan dy="4.7"> Naive</tspan></text>
<text x="357.00" y="447.20" font-size="11.2" fill="#222" textLength="71.00" lengthAdjust="spacingAndGlyphs">CD4<tspan font-size="6.2" dy="-4.7">+</tspan><tspan dy="4.7"> Memory</tspan></text>
<text x="357.00" y="469.60" font-size="11.2" fill="#222" textLength="67.50" lengthAdjust="spacingAndGlyphs">CD4<tspan font-size="6.2" dy="-4.7">+</tspan><tspan dy="4.7"> TEMRA</tspan></text>
<text x="14.50" y="653.00" font-size="14" font-weight="bold" fill="#000">F</text>
<line x1="38.70" y1="659.50" x2="510.50" y2="659.50" stroke="#111" stroke-width="1.3"/>
<text x="258.00" y="653.80" font-size="14" fill="#111" textLength="33.50" lengthAdjust="spacingAndGlyphs">CD8<tspan font-size="7.7" dy="-5.9">+</tspan><tspan dy="5.9"></tspan></text>
<text x="42.60" y="692.00" font-size="13.8" textLength="114.50" lengthAdjust="spacingAndGlyphs">Memory (CD45RA</text>
<text x="157.50" y="687.00" font-size="8.5">–</text>
<text x="162.50" y="692.00" font-size="13.5">)</text>
<line x1="68.50" y1="711.10" x2="143.50" y2="711.10" stroke="#111" stroke-width="1.25"/>
<text x="110.40" y="706.90" font-size="10.5" text-anchor="middle">ns</text>
<line x1="68.50" y1="721.20" x2="103.10" y2="721.20" stroke="#111" stroke-width="1.25"/>
<path d="M84.55,714.66L85.26,716.09L86.83,716.32L85.69,717.43L85.96,719.00L84.55,718.26L83.14,719.00L83.41,717.43L82.27,716.32L83.84,716.09ZM90.35,714.66L91.06,716.09L92.63,716.32L91.49,717.43L91.76,719.00L90.35,718.26L88.94,719.00L89.21,717.43L88.07,716.32L89.64,716.09Z" fill="#111"/>
<line x1="108.80" y1="725.10" x2="141.90" y2="725.10" stroke="#111" stroke-width="1.25"/>
<path d="M121.23,718.06L121.93,719.49L123.51,719.72L122.37,720.83L122.64,722.40L121.23,721.66L119.81,722.40L120.08,720.83L118.94,719.72L120.52,719.49ZM126.78,718.06L127.48,719.49L129.06,719.72L127.92,720.83L128.19,722.40L126.78,721.66L125.36,722.40L125.63,720.83L124.49,719.72L126.07,719.49ZM132.33,718.06L133.03,719.49L134.61,719.72L133.47,720.83L133.74,722.40L132.33,721.66L130.91,722.40L131.18,720.83L130.04,719.72L131.62,719.49ZM137.88,718.06L138.58,719.49L140.16,719.72L139.02,720.83L139.29,722.40L137.88,721.66L136.46,722.40L136.73,720.83L135.59,719.72L137.17,719.49Z" fill="#111"/>
<line x1="47.10" y1="721.70" x2="47.10" y2="742.90" stroke="#111" stroke-width="1.3"/>
<line x1="42.10" y1="721.70" x2="47.10" y2="721.70" stroke="#111" stroke-width="1.3"/>
<text x="37.80" y="725.80" font-size="11.5" text-anchor="end">30</text>
<line x1="44.40" y1="742.90" x2="49.80" y2="742.90" stroke="#111" stroke-width="1.3"/>
<text x="37.80" y="747.00" font-size="11.5" text-anchor="end">15</text>
<line x1="47.10" y1="752.50" x2="47.10" y2="838.40" stroke="#111" stroke-width="1.3"/>
<line x1="42.10" y1="795.10" x2="47.10" y2="795.10" stroke="#111" stroke-width="1.3"/>
<text x="37.80" y="799.20" font-size="11.5" text-anchor="end">5</text>
<line x1="42.10" y1="838.40" x2="47.10" y2="838.40" stroke="#111" stroke-width="1.3"/>
<text x="37.80" y="842.50" font-size="11.5" text-anchor="end">0</text>
<line x1="44.40" y1="752.50" x2="49.80" y2="752.50" stroke="#111" stroke-width="1.3"/>
<text x="37.80" y="758.40" font-size="11.5" text-anchor="end">10</text>
<text x="21.20" y="779.90" font-size="14" text-anchor="middle" fill="#2a2a2a" textLength="31.20" lengthAdjust="spacingAndGlyphs" transform="rotate(-90 21.20 779.90)">% cTfh</text>
<line x1="42.10" y1="838.40" x2="166.30" y2="838.40" stroke="#111" stroke-width="1.3"/>
<line x1="70.60" y1="838.40" x2="70.60" y2="842.90" stroke="#111" stroke-width="1.3"/>
<line x1="106.60" y1="838.40" x2="106.60" y2="842.90" stroke="#111" stroke-width="1.3"/>
<line x1="142.40" y1="838.40" x2="142.40" y2="842.90" stroke="#111" stroke-width="1.3"/>
<text x="78.20" y="852.90" font-size="12.3" text-anchor="end" textLength="17.75" lengthAdjust="spacingAndGlyphs" transform="rotate(-45 78.20 852.90)">HC</text>
<text x="114.20" y="852.90" font-size="12.3" text-anchor="end" textLength="21.93" lengthAdjust="spacingAndGlyphs" transform="rotate(-45 114.20 852.90)">pES</text>
<text x="150.00" y="852.90" font-size="12.3" text-anchor="end" textLength="25.46" lengthAdjust="spacingAndGlyphs" transform="rotate(-45 150.00 852.90)">cITP</text>
<circle cx="69.00" cy="782.20" r="2.4" fill="#E2193F" stroke="#0a0a0a" stroke-width="1.0"/>
<circle cx="72.50" cy="785.60" r="2.4" fill="#E2193F" stroke="#0a0a0a" stroke-width="1.0"/>
<circle cx="71.00" cy="792.50" r="2.4" fill="#E2193F" stroke="#0a0a0a" stroke-width="1.0"/>
<circle cx="74.40" cy="797.40" r="2.4" fill="#E2193F" stroke="#0a0a0a" stroke-width="1.0"/>
<circle cx="67.50" cy="799.70" r="2.4" fill="#E2193F" stroke="#0a0a0a" stroke-width="1.0"/>
<circle cx="71.00" cy="801.60" r="2.4" fill="#E2193F" stroke="#0a0a0a" stroke-width="1.0"/>
<circle cx="67.50" cy="809.20" r="2.4" fill="#E2193F" stroke="#0a0a0a" stroke-width="1.0"/>
<circle cx="71.00" cy="810.30" r="2.4" fill="#E2193F" stroke="#0a0a0a" stroke-width="1.0"/>
<circle cx="69.00" cy="816.40" r="2.4" fill="#E2193F" stroke="#0a0a0a" stroke-width="1.0"/>
<circle cx="72.80" cy="817.50" r="2.4" fill="#E2193F" stroke="#0a0a0a" stroke-width="1.0"/>
<circle cx="71.00" cy="822.50" r="2.4" fill="#E2193F" stroke="#0a0a0a" stroke-width="1.0"/>
<circle cx="61.10" cy="827.40" r="2.4" fill="#E2193F" stroke="#0a0a0a" stroke-width="1.0"/>
<circle cx="64.10" cy="826.60" r="2.4" fill="#E2193F" stroke="#0a0a0a" stroke-width="1.0"/>
<circle cx="67.50" cy="827.00" r="2.4" fill="#E2193F" stroke="#0a0a0a" stroke-width="1.0"/>
<circle cx="74.40" cy="828.20" r="2.4" fill="#E2193F" stroke="#0a0a0a" stroke-width="1.0"/>
<circle cx="77.40" cy="825.90" r="2.4" fill="#E2193F" stroke="#0a0a0a" stroke-width="1.0"/>
<circle cx="80.40" cy="827.00" r="2.4" fill="#E2193F" stroke="#0a0a0a" stroke-width="1.0"/>
<circle cx="64.50" cy="831.20" r="2.4" fill="#E2193F" stroke="#0a0a0a" stroke-width="1.0"/>
<circle cx="67.90" cy="833.50" r="2.4" fill="#E2193F" stroke="#0a0a0a" stroke-width="1.0"/>
<circle cx="71.00" cy="830.40" r="2.4" fill="#E2193F" stroke="#0a0a0a" stroke-width="1.0"/>
<circle cx="77.00" cy="831.60" r="2.4" fill="#E2193F" stroke="#0a0a0a" stroke-width="1.0"/>
<circle cx="67.50" cy="838.00" r="2.4" fill="#E2193F" stroke="#0a0a0a" stroke-width="1.0"/>
<circle cx="70.60" cy="835.40" r="2.4" fill="#E2193F" stroke="#0a0a0a" stroke-width="1.0"/>
<circle cx="74.00" cy="835.70" r="2.4" fill="#E2193F" stroke="#0a0a0a" stroke-width="1.0"/>
<line x1="70.80" y1="814.70" x2="70.80" y2="821.60" stroke="#111" stroke-width="1.3"/>
<line x1="59.30" y1="818.20" x2="82.30" y2="818.20" stroke="#111" stroke-width="1.3"/>
<line x1="65.10" y1="814.70" x2="76.50" y2="814.70" stroke="#111" stroke-width="1.3"/>
<line x1="65.10" y1="821.60" x2="76.50" y2="821.60" stroke="#111" stroke-width="1.3"/>
<circle cx="106.50" cy="728.80" r="2.4" fill="#1E6CAD" stroke="#0a0a0a" stroke-width="1.0"/>
<circle cx="106.50" cy="742.20" r="2.4" fill="#1E6CAD" stroke="#0a0a0a" stroke-width="1.0"/>
<circle cx="97.30" cy="770.40" r="2.4" fill="#1E6CAD" stroke="#0a0a0a" stroke-width="1.0"/>
<circle cx="103.50" cy="773.90" r="2.4" fill="#1E6CAD" stroke="#0a0a0a" stroke-width="1.0"/>
<circle cx="109.50" cy="773.40" r="2.4" fill="#1E6CAD" stroke="#0a0a0a" stroke-width="1.0"/>
<circle cx="110.00" cy="766.50" r="2.4" fill="#1E6CAD" stroke="#0a0a0a" stroke-width="1.0"/>
<circle cx="97.30" cy="781.90" r="2.4" fill="#1E6CAD" stroke="#0a0a0a" stroke-width="1.0"/>
<circle cx="103.50" cy="786.10" r="2.4" fill="#1E6CAD" stroke="#0a0a0a" stroke-width="1.0"/>
<circle cx="110.00" cy="786.10" r="2.4" fill="#1E6CAD" stroke="#0a0a0a" stroke-width="1.0"/>
<circle cx="116.50" cy="781.50" r="2.4" fill="#1E6CAD" stroke="#0a0a0a" stroke-width="1.0"/>
<circle cx="97.30" cy="811.90" r="2.4" fill="#1E6CAD" stroke="#0a0a0a" stroke-width="1.0"/>
<circle cx="103.50" cy="813.50" r="2.4" fill="#1E6CAD" stroke="#0a0a0a" stroke-width="1.0"/>
<circle cx="116.50" cy="814.20" r="2.4" fill="#1E6CAD" stroke="#0a0a0a" stroke-width="1.0"/>
<circle cx="97.30" cy="817.70" r="2.4" fill="#1E6CAD" stroke="#0a0a0a" stroke-width="1.0"/>
<circle cx="110.00" cy="823.50" r="2.4" fill="#1E6CAD" stroke="#0a0a0a" stroke-width="1.0"/>
<circle cx="103.50" cy="826.90" r="2.4" fill="#1E6CAD" stroke="#0a0a0a" stroke-width="1.0"/>
<circle cx="103.50" cy="832.00" r="2.4" fill="#1E6CAD" stroke="#0a0a0a" stroke-width="1.0"/>
<circle cx="97.30" cy="835.70" r="2.4" fill="#1E6CAD" stroke="#0a0a0a" stroke-width="1.0"/>
<circle cx="109.50" cy="835.00" r="2.4" fill="#1E6CAD" stroke="#0a0a0a" stroke-width="1.0"/>
<circle cx="116.50" cy="833.40" r="2.4" fill="#1E6CAD" stroke="#0a0a0a" stroke-width="1.0"/>
<line x1="106.60" y1="776.20" x2="106.60" y2="798.10" stroke="#111" stroke-width="1.3"/>
<line x1="94.70" y1="787.20" x2="118.50" y2="787.20" stroke="#111" stroke-width="1.3"/>
<line x1="101.40" y1="776.20" x2="111.80" y2="776.20" stroke="#111" stroke-width="1.3"/>
<line x1="101.40" y1="798.10" x2="111.80" y2="798.10" stroke="#111" stroke-width="1.3"/>
<circle cx="142.80" cy="807.30" r="2.4" fill="#45D35C" stroke="#0a0a0a" stroke-width="1.0"/>
<circle cx="142.30" cy="813.10" r="2.4" fill="#45D35C" stroke="#0a0a0a" stroke-width="1.0"/>
<circle cx="143.50" cy="822.30" r="2.4" fill="#45D35C" stroke="#0a0a0a" stroke-width="1.0"/>
<circle cx="141.20" cy="825.80" r="2.4" fill="#45D35C" stroke="#0a0a0a" stroke-width="1.0"/>
<circle cx="134.20" cy="831.50" r="2.4" fill="#45D35C" stroke="#0a0a0a" stroke-width="1.0"/>
<circle cx="138.90" cy="830.40" r="2.4" fill="#45D35C" stroke="#0a0a0a" stroke-width="1.0"/>
<circle cx="144.60" cy="830.40" r="2.4" fill="#45D35C" stroke="#0a0a0a" stroke-width="1.0"/>
<circle cx="149.20" cy="832.70" r="2.4" fill="#45D35C" stroke="#0a0a0a" stroke-width="1.0"/>
<circle cx="133.10" cy="837.30" r="2.4" fill="#45D35C" stroke="#0a0a0a" stroke-width="1.0"/>
<circle cx="138.90" cy="836.20" r="2.4" fill="#45D35C" stroke="#0a0a0a" stroke-width="1.0"/>
<circle cx="145.10" cy="836.20" r="2.4" fill="#45D35C" stroke="#0a0a0a" stroke-width="1.0"/>
<circle cx="151.50" cy="837.30" r="2.4" fill="#45D35C" stroke="#0a0a0a" stroke-width="1.0"/>
<circle cx="141.80" cy="833.90" r="2.4" fill="#45D35C" stroke="#0a0a0a" stroke-width="1.0"/>
<circle cx="148.10" cy="838.00" r="2.4" fill="#45D35C" stroke="#0a0a0a" stroke-width="1.0"/>
<line x1="142.40" y1="828.10" x2="142.40" y2="831.80" stroke="#111" stroke-width="1.3"/>
<line x1="130.30" y1="830.00" x2="154.50" y2="830.00" stroke="#111" stroke-width="1.3"/>
<line x1="136.90" y1="828.10" x2="147.90" y2="828.10" stroke="#111" stroke-width="1.3"/>
<line x1="136.90" y1="831.80" x2="147.90" y2="831.80" stroke="#111" stroke-width="1.3"/>
<text x="262.00" y="689.80" font-size="14" textLength="35.80" lengthAdjust="spacingAndGlyphs">Naive</text>
<line x1="240.70" y1="707.40" x2="319.60" y2="707.40" stroke="#111" stroke-width="1.25"/>
<text x="281.60" y="704.40" font-size="10.5" text-anchor="middle">ns</text>
<line x1="240.70" y1="718.00" x2="279.90" y2="718.00" stroke="#111" stroke-width="1.25"/>
<path d="M257.35,710.96L258.06,712.39L259.63,712.62L258.49,713.73L258.76,715.30L257.35,714.56L255.94,715.30L256.21,713.73L255.07,712.62L256.64,712.39ZM263.10,710.96L263.81,712.39L265.38,712.62L264.24,713.73L264.51,715.30L263.10,714.56L261.69,715.30L261.96,713.73L260.82,712.62L262.39,712.39ZM268.85,710.96L269.56,712.39L271.13,712.62L269.99,713.73L270.26,715.30L268.85,714.56L267.44,715.30L267.71,713.73L266.57,712.62L268.14,712.39Z" fill="#111"/>
<line x1="282.20" y1="721.00" x2="321.50" y2="721.00" stroke="#111" stroke-width="1.25"/>
<path d="M303.50,713.46L304.21,714.89L305.78,715.12L304.64,716.23L304.91,717.80L303.50,717.06L302.09,717.80L302.36,716.23L301.22,715.12L302.79,714.89Z" fill="#111"/>
<line x1="219.40" y1="716.30" x2="219.40" y2="749.30" stroke="#111" stroke-width="1.3"/>
<line x1="214.40" y1="716.30" x2="219.40" y2="716.30" stroke="#111" stroke-width="1.3"/>
<text x="210.80" y="720.40" font-size="11.5" text-anchor="end">6</text>
<line x1="214.40" y1="730.00" x2="219.40" y2="730.00" stroke="#111" stroke-width="1.3"/>
<text x="210.80" y="734.10" font-size="11.5" text-anchor="end">4</text>
<line x1="214.40" y1="743.30" x2="219.40" y2="743.30" stroke="#111" stroke-width="1.3"/>
<text x="210.80" y="747.40" font-size="11.5" text-anchor="end">2</text>
<line x1="216.70" y1="749.30" x2="222.10" y2="749.30" stroke="#111" stroke-width="1.3"/>
<line x1="219.40" y1="758.30" x2="219.40" y2="837.40" stroke="#111" stroke-width="1.3"/>
<line x1="214.40" y1="798.00" x2="219.40" y2="798.00" stroke="#111" stroke-width="1.3"/>
<text x="211.20" y="802.10" font-size="11.5" text-anchor="end">0.5</text>
<line x1="214.40" y1="837.40" x2="219.40" y2="837.40" stroke="#111" stroke-width="1.3"/>
<text x="211.20" y="841.50" font-size="11.5" text-anchor="end">0.0</text>
<line x1="216.70" y1="758.30" x2="222.10" y2="758.30" stroke="#111" stroke-width="1.3"/>
<text x="211.20" y="763.30" font-size="11.5" text-anchor="end">1.0</text>
<text x="190.20" y="776.00" font-size="14" text-anchor="middle" fill="#2a2a2a" textLength="31.00" lengthAdjust="spacingAndGlyphs" transform="rotate(-90 190.20 776.00)">% cTfh</text>
<line x1="214.50" y1="837.40" x2="343.20" y2="837.40" stroke="#111" stroke-width="1.3"/>
<line x1="244.80" y1="837.40" x2="244.80" y2="841.90" stroke="#111" stroke-width="1.3"/>
<line x1="282.00" y1="837.40" x2="282.00" y2="841.90" stroke="#111" stroke-width="1.3"/>
<line x1="318.90" y1="837.40" x2="318.90" y2="841.90" stroke="#111" stroke-width="1.3"/>
<text x="252.40" y="851.90" font-size="12.3" text-anchor="end" textLength="17.75" lengthAdjust="spacingAndGlyphs" transform="rotate(-45 252.40 851.90)">HC</text>
<text x="289.60" y="851.90" font-size="12.3" text-anchor="end" textLength="21.93" lengthAdjust="spacingAndGlyphs" transform="rotate(-45 289.60 851.90)">pES</text>
<text x="326.50" y="851.90" font-size="12.3" text-anchor="end" textLength="25.46" lengthAdjust="spacingAndGlyphs" transform="rotate(-45 326.50 851.90)">cITP</text>
<circle cx="244.60" cy="748.50" r="2.4" fill="#E2193F" stroke="#0a0a0a" stroke-width="1.0"/>
<circle cx="244.60" cy="819.50" r="2.4" fill="#E2193F" stroke="#0a0a0a" stroke-width="1.0"/>
<circle cx="241.20" cy="824.60" r="2.4" fill="#E2193F" stroke="#0a0a0a" stroke-width="1.0"/>
<circle cx="248.10" cy="825.80" r="2.4" fill="#E2193F" stroke="#0a0a0a" stroke-width="1.0"/>
<circle cx="237.70" cy="830.40" r="2.4" fill="#E2193F" stroke="#0a0a0a" stroke-width="1.0"/>
<circle cx="244.60" cy="831.10" r="2.4" fill="#E2193F" stroke="#0a0a0a" stroke-width="1.0"/>
<circle cx="250.40" cy="830.40" r="2.4" fill="#E2193F" stroke="#0a0a0a" stroke-width="1.0"/>
<circle cx="234.70" cy="835.00" r="2.4" fill="#E2193F" stroke="#0a0a0a" stroke-width="1.0"/>
<circle cx="240.70" cy="833.90" r="2.4" fill="#E2193F" stroke="#0a0a0a" stroke-width="1.0"/>
<circle cx="246.90" cy="835.00" r="2.4" fill="#E2193F" stroke="#0a0a0a" stroke-width="1.0"/>
<circle cx="253.80" cy="836.20" r="2.4" fill="#E2193F" stroke="#0a0a0a" stroke-width="1.0"/>
<circle cx="242.30" cy="837.30" r="2.4" fill="#E2193F" stroke="#0a0a0a" stroke-width="1.0"/>
<line x1="244.60" y1="824.60" x2="244.60" y2="830.50" stroke="#111" stroke-width="1.3"/>
<line x1="232.20" y1="828.10" x2="257.00" y2="828.10" stroke="#111" stroke-width="1.3"/>
<line x1="239.10" y1="824.60" x2="250.10" y2="824.60" stroke="#111" stroke-width="1.3"/>
<line x1="239.10" y1="830.50" x2="250.10" y2="830.50" stroke="#111" stroke-width="1.3"/>
<circle cx="278.50" cy="732.30" r="2.4" fill="#1E6CAD" stroke="#0a0a0a" stroke-width="1.0"/>
<circle cx="285.50" cy="735.30" r="2.4" fill="#1E6CAD" stroke="#0a0a0a" stroke-width="1.0"/>
<circle cx="278.50" cy="741.10" r="2.4" fill="#1E6CAD" stroke="#0a0a0a" stroke-width="1.0"/>
<circle cx="285.50" cy="742.00" r="2.4" fill="#1E6CAD" stroke="#0a0a0a" stroke-width="1.0"/>
<circle cx="282.00" cy="762.80" r="2.4" fill="#1E6CAD" stroke="#0a0a0a" stroke-width="1.0"/>
<circle cx="282.00" cy="769.70" r="2.4" fill="#1E6CAD" stroke="#0a0a0a" stroke-width="1.0"/>
<circle cx="278.50" cy="784.70" r="2.4" fill="#1E6CAD" stroke="#0a0a0a" stroke-width="1.0"/>
<circle cx="285.50" cy="789.30" r="2.4" fill="#1E6CAD" stroke="#0a0a0a" stroke-width="1.0"/>
<circle cx="282.00" cy="798.80" r="2.4" fill="#1E6CAD" stroke="#0a0a0a" stroke-width="1.0"/>
<circle cx="271.80" cy="805.70" r="2.4" fill="#1E6CAD" stroke="#0a0a0a" stroke-width="1.0"/>
<circle cx="291.90" cy="805.00" r="2.4" fill="#1E6CAD" stroke="#0a0a0a" stroke-width="1.0"/>
<circle cx="285.50" cy="809.60" r="2.4" fill="#1E6CAD" stroke="#0a0a0a" stroke-width="1.0"/>
<circle cx="278.50" cy="817.70" r="2.4" fill="#1E6CAD" stroke="#0a0a0a" stroke-width="1.0"/>
<circle cx="291.90" cy="820.50" r="2.4" fill="#1E6CAD" stroke="#0a0a0a" stroke-width="1.0"/>
<circle cx="285.50" cy="823.90" r="2.4" fill="#1E6CAD" stroke="#0a0a0a" stroke-width="1.0"/>
<circle cx="291.90" cy="825.80" r="2.4" fill="#1E6CAD" stroke="#0a0a0a" stroke-width="1.0"/>
<circle cx="271.80" cy="825.80" r="2.4" fill="#1E6CAD" stroke="#0a0a0a" stroke-width="1.0"/>
<circle cx="278.50" cy="828.10" r="2.4" fill="#1E6CAD" stroke="#0a0a0a" stroke-width="1.0"/>
<circle cx="285.50" cy="829.20" r="2.4" fill="#1E6CAD" stroke="#0a0a0a" stroke-width="1.0"/>
<circle cx="275.30" cy="837.30" r="2.4" fill="#1E6CAD" stroke="#0a0a0a" stroke-width="1.0"/>
<circle cx="282.00" cy="837.30" r="2.4" fill="#1E6CAD" stroke="#0a0a0a" stroke-width="1.0"/>
<circle cx="288.50" cy="837.30" r="2.4" fill="#1E6CAD" stroke="#0a0a0a" stroke-width="1.0"/>
<line x1="282.00" y1="759.50" x2="282.00" y2="793.90" stroke="#111" stroke-width="1.3"/>
<line x1="269.60" y1="776.60" x2="294.40" y2="776.60" stroke="#111" stroke-width="1.3"/>
<line x1="276.20" y1="759.50" x2="287.80" y2="759.50" stroke="#111" stroke-width="1.3"/>
<line x1="276.20" y1="793.90" x2="287.80" y2="793.90" stroke="#111" stroke-width="1.3"/>
<circle cx="319.20" cy="791.60" r="2.4" fill="#45D35C" stroke="#0a0a0a" stroke-width="1.0"/>
<circle cx="319.20" cy="800.90" r="2.4" fill="#45D35C" stroke="#0a0a0a" stroke-width="1.0"/>
<circle cx="317.30" cy="814.20" r="2.4" fill="#45D35C" stroke="#0a0a0a" stroke-width="1.0"/>
<circle cx="320.10" cy="813.50" r="2.4" fill="#45D35C" stroke="#0a0a0a" stroke-width="1.0"/>
<circle cx="313.90" cy="826.90" r="2.4" fill="#45D35C" stroke="#0a0a0a" stroke-width="1.0"/>
<circle cx="319.60" cy="824.60" r="2.4" fill="#45D35C" stroke="#0a0a0a" stroke-width="1.0"/>
<circle cx="324.70" cy="824.20" r="2.4" fill="#45D35C" stroke="#0a0a0a" stroke-width="1.0"/>
<circle cx="308.50" cy="830.40" r="2.4" fill="#45D35C" stroke="#0a0a0a" stroke-width="1.0"/>
<circle cx="315.00" cy="831.50" r="2.4" fill="#45D35C" stroke="#0a0a0a" stroke-width="1.0"/>
<circle cx="321.50" cy="831.10" r="2.4" fill="#45D35C" stroke="#0a0a0a" stroke-width="1.0"/>
<circle cx="327.70" cy="829.20" r="2.4" fill="#45D35C" stroke="#0a0a0a" stroke-width="1.0"/>
<circle cx="309.90" cy="836.20" r="2.4" fill="#45D35C" stroke="#0a0a0a" stroke-width="1.0"/>
<circle cx="316.20" cy="836.60" r="2.4" fill="#45D35C" stroke="#0a0a0a" stroke-width="1.0"/>
<circle cx="323.10" cy="836.60" r="2.4" fill="#45D35C" stroke="#0a0a0a" stroke-width="1.0"/>
<circle cx="329.30" cy="837.30" r="2.4" fill="#45D35C" stroke="#0a0a0a" stroke-width="1.0"/>
<circle cx="318.50" cy="832.70" r="2.4" fill="#45D35C" stroke="#0a0a0a" stroke-width="1.0"/>
<circle cx="326.50" cy="833.90" r="2.4" fill="#45D35C" stroke="#0a0a0a" stroke-width="1.0"/>
<circle cx="312.20" cy="824.60" r="2.4" fill="#45D35C" stroke="#0a0a0a" stroke-width="1.0"/>
<line x1="319.20" y1="824.50" x2="319.20" y2="828.50" stroke="#111" stroke-width="1.3"/>
<line x1="306.90" y1="826.50" x2="331.50" y2="826.50" stroke="#111" stroke-width="1.3"/>
<line x1="313.70" y1="824.50" x2="324.70" y2="824.50" stroke="#111" stroke-width="1.3"/>
<line x1="313.70" y1="828.50" x2="324.70" y2="828.50" stroke="#111" stroke-width="1.3"/>
<text x="421.60" y="693.20" font-size="14.4" textLength="48.20" lengthAdjust="spacingAndGlyphs">TEMRA</text>
<line x1="415.30" y1="709.20" x2="487.80" y2="709.20" stroke="#111" stroke-width="1.25"/>
<text x="451.40" y="706.30" font-size="10.5" text-anchor="middle">ns</text>
<line x1="415.30" y1="718.90" x2="451.50" y2="718.90" stroke="#111" stroke-width="1.25"/>
<path d="M433.15,712.96L433.86,714.39L435.43,714.62L434.29,715.73L434.56,717.30L433.15,716.56L431.74,717.30L432.01,715.73L430.87,714.62L432.44,714.39ZM438.35,712.96L439.06,714.39L440.63,714.62L439.49,715.73L439.76,717.30L438.35,716.56L436.94,717.30L437.21,715.73L436.07,714.62L437.64,714.39Z" fill="#111"/>
<line x1="452.20" y1="723.80" x2="486.90" y2="723.80" stroke="#111" stroke-width="1.25"/>
<path d="M468.55,717.56L469.26,718.99L470.83,719.22L469.69,720.33L469.96,721.90L468.55,721.16L467.14,721.90L467.41,720.33L466.27,719.22L467.84,718.99ZM473.75,717.56L474.46,718.99L476.03,719.22L474.89,720.33L475.16,721.90L473.75,721.16L472.34,721.90L472.61,720.33L471.47,719.22L473.04,718.99Z" fill="#111"/>
<line x1="391.20" y1="718.00" x2="391.20" y2="751.30" stroke="#111" stroke-width="1.3"/>
<line x1="386.20" y1="718.00" x2="391.20" y2="718.00" stroke="#111" stroke-width="1.3"/>
<text x="380.20" y="722.10" font-size="11.5" text-anchor="end">20</text>
<line x1="386.20" y1="730.00" x2="391.20" y2="730.00" stroke="#111" stroke-width="1.3"/>
<text x="380.20" y="734.10" font-size="11.5" text-anchor="end">15</text>
<line x1="386.20" y1="741.80" x2="391.20" y2="741.80" stroke="#111" stroke-width="1.3"/>
<text x="380.20" y="745.90" font-size="11.5" text-anchor="end">10</text>
<line x1="388.50" y1="751.30" x2="393.90" y2="751.30" stroke="#111" stroke-width="1.3"/>
<line x1="391.20" y1="760.50" x2="391.20" y2="837.30" stroke="#111" stroke-width="1.3"/>
<line x1="386.20" y1="785.80" x2="391.20" y2="785.80" stroke="#111" stroke-width="1.3"/>
<text x="380.20" y="789.90" font-size="11.5" text-anchor="end">4</text>
<line x1="386.20" y1="811.60" x2="391.20" y2="811.60" stroke="#111" stroke-width="1.3"/>
<text x="380.20" y="815.70" font-size="11.5" text-anchor="end">2</text>
<line x1="386.20" y1="837.30" x2="391.20" y2="837.30" stroke="#111" stroke-width="1.3"/>
<text x="380.20" y="841.40" font-size="11.5" text-anchor="end">0</text>
<line x1="388.50" y1="760.50" x2="393.90" y2="760.50" stroke="#111" stroke-width="1.3"/>
<text x="380.20" y="765.40" font-size="11.5" text-anchor="end">6</text>
<text x="364.30" y="777.50" font-size="14" text-anchor="middle" fill="#2a2a2a" textLength="28.00" lengthAdjust="spacingAndGlyphs" transform="rotate(-90 364.30 777.50)">%cTfh</text>
<line x1="386.50" y1="837.30" x2="512.30" y2="837.30" stroke="#111" stroke-width="1.3"/>
<line x1="414.50" y1="837.30" x2="414.50" y2="841.80" stroke="#111" stroke-width="1.3"/>
<line x1="451.50" y1="837.30" x2="451.50" y2="841.80" stroke="#111" stroke-width="1.3"/>
<line x1="487.30" y1="837.30" x2="487.30" y2="841.80" stroke="#111" stroke-width="1.3"/>
<text x="422.10" y="851.80" font-size="12.3" text-anchor="end" textLength="17.75" lengthAdjust="spacingAndGlyphs" transform="rotate(-45 422.10 851.80)">HC</text>
<text x="459.10" y="851.80" font-size="12.3" text-anchor="end" textLength="21.93" lengthAdjust="spacingAndGlyphs" transform="rotate(-45 459.10 851.80)">pES</text>
<text x="494.90" y="851.80" font-size="12.3" text-anchor="end" textLength="25.46" lengthAdjust="spacingAndGlyphs" transform="rotate(-45 494.90 851.80)">cITP</text>
<circle cx="414.60" cy="823.50" r="2.4" fill="#E2193F" stroke="#0a0a0a" stroke-width="1.0"/>
<circle cx="413.50" cy="827.60" r="2.4" fill="#E2193F" stroke="#0a0a0a" stroke-width="1.0"/>
<circle cx="405.40" cy="833.40" r="2.4" fill="#E2193F" stroke="#0a0a0a" stroke-width="1.0"/>
<circle cx="411.20" cy="832.00" r="2.4" fill="#E2193F" stroke="#0a0a0a" stroke-width="1.0"/>
<circle cx="416.90" cy="832.70" r="2.4" fill="#E2193F" stroke="#0a0a0a" stroke-width="1.0"/>
<circle cx="423.80" cy="832.70" r="2.4" fill="#E2193F" stroke="#0a0a0a" stroke-width="1.0"/>
<circle cx="405.40" cy="836.60" r="2.4" fill="#E2193F" stroke="#0a0a0a" stroke-width="1.0"/>
<circle cx="411.60" cy="836.60" r="2.4" fill="#E2193F" stroke="#0a0a0a" stroke-width="1.0"/>
<circle cx="418.10" cy="836.60" r="2.4" fill="#E2193F" stroke="#0a0a0a" stroke-width="1.0"/>
<circle cx="422.70" cy="836.60" r="2.4" fill="#E2193F" stroke="#0a0a0a" stroke-width="1.0"/>
<circle cx="408.40" cy="834.30" r="2.4" fill="#E2193F" stroke="#0a0a0a" stroke-width="1.0"/>
<circle cx="415.30" cy="835.00" r="2.4" fill="#E2193F" stroke="#0a0a0a" stroke-width="1.0"/>
<circle cx="449.70" cy="730.70" r="2.4" fill="#1E6CAD" stroke="#0a0a0a" stroke-width="1.0"/>
<circle cx="453.20" cy="730.00" r="2.4" fill="#1E6CAD" stroke="#0a0a0a" stroke-width="1.0"/>
<circle cx="451.10" cy="737.60" r="2.4" fill="#1E6CAD" stroke="#0a0a0a" stroke-width="1.0"/>
<circle cx="451.10" cy="771.10" r="2.4" fill="#1E6CAD" stroke="#0a0a0a" stroke-width="1.0"/>
<circle cx="451.10" cy="775.70" r="2.4" fill="#1E6CAD" stroke="#0a0a0a" stroke-width="1.0"/>
<circle cx="451.10" cy="781.90" r="2.4" fill="#1E6CAD" stroke="#0a0a0a" stroke-width="1.0"/>
<circle cx="449.70" cy="788.40" r="2.4" fill="#1E6CAD" stroke="#0a0a0a" stroke-width="1.0"/>
<circle cx="453.20" cy="792.80" r="2.4" fill="#1E6CAD" stroke="#0a0a0a" stroke-width="1.0"/>
<circle cx="451.10" cy="806.60" r="2.4" fill="#1E6CAD" stroke="#0a0a0a" stroke-width="1.0"/>
<circle cx="451.10" cy="813.10" r="2.4" fill="#1E6CAD" stroke="#0a0a0a" stroke-width="1.0"/>
<circle cx="447.40" cy="820.50" r="2.4" fill="#1E6CAD" stroke="#0a0a0a" stroke-width="1.0"/>
<circle cx="453.20" cy="824.20" r="2.4" fill="#1E6CAD" stroke="#0a0a0a" stroke-width="1.0"/>
<circle cx="449.70" cy="827.60" r="2.4" fill="#1E6CAD" stroke="#0a0a0a" stroke-width="1.0"/>
<circle cx="443.00" cy="832.70" r="2.4" fill="#1E6CAD" stroke="#0a0a0a" stroke-width="1.0"/>
<circle cx="449.70" cy="833.40" r="2.4" fill="#1E6CAD" stroke="#0a0a0a" stroke-width="1.0"/>
<circle cx="456.90" cy="833.40" r="2.4" fill="#1E6CAD" stroke="#0a0a0a" stroke-width="1.0"/>
<circle cx="440.00" cy="836.20" r="2.4" fill="#1E6CAD" stroke="#0a0a0a" stroke-width="1.0"/>
<circle cx="446.20" cy="836.20" r="2.4" fill="#1E6CAD" stroke="#0a0a0a" stroke-width="1.0"/>
<circle cx="452.70" cy="836.60" r="2.4" fill="#1E6CAD" stroke="#0a0a0a" stroke-width="1.0"/>
<circle cx="460.80" cy="835.70" r="2.4" fill="#1E6CAD" stroke="#0a0a0a" stroke-width="1.0"/>
<circle cx="455.50" cy="834.30" r="2.4" fill="#1E6CAD" stroke="#0a0a0a" stroke-width="1.0"/>
<line x1="451.10" y1="781.90" x2="451.10" y2="807.30" stroke="#111" stroke-width="1.3"/>
<line x1="438.80" y1="794.60" x2="463.40" y2="794.60" stroke="#111" stroke-width="1.3"/>
<line x1="445.60" y1="781.90" x2="456.60" y2="781.90" stroke="#111" stroke-width="1.3"/>
<line x1="445.60" y1="807.30" x2="456.60" y2="807.30" stroke="#111" stroke-width="1.3"/>
<circle cx="487.30" cy="823.50" r="2.4" fill="#45D35C" stroke="#0a0a0a" stroke-width="1.0"/>
<circle cx="488.50" cy="826.90" r="2.4" fill="#45D35C" stroke="#0a0a0a" stroke-width="1.0"/>
<circle cx="478.10" cy="833.40" r="2.4" fill="#45D35C" stroke="#0a0a0a" stroke-width="1.0"/>
<circle cx="483.90" cy="832.70" r="2.4" fill="#45D35C" stroke="#0a0a0a" stroke-width="1.0"/>
<circle cx="490.80" cy="832.70" r="2.4" fill="#45D35C" stroke="#0a0a0a" stroke-width="1.0"/>
<circle cx="497.70" cy="832.70" r="2.4" fill="#45D35C" stroke="#0a0a0a" stroke-width="1.0"/>
<circle cx="480.40" cy="836.60" r="2.4" fill="#45D35C" stroke="#0a0a0a" stroke-width="1.0"/>
<circle cx="487.30" cy="836.60" r="2.4" fill="#45D35C" stroke="#0a0a0a" stroke-width="1.0"/>
<circle cx="494.20" cy="836.20" r="2.4" fill="#45D35C" stroke="#0a0a0a" stroke-width="1.0"/>
<circle cx="485.50" cy="833.90" r="2.4" fill="#45D35C" stroke="#0a0a0a" stroke-width="1.0"/>
<circle cx="493.10" cy="833.90" r="2.4" fill="#45D35C" stroke="#0a0a0a" stroke-width="1.0"/>
<circle cx="475.80" cy="835.00" r="2.4" fill="#45D35C" stroke="#0a0a0a" stroke-width="1.0"/>
</svg></body></html>
